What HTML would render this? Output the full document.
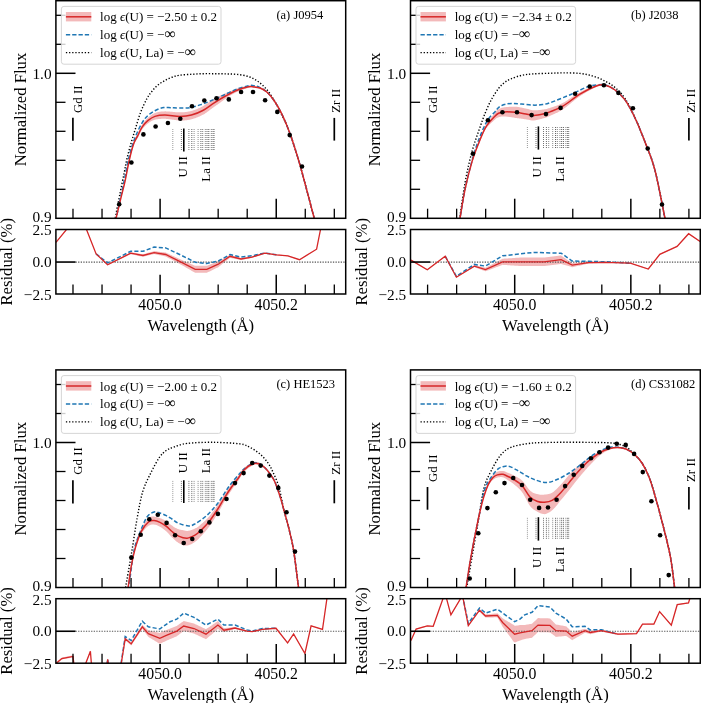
<!DOCTYPE html>
<html><head><meta charset="utf-8"><style>html,body{margin:0;padding:0;background:#fff;overflow:hidden}svg{display:block} svg{will-change:transform}</style></head>
<body><svg width="701" height="703" viewBox="0 0 701 703">
<rect width="701" height="703" fill="#fff"/>
<defs>
<clipPath id="cma"><rect x="55.9" y="0.7" width="289.8" height="217.6"/></clipPath>
<clipPath id="cra"><rect x="55.9" y="229.5" width="289.8" height="64.5"/></clipPath>
<clipPath id="cmb"><rect x="410.5" y="0.7" width="289.8" height="217.6"/></clipPath>
<clipPath id="crb"><rect x="410.5" y="229.5" width="289.8" height="64.5"/></clipPath>
<clipPath id="cmc"><rect x="55.9" y="369.9" width="289.8" height="217.6"/></clipPath>
<clipPath id="crc"><rect x="55.9" y="598.7" width="289.8" height="64.5"/></clipPath>
<clipPath id="cmd"><rect x="410.5" y="369.9" width="289.8" height="217.6"/></clipPath>
<clipPath id="crd"><rect x="410.5" y="598.7" width="289.8" height="64.5"/></clipPath>
</defs>
<g clip-path="url(#cma)">
<path d="M115.4,220.19 L115.43,220.05 L115.43,220.02 L115.46,219.91 L115.54,219.52 L115.74,218.66 L116.1,217.15 L116.17,216.85 L116.25,216.53 L116.33,216.19 L116.41,215.83 L116.5,215.45 L116.59,215.06 L116.69,214.64 L116.79,214.21 L116.9,213.76 L117.01,213.3 L117.12,212.83 L117.23,212.34 L117.35,211.85 L117.47,211.34 L117.59,210.82 L117.72,210.29 L117.84,209.75 L117.97,209.21 L118.1,208.66 L118.23,208.11 L118.36,207.55 L118.5,206.98 L118.63,206.42 L118.76,205.85 L118.9,205.28 L119.03,204.71 L119.17,204.15 L119.3,203.58 L119.43,203.02 L119.57,202.46 L119.7,201.91 L119.83,201.36 L119.96,200.82 L120.08,200.28 L120.21,199.75 L120.33,199.24 L120.45,198.73 L120.57,198.23 L120.69,197.75 L120.8,197.28 L120.93,196.75 L121.05,196.23 L121.18,195.71 L121.3,195.21 L121.43,194.7 L121.55,194.21 L121.67,193.71 L121.79,193.23 L121.91,192.74 L122.03,192.26 L122.15,191.78 L122.27,191.31 L122.39,190.83 L122.51,190.36 L122.63,189.89 L122.75,189.42 L122.87,188.95 L122.98,188.47 L123.1,188 L123.22,187.53 L123.34,187.05 L123.45,186.57 L123.57,186.09 L123.69,185.61 L123.81,185.12 L123.93,184.63 L124.04,184.13 L124.16,183.63 L124.28,183.12 L124.4,182.61 L124.52,182.09 L124.64,181.56 L124.76,181.03 L124.88,180.49 L125,179.93 L125.1,179.48 L125.2,179.02 L125.3,178.55 L125.4,178.07 L125.5,177.59 L125.6,177.1 L125.7,176.61 L125.8,176.11 L125.9,175.6 L126,175.1 L126.1,174.59 L126.2,174.07 L126.3,173.55 L126.4,173.03 L126.5,172.51 L126.6,171.99 L126.7,171.46 L126.8,170.93 L126.9,170.4 L127,169.87 L127.1,169.34 L127.2,168.81 L127.3,168.29 L127.4,167.76 L127.5,167.23 L127.6,166.71 L127.7,166.18 L127.8,165.66 L127.9,165.14 L128,164.63 L128.1,164.12 L128.2,163.61 L128.3,163.11 L128.4,162.61 L128.5,162.12 L128.6,161.63 L128.7,161.14 L128.8,160.67 L128.9,160.2 L129,159.73 L129.1,159.28 L129.2,158.83 L129.3,158.39 L129.43,157.8 L129.57,157.22 L129.7,156.64 L129.83,156.07 L129.96,155.5 L130.09,154.94 L130.22,154.38 L130.35,153.82 L130.49,153.27 L130.62,152.73 L130.75,152.19 L130.88,151.65 L131.01,151.12 L131.14,150.6 L131.27,150.08 L131.4,149.57 L131.53,149.07 L131.66,148.57 L131.79,148.08 L131.92,147.59 L132.05,147.11 L132.18,146.64 L132.31,146.18 L132.45,145.72 L132.58,145.27 L132.71,144.83 L132.84,144.39 L132.97,143.97 L133.1,143.55 L133.23,143.14 L133.37,142.74 L133.5,142.34 L133.72,141.71 L133.95,141.11 L134.17,140.54 L134.4,140.01 L134.62,139.5 L134.85,139.01 L135.08,138.55 L135.3,138.11 L135.53,137.68 L135.76,137.26 L135.98,136.85 L136.21,136.44 L136.44,136.03 L136.67,135.63 L136.89,135.22 L137.12,134.8 L137.35,134.37 L137.57,133.93 L137.8,133.47 L138.02,133.01 L138.25,132.53 L138.46,132.06 L138.68,131.58 L138.9,131.1 L139.11,130.62 L139.32,130.14 L139.54,129.66 L139.75,129.18 L139.97,128.71 L140.19,128.23 L140.41,127.77 L140.64,127.3 L140.87,126.85 L141.1,126.39 L141.34,125.95 L141.59,125.52 L141.84,125.09 L142.1,124.68 L142.4,124.22 L142.7,123.77 L143,123.33 L143.32,122.9 L143.63,122.47 L143.95,122.05 L144.28,121.63 L144.61,121.23 L144.94,120.83 L145.28,120.44 L145.63,120.05 L145.98,119.67 L146.33,119.3 L146.69,118.93 L147.06,118.57 L147.43,118.22 L147.8,117.88 L148.2,117.52 L148.6,117.16 L149,116.82 L149.41,116.47 L149.82,116.14 L150.23,115.81 L150.65,115.49 L151.08,115.18 L151.52,114.88 L151.96,114.59 L152.42,114.31 L152.89,114.04 L153.37,113.78 L153.86,113.54 L154.37,113.3 L154.9,113.09 L155.33,112.92 L155.76,112.76 L156.19,112.61 L156.63,112.47 L157.08,112.34 L157.53,112.21 L157.98,112.09 L158.45,111.98 L158.92,111.87 L159.4,111.79 L159.89,111.72 L160.39,111.66 L160.91,111.6 L161.43,111.55 L161.97,111.51 L162.53,111.47 L163.1,111.44 L163.68,111.41 L164.28,111.39 L164.9,111.37 L165.33,111.37 L165.77,111.37 L166.22,111.38 L166.69,111.4 L167.16,111.42 L167.65,111.45 L168.15,111.48 L168.66,111.52 L169.17,111.56 L169.69,111.6 L170.22,111.65 L170.75,111.7 L171.29,111.75 L171.82,111.81 L172.36,111.86 L172.9,111.91 L173.44,111.97 L173.98,112.02 L174.52,112.07 L175.05,112.11 L175.58,112.16 L176.11,112.2 L176.62,112.24 L177.14,112.27 L177.64,112.3 L178.13,112.32 L178.62,112.34 L179.09,112.35 L179.55,112.35 L180,112.34 L180.59,112.33 L181.18,112.31 L181.74,112.29 L182.3,112.26 L182.84,112.24 L183.38,112.21 L183.9,112.18 L184.42,112.14 L184.93,112.09 L185.43,112.04 L185.93,111.99 L186.43,111.93 L186.92,111.86 L187.41,111.78 L187.9,111.7 L188.39,111.61 L188.88,111.52 L189.38,111.42 L189.88,111.31 L190.38,111.19 L190.89,111.06 L191.4,110.93 L191.88,110.8 L192.35,110.66 L192.83,110.52 L193.3,110.37 L193.78,110.22 L194.25,110.06 L194.72,109.9 L195.2,109.72 L195.68,109.54 L196.15,109.35 L196.63,109.16 L197.1,108.96 L197.58,108.76 L198.05,108.55 L198.53,108.33 L199,108.11 L199.47,107.89 L199.95,107.66 L200.43,107.42 L200.9,107.18 L201.38,106.93 L201.85,106.68 L202.33,106.42 L202.8,106.16 L203.22,105.92 L203.64,105.67 L204.07,105.41 L204.49,105.14 L204.91,104.87 L205.33,104.59 L205.76,104.31 L206.18,104.03 L206.6,103.76 L207.02,103.49 L207.44,103.21 L207.87,102.93 L208.29,102.65 L208.71,102.37 L209.13,102.09 L209.56,101.8 L209.98,101.52 L210.4,101.23 L210.82,100.95 L211.24,100.67 L211.67,100.39 L212.09,100.12 L212.51,99.85 L212.93,99.58 L213.36,99.32 L213.78,99.06 L214.2,98.81 L214.64,98.55 L215.08,98.3 L215.51,98.04 L215.95,97.79 L216.39,97.54 L216.83,97.29 L217.27,97.04 L217.7,96.79 L218.14,96.56 L218.58,96.36 L219.02,96.16 L219.46,95.96 L219.89,95.76 L220.33,95.56 L220.77,95.36 L221.21,95.17 L221.65,94.97 L222.08,94.78 L222.52,94.59 L222.96,94.4 L223.4,94.22 L223.84,94.03 L224.28,93.85 L224.72,93.67 L225.16,93.48 L225.6,93.31 L226.06,93.12 L226.52,92.93 L226.98,92.75 L227.44,92.56 L227.9,92.38 L228.36,92.19 L228.82,92.01 L229.28,91.8 L229.74,91.59 L230.2,91.37 L230.66,91.15 L231.12,90.94 L231.58,90.73 L232.04,90.53 L232.5,90.32 L232.96,90.12 L233.42,89.93 L233.88,89.73 L234.34,89.54 L234.8,89.36 L235.26,89.18 L235.72,89.01 L236.18,88.84 L236.64,88.67 L237.1,88.52 L237.6,88.35 L238.12,88.19 L238.64,88.03 L239.17,87.87 L239.71,87.72 L240.25,87.57 L240.8,87.42 L241.34,87.27 L241.89,87.13 L242.43,87 L242.97,86.86 L243.5,86.74 L244.03,86.62 L244.54,86.5 L245.05,86.39 L245.54,86.28 L246.02,86.19 L246.48,86.09 L246.93,86.01 L247.35,85.93 L247.76,85.85 L248.14,85.79 L248.5,85.72 L249.29,85.61 L249.92,85.54 L250.42,85.52 L250.84,85.53 L251.21,85.58 L251.57,85.65 L251.96,85.73 L252.43,85.83 L253,85.92 L253.42,85.98 L253.87,86.04 L254.34,86.1 L254.82,86.17 L255.32,86.24 L255.84,86.32 L256.36,86.4 L256.88,86.5 L257.41,86.61 L257.94,86.74 L258.47,86.87 L258.99,87.03 L259.5,87.21 L260,87.4 L260.46,87.58 L260.92,87.77 L261.37,87.96 L261.83,88.17 L262.28,88.39 L262.73,88.62 L263.18,88.86 L263.63,89.12 L264.08,89.39 L264.53,89.68 L264.98,89.99 L265.44,90.32 L265.89,90.66 L266.34,91.03 L266.8,91.42 L267.13,91.71 L267.45,92.02 L267.78,92.33 L268.11,92.65 L268.44,92.98 L268.77,93.32 L269.1,93.67 L269.43,94.03 L269.76,94.4 L270.09,94.78 L270.41,95.17 L270.74,95.56 L271.07,95.96 L271.4,96.37 L271.73,96.79 L272.06,97.21 L272.39,97.65 L272.72,98.09 L273.05,98.53 L273.37,98.99 L273.7,99.45 L273.96,99.82 L274.23,100.21 L274.5,100.6 L274.76,101 L275.03,101.41 L275.3,101.83 L275.57,102.25 L275.84,102.67 L276.1,103.11 L276.37,103.54 L276.64,103.98 L276.91,104.43 L277.18,104.88 L277.44,105.33 L277.71,105.78 L277.97,106.24 L278.23,106.7 L278.49,107.16 L278.75,107.62 L279.01,108.09 L279.26,108.55 L279.52,109.02 L279.77,109.48 L280.01,109.94 L280.26,110.41 L280.5,110.87 L280.73,111.31 L280.96,111.75 L281.18,112.2 L281.4,112.64 L281.62,113.08 L281.84,113.52 L282.05,113.96 L282.27,114.41 L282.48,114.85 L282.69,115.3 L282.9,115.75 L283.1,116.2 L283.31,116.65 L283.52,117.11 L283.72,117.56 L283.92,118.03 L284.13,118.49 L284.33,118.96 L284.54,119.43 L284.74,119.91 L284.95,120.39 L285.15,120.88 L285.36,121.37 L285.57,121.86 L285.78,122.37 L285.99,122.87 L286.2,123.39 L286.38,123.82 L286.55,124.25 L286.73,124.67 L286.9,125.09 L287.07,125.51 L287.24,125.93 L287.41,126.34 L287.58,126.75 L287.75,127.17 L287.91,127.59 L288.08,128 L288.25,128.43 L288.42,128.85 L288.59,129.28 L288.75,129.72 L288.93,130.16 L289.1,130.61 L289.27,131.07 L289.45,131.53 L289.62,132.01 L289.8,132.5 L289.98,133 L290.17,133.51 L290.36,134.03 L290.55,134.57 L290.74,135.12 L290.94,135.69 L291.15,136.28 L291.35,136.88 L291.56,137.51 L291.78,138.15 L292,138.81 L292.13,139.18 L292.25,139.56 L292.38,139.94 L292.5,140.32 L292.63,140.7 L292.76,141.08 L292.88,141.46 L293.01,141.84 L293.14,142.22 L293.26,142.61 L293.39,143 L293.52,143.39 L293.65,143.78 L293.78,144.18 L293.91,144.58 L294.04,144.98 L294.17,145.38 L294.31,145.79 L294.44,146.2 L294.58,146.61 L294.71,147.03 L294.85,147.46 L294.98,147.88 L295.12,148.32 L295.26,148.75 L295.4,149.19 L295.54,149.64 L295.68,150.09 L295.83,150.55 L295.97,151.01 L296.12,151.48 L296.27,151.95 L296.42,152.43 L296.57,152.92 L296.72,153.42 L296.87,153.92 L297.03,154.42 L297.18,154.94 L297.34,155.46 L297.5,155.99 L297.66,156.53 L297.82,157.07 L297.99,157.63 L298.15,158.19 L298.32,158.76 L298.49,159.34 L298.66,159.93 L298.84,160.52 L299.01,161.13 L299.19,161.74 L299.37,162.37 L299.56,163 L299.74,163.65 L299.93,164.31 L300.12,164.97 L300.31,165.65 L300.5,166.34 L300.61,166.71 L300.71,167.1 L300.82,167.49 L300.93,167.89 L301.05,168.3 L301.16,168.72 L301.28,169.14 L301.4,169.57 L301.52,170.01 L301.64,170.46 L301.77,170.91 L301.89,171.37 L302.02,171.84 L302.15,172.31 L302.28,172.79 L302.41,173.27 L302.54,173.76 L302.68,174.25 L302.81,174.75 L302.95,175.26 L303.09,175.77 L303.22,176.28 L303.36,176.8 L303.51,177.33 L303.65,177.86 L303.79,178.39 L303.93,178.92 L304.08,179.46 L304.22,180.01 L304.37,180.55 L304.52,181.1 L304.66,181.65 L304.81,182.21 L304.96,182.77 L305.11,183.33 L305.26,183.89 L305.41,184.45 L305.56,185.02 L305.71,185.59 L305.86,186.16 L306.01,186.73 L306.16,187.3 L306.32,187.87 L306.47,188.44 L306.62,189.02 L306.77,189.59 L306.92,190.16 L307.07,190.74 L307.23,191.31 L307.38,191.89 L307.53,192.46 L307.68,193.03 L307.83,193.6 L307.98,194.17 L308.13,194.74 L308.28,195.31 L308.43,195.88 L308.58,196.44 L308.73,197 L308.87,197.56 L309.02,198.12 L309.17,198.67 L309.31,199.23 L309.46,199.78 L309.6,200.32 L309.74,200.87 L309.89,201.4 L310.03,201.94 L310.17,202.47 L310.3,203 L310.44,203.52 L310.58,204.04 L310.71,204.56 L310.85,205.07 L310.98,205.57 L311.11,206.07 L311.24,206.57 L311.37,207.06 L311.5,207.54 L311.62,208.02 L311.75,208.49 L311.87,208.95 L311.99,209.41 L312.11,209.87 L312.23,210.31 L312.34,210.75 L312.45,211.18 L312.57,211.6 L312.68,212.02 L312.78,212.43 L312.89,212.83 L312.99,213.22 L313.09,213.61 L313.19,213.99 L313.29,214.35 L313.39,214.71 L313.48,215.06 L313.57,215.4 L313.66,215.74 L313.74,216.06 L313.82,216.37 L313.9,216.67 L313.98,216.97 L314.06,217.25 L314.13,217.52 L314.2,217.78 L315.2,221.5 L315.49,222.54 L315.36,222 L315.1,220.98 L315,220.58 L315,221.42 L315.1,221.81 L315.36,222.83 L315.49,223.37 L315.2,222.33 L314.2,218.62 L314.13,218.36 L314.06,218.09 L313.98,217.81 L313.9,217.51 L313.82,217.21 L313.74,216.9 L313.66,216.58 L313.57,216.25 L313.48,215.91 L313.39,215.56 L313.29,215.2 L313.19,214.83 L313.09,214.46 L312.99,214.07 L312.89,213.68 L312.78,213.28 L312.68,212.87 L312.57,212.45 L312.45,212.03 L312.34,211.6 L312.23,211.16 L312.11,210.72 L311.99,210.27 L311.87,209.81 L311.75,209.34 L311.62,208.87 L311.5,208.4 L311.37,207.91 L311.24,207.43 L311.11,206.93 L310.98,206.43 L310.85,205.93 L310.71,205.42 L310.58,204.91 L310.44,204.39 L310.3,203.86 L310.17,203.34 L310.03,202.81 L309.89,202.27 L309.74,201.73 L309.6,201.19 L309.46,200.65 L309.31,200.1 L309.17,199.55 L309.02,198.99 L308.87,198.44 L308.73,197.88 L308.58,197.32 L308.43,196.75 L308.28,196.19 L308.13,195.62 L307.98,195.05 L307.83,194.48 L307.68,193.91 L307.53,193.34 L307.38,192.77 L307.23,192.2 L307.07,191.62 L306.92,191.05 L306.77,190.48 L306.62,189.91 L306.47,189.33 L306.32,188.76 L306.16,188.19 L306.01,187.62 L305.86,187.05 L305.71,186.48 L305.56,185.91 L305.41,185.35 L305.26,184.79 L305.11,184.23 L304.96,183.67 L304.81,183.11 L304.66,182.56 L304.52,182 L304.37,181.46 L304.22,180.91 L304.08,180.37 L303.93,179.83 L303.79,179.3 L303.65,178.76 L303.51,178.24 L303.36,177.71 L303.22,177.2 L303.09,176.68 L302.95,176.17 L302.81,175.67 L302.68,175.17 L302.54,174.68 L302.41,174.19 L302.28,173.7 L302.15,173.23 L302.02,172.76 L301.89,172.29 L301.77,171.83 L301.64,171.38 L301.52,170.94 L301.4,170.5 L301.28,170.07 L301.16,169.64 L301.05,169.23 L300.93,168.82 L300.82,168.42 L300.71,168.03 L300.61,167.64 L300.5,167.27 L300.31,166.58 L300.12,165.9 L299.93,165.24 L299.74,164.58 L299.56,163.94 L299.37,163.31 L299.19,162.68 L299.01,162.07 L298.84,161.46 L298.66,160.87 L298.49,160.28 L298.32,159.7 L298.15,159.13 L297.99,158.57 L297.82,158.02 L297.66,157.48 L297.5,156.94 L297.34,156.41 L297.18,155.89 L297.03,155.38 L296.87,154.87 L296.72,154.37 L296.57,153.88 L296.42,153.39 L296.27,152.91 L296.12,152.44 L295.97,151.97 L295.83,151.51 L295.68,151.05 L295.54,150.6 L295.4,150.16 L295.26,149.72 L295.12,149.28 L294.98,148.85 L294.85,148.42 L294.71,148 L294.58,147.58 L294.44,147.17 L294.31,146.76 L294.17,146.35 L294.04,145.95 L293.91,145.55 L293.78,145.15 L293.65,144.76 L293.52,144.37 L293.39,143.98 L293.26,143.59 L293.14,143.2 L293.01,142.82 L292.88,142.44 L292.76,142.06 L292.63,141.68 L292.5,141.3 L292.38,140.92 L292.25,140.55 L292.13,140.17 L292,139.79 L291.78,139.13 L291.56,138.49 L291.35,137.87 L291.15,137.27 L290.94,136.69 L290.74,136.12 L290.55,135.57 L290.36,135.03 L290.17,134.51 L289.98,134 L289.8,133.5 L289.62,133.01 L289.45,132.54 L289.27,132.07 L289.1,131.61 L288.93,131.17 L288.75,130.72 L288.59,130.29 L288.42,129.86 L288.25,129.44 L288.08,129.02 L287.91,128.6 L287.75,128.18 L287.58,127.77 L287.41,127.36 L287.24,126.94 L287.07,126.53 L286.9,126.11 L286.73,125.69 L286.55,125.27 L286.38,124.85 L286.2,124.41 L285.99,123.9 L285.78,123.39 L285.57,122.89 L285.36,122.4 L285.15,121.91 L284.95,121.42 L284.74,120.94 L284.54,120.47 L284.33,120 L284.13,119.53 L283.92,119.07 L283.72,118.61 L283.52,118.15 L283.31,117.7 L283.1,117.24 L282.9,116.79 L282.69,116.35 L282.48,115.9 L282.27,115.46 L282.05,115.02 L281.84,114.58 L281.62,114.13 L281.4,113.69 L281.18,113.25 L280.96,112.81 L280.73,112.37 L280.5,111.93 L280.26,111.47 L280.01,111.01 L279.77,110.55 L279.52,110.09 L279.26,109.62 L279.01,109.16 L278.75,108.7 L278.49,108.24 L278.23,107.78 L277.97,107.32 L277.71,106.86 L277.44,106.41 L277.18,105.96 L276.91,105.51 L276.64,105.07 L276.37,104.63 L276.1,104.2 L275.84,103.77 L275.57,103.34 L275.3,102.93 L275.03,102.51 L274.76,102.11 L274.5,101.71 L274.23,101.32 L273.96,100.93 L273.7,100.55 L273.37,100.1 L273.05,99.65 L272.72,99.2 L272.39,98.76 L272.06,98.33 L271.73,97.91 L271.4,97.5 L271.07,97.09 L270.74,96.69 L270.41,96.3 L270.09,95.91 L269.76,95.54 L269.43,95.17 L269.1,94.81 L268.77,94.47 L268.44,94.13 L268.11,93.8 L267.78,93.48 L267.45,93.17 L267.13,92.87 L266.8,92.58 L266.34,92.19 L265.89,91.83 L265.44,91.48 L264.98,91.16 L264.53,90.85 L264.08,90.56 L263.63,90.29 L263.18,90.04 L262.73,89.8 L262.28,89.57 L261.83,89.36 L261.37,89.15 L260.92,88.96 L260.46,88.78 L260,88.6 L259.5,88.45 L258.99,88.31 L258.47,88.2 L257.94,88.1 L257.41,88.02 L256.88,87.95 L256.36,87.9 L255.84,87.85 L255.32,87.81 L254.82,87.78 L254.34,87.75 L253.87,87.73 L253.42,87.71 L253,87.68 L252.43,87.63 L251.96,87.58 L251.57,87.52 L251.21,87.48 L250.84,87.47 L250.42,87.49 L249.92,87.55 L249.29,87.68 L248.5,87.88 L248.14,87.97 L247.76,88.08 L247.35,88.19 L246.93,88.31 L246.48,88.44 L246.02,88.58 L245.54,88.73 L245.05,88.88 L244.54,89.04 L244.03,89.21 L243.5,89.39 L242.97,89.57 L242.43,89.75 L241.89,89.94 L241.34,90.14 L240.8,90.34 L240.25,90.54 L239.71,90.76 L239.17,90.98 L238.64,91.2 L238.12,91.43 L237.6,91.65 L237.1,91.88 L236.64,92.1 L236.18,92.32 L235.72,92.55 L235.26,92.78 L234.8,93.02 L234.34,93.26 L233.88,93.51 L233.42,93.76 L232.96,94.02 L232.5,94.28 L232.04,94.54 L231.58,94.8 L231.12,95.07 L230.66,95.34 L230.2,95.62 L229.74,95.89 L229.28,96.17 L228.82,96.46 L228.36,96.78 L227.9,97.1 L227.44,97.42 L226.98,97.74 L226.52,98.06 L226.06,98.38 L225.6,98.69 L225.16,99 L224.72,99.31 L224.28,99.62 L223.84,99.93 L223.4,100.25 L222.96,100.56 L222.52,100.88 L222.08,101.19 L221.65,101.51 L221.21,101.83 L220.77,102.16 L220.33,102.48 L219.89,102.81 L219.46,103.13 L219.02,103.46 L218.58,103.79 L218.14,104.12 L217.7,104.42 L217.27,104.71 L216.83,105.01 L216.39,105.3 L215.95,105.6 L215.51,105.89 L215.08,106.19 L214.64,106.49 L214.2,106.79 L213.78,107.08 L213.36,107.38 L212.93,107.69 L212.51,108 L212.09,108.31 L211.67,108.63 L211.24,108.95 L210.82,109.27 L210.4,109.59 L209.98,109.92 L209.56,110.25 L209.13,110.57 L208.71,110.9 L208.29,111.22 L207.87,111.55 L207.44,111.87 L207.02,112.19 L206.6,112.5 L206.18,112.81 L205.76,113.1 L205.33,113.37 L204.91,113.63 L204.49,113.89 L204.07,114.14 L203.64,114.38 L203.22,114.62 L202.8,114.84 L202.33,115.09 L201.85,115.33 L201.38,115.56 L200.9,115.79 L200.43,116.02 L199.95,116.24 L199.47,116.45 L199,116.66 L198.53,116.86 L198.05,117.06 L197.58,117.25 L197.1,117.44 L196.63,117.62 L196.15,117.8 L195.68,117.97 L195.2,118.13 L194.72,118.29 L194.25,118.45 L193.78,118.6 L193.3,118.75 L192.83,118.89 L192.35,119.02 L191.88,119.15 L191.4,119.27 L190.89,119.4 L190.38,119.52 L189.88,119.63 L189.38,119.73 L188.88,119.82 L188.39,119.91 L187.9,119.99 L187.41,120.07 L186.92,120.13 L186.43,120.19 L185.93,120.25 L185.43,120.3 L184.93,120.34 L184.42,120.38 L183.9,120.41 L183.38,120.43 L182.84,120.45 L182.3,120.47 L181.74,120.48 L181.18,120.47 L180.59,120.47 L180,120.46 L179.55,120.44 L179.09,120.42 L178.62,120.39 L178.13,120.35 L177.64,120.31 L177.14,120.26 L176.62,120.2 L176.11,120.14 L175.58,120.08 L175.05,120.01 L174.52,119.94 L173.98,119.87 L173.44,119.79 L172.9,119.72 L172.36,119.64 L171.82,119.56 L171.29,119.49 L170.75,119.41 L170.22,119.34 L169.69,119.27 L169.17,119.2 L168.66,119.14 L168.15,119.08 L167.65,119.02 L167.16,118.97 L166.69,118.93 L166.22,118.89 L165.77,118.86 L165.33,118.84 L164.9,118.83 L164.28,118.82 L163.68,118.81 L163.1,118.81 L162.53,118.82 L161.97,118.84 L161.43,118.86 L160.91,118.88 L160.39,118.92 L159.89,118.96 L159.4,119.01 L158.92,119.06 L158.45,119.1 L157.98,119.15 L157.53,119.21 L157.08,119.27 L156.63,119.34 L156.19,119.42 L155.76,119.51 L155.33,119.61 L154.9,119.71 L154.37,119.86 L153.86,120.02 L153.37,120.2 L152.89,120.39 L152.42,120.59 L151.96,120.81 L151.52,121.04 L151.08,121.28 L150.65,121.53 L150.23,121.79 L149.82,122.06 L149.41,122.34 L149,122.63 L148.6,122.92 L148.2,123.22 L147.8,123.52 L147.43,123.81 L147.06,124.11 L146.69,124.42 L146.33,124.74 L145.98,125.06 L145.63,125.39 L145.28,125.73 L144.94,126.07 L144.61,126.43 L144.28,126.79 L143.95,127.15 L143.63,127.53 L143.32,127.91 L143,128.31 L142.7,128.7 L142.4,129.11 L142.1,129.52 L141.84,129.9 L141.59,130.29 L141.34,130.7 L141.1,131.1 L140.87,131.52 L140.64,131.95 L140.41,132.38 L140.19,132.82 L139.97,133.26 L139.75,133.7 L139.54,134.15 L139.32,134.6 L139.11,135.05 L138.9,135.5 L138.68,135.95 L138.46,136.4 L138.25,136.85 L138.02,137.29 L137.8,137.73 L137.57,138.15 L137.35,138.56 L137.12,138.95 L136.89,139.34 L136.67,139.72 L136.44,140.09 L136.21,140.47 L135.98,140.84 L135.76,141.23 L135.53,141.62 L135.3,142.03 L135.08,142.44 L134.85,142.88 L134.62,143.34 L134.4,143.82 L134.17,144.33 L133.95,144.87 L133.72,145.45 L133.5,146.06 L133.37,146.43 L133.23,146.82 L133.1,147.22 L132.97,147.62 L132.84,148.03 L132.71,148.45 L132.58,148.88 L132.45,149.31 L132.31,149.75 L132.18,150.2 L132.05,150.66 L131.92,151.12 L131.79,151.59 L131.66,152.07 L131.53,152.55 L131.4,153.04 L131.27,153.54 L131.14,154.04 L131.01,154.55 L130.88,155.06 L130.75,155.58 L130.62,156.1 L130.49,156.63 L130.35,157.17 L130.22,157.71 L130.09,158.25 L129.96,158.8 L129.83,159.36 L129.7,159.91 L129.57,160.48 L129.43,161.04 L129.3,161.61 L129.2,162.04 L129.1,162.48 L129,162.93 L128.9,163.38 L128.8,163.84 L128.7,164.3 L128.6,164.77 L128.5,165.25 L128.4,165.73 L128.3,166.22 L128.2,166.71 L128.1,167.21 L128,167.71 L127.9,168.21 L127.8,168.72 L127.7,169.23 L127.6,169.74 L127.5,170.25 L127.4,170.77 L127.3,171.28 L127.2,171.8 L127.1,172.32 L127,172.83 L126.9,173.35 L126.8,173.87 L126.7,174.39 L126.6,174.9 L126.5,175.41 L126.4,175.93 L126.3,176.43 L126.2,176.94 L126.1,177.44 L126,177.94 L125.9,178.44 L125.8,178.93 L125.7,179.42 L125.6,179.9 L125.5,180.38 L125.4,180.85 L125.3,181.31 L125.2,181.77 L125.1,182.22 L125,182.67 L124.88,183.2 L124.76,183.73 L124.64,184.25 L124.52,184.77 L124.4,185.27 L124.28,185.77 L124.16,186.27 L124.04,186.75 L123.93,187.24 L123.81,187.72 L123.69,188.19 L123.57,188.66 L123.45,189.13 L123.34,189.59 L123.22,190.05 L123.1,190.51 L122.98,190.97 L122.87,191.43 L122.75,191.89 L122.63,192.35 L122.51,192.8 L122.39,193.26 L122.27,193.72 L122.15,194.18 L122.03,194.65 L121.91,195.12 L121.79,195.59 L121.67,196.06 L121.55,196.54 L121.43,197.02 L121.3,197.51 L121.18,198 L121.05,198.5 L120.93,199.01 L120.8,199.52 L120.69,199.98 L120.57,200.45 L120.45,200.94 L120.33,201.43 L120.21,201.93 L120.08,202.45 L119.96,202.97 L119.83,203.49 L119.7,204.03 L119.57,204.57 L119.43,205.11 L119.3,205.66 L119.17,206.21 L119.03,206.76 L118.9,207.31 L118.76,207.86 L118.63,208.41 L118.5,208.96 L118.36,209.51 L118.23,210.06 L118.1,210.6 L117.97,211.13 L117.84,211.66 L117.72,212.18 L117.59,212.69 L117.47,213.2 L117.35,213.69 L117.23,214.18 L117.12,214.65 L117.01,215.11 L116.9,215.56 L116.79,215.99 L116.69,216.41 L116.59,216.82 L116.5,217.2 L116.41,217.57 L116.33,217.92 L116.25,218.25 L116.17,218.56 L116.1,218.85 L115.74,220.33 L115.54,221.16 L115.46,221.54 L115.43,221.65 L115.43,221.68 L115.4,221.81 Z" fill="#f3b9ba"/>
<path d="M114.6,221 C114.78,220.07 114.82,219.88 115.7,215.4 C116.58,210.92 118.48,201.2 119.9,194.1 C121.32,187 123.02,178.73 124.2,172.8 C125.38,166.87 125.8,163.63 127,158.5 C128.2,153.37 129.95,147.12 131.4,142 C132.85,136.88 134.15,132.78 135.7,127.8 C137.25,122.82 138.85,116.93 140.7,112.1 C142.55,107.27 145.02,102.15 146.8,98.8 C148.58,95.45 149.68,94.18 151.4,92 C153.12,89.82 155.02,87.52 157.1,85.7 C159.18,83.88 161.62,82.43 163.9,81.1 C166.18,79.77 168.28,78.67 170.8,77.7 C173.32,76.73 175.57,75.87 179,75.3 C182.43,74.73 187.43,74.57 191.4,74.3 C195.37,74.03 199,73.8 202.8,73.7 C206.6,73.6 210.4,73.67 214.2,73.7 C218,73.73 221.78,73.78 225.6,73.9 C229.42,74.02 233.05,73.88 237.1,74.4 C241.15,74.92 246.1,75.58 249.9,77 C253.7,78.42 256.9,80.58 259.9,82.9 C262.9,85.22 265.58,88.08 267.9,90.9 C270.22,93.72 271.98,96.82 273.8,99.8 C275.62,102.78 277.43,106.18 278.8,108.8 C280.17,111.42 280.77,112.98 282,115.5 C283.23,118.02 284.53,119.93 286.2,123.9 C287.87,127.87 289.62,132.15 292,139.3 C294.38,146.45 296.8,153.65 300.5,166.8 C304.2,179.95 311.78,209.17 314.2,218.2 C316.62,227.23 314.87,220.53 315,221" fill="none" stroke="#000" stroke-width="1.4" stroke-dasharray="1.3,1.84"/>
<path d="M115.6,221 C115.72,220.5 115.5,221.83 116.3,218 C117.1,214.17 119.02,204.58 120.4,198 C121.78,191.42 123.12,185.57 124.6,178.5 C126.08,171.43 127.57,162.38 129.3,155.6 C131.03,148.82 132.87,143.27 135,137.8 C137.13,132.33 139.85,126.6 142.1,122.8 C144.35,119 146.13,117.13 148.5,115 C150.87,112.87 153.73,111.23 156.3,110 C158.87,108.77 161.48,107.98 163.9,107.6 C166.32,107.22 168.12,107.65 170.8,107.7 C173.48,107.75 176.57,107.95 180,107.9 C183.43,107.85 187.6,108.07 191.4,107.4 C195.2,106.73 199,105.23 202.8,103.9 C206.6,102.57 210.4,101.02 214.2,99.4 C218,97.78 221.78,95.92 225.6,94.2 C229.42,92.48 233.28,90.52 237.1,89.1 C240.92,87.68 245.65,86.27 248.5,85.7 C251.35,85.13 252.28,85.38 254.2,85.7 C256.12,86.02 257.9,86.55 260,87.6 C262.1,88.65 264.52,89.93 266.8,92 C269.08,94.07 271.42,96.77 273.7,100 C275.98,103.23 278.42,107.42 280.5,111.4 C282.58,115.38 284.28,119.25 286.2,123.9 C288.12,128.55 289.62,132.15 292,139.3 C294.38,146.45 296.8,153.65 300.5,166.8 C304.2,179.95 311.78,209.17 314.2,218.2 C316.62,227.23 314.87,220.53 315,221" fill="none" stroke="#1f77b4" stroke-width="1.5" stroke-dasharray="4.1,2.2"/>
<path d="M115.4,221 C115.52,220.5 115.2,221.77 116.1,218 C117,214.23 119.32,204.52 120.8,198.4 C122.28,192.28 123.58,187.7 125,181.3 C126.42,174.9 127.88,166.18 129.3,160 C130.72,153.82 132.08,148.27 133.5,144.2 C134.92,140.13 136.37,138.45 137.8,135.6 C139.23,132.75 140.43,129.58 142.1,127.1 C143.77,124.62 145.67,122.48 147.8,120.7 C149.93,118.92 152.05,117.33 154.9,116.4 C157.75,115.47 160.72,115.1 164.9,115.1 C169.08,115.1 175.58,116.4 180,116.4 C184.42,116.4 187.6,116.08 191.4,115.1 C195.2,114.12 199,112.55 202.8,110.5 C206.6,108.45 210.4,105.22 214.2,102.8 C218,100.38 221.78,98.1 225.6,96 C229.42,93.9 233.28,91.73 237.1,90.2 C240.92,88.67 245.85,87.37 248.5,86.8 C251.15,86.23 251.08,86.6 253,86.8 C254.92,87 257.7,87.13 260,88 C262.3,88.87 264.52,90 266.8,92 C269.08,94 271.42,96.77 273.7,100 C275.98,103.23 278.42,107.42 280.5,111.4 C282.58,115.38 284.28,119.25 286.2,123.9 C288.12,128.55 289.62,132.15 292,139.3 C294.38,146.45 296.8,153.65 300.5,166.8 C304.2,179.95 311.78,209.17 314.2,218.2 C316.62,227.23 314.87,220.53 315,221" fill="none" stroke="#d62728" stroke-width="1.5"/>
<circle cx="119.2" cy="204.3" r="2.3" fill="#000"/>
<circle cx="131.4" cy="162.5" r="2.3" fill="#000"/>
<circle cx="143.4" cy="134.4" r="2.3" fill="#000"/>
<circle cx="155.6" cy="126.5" r="2.3" fill="#000"/>
<circle cx="167.9" cy="123" r="2.3" fill="#000"/>
<circle cx="180.3" cy="118.8" r="2.3" fill="#000"/>
<circle cx="192" cy="106.2" r="2.3" fill="#000"/>
<circle cx="204.3" cy="100.5" r="2.3" fill="#000"/>
<circle cx="216.5" cy="98.2" r="2.3" fill="#000"/>
<circle cx="228.8" cy="99.4" r="2.3" fill="#000"/>
<circle cx="241.1" cy="92" r="2.3" fill="#000"/>
<circle cx="253" cy="92" r="2.3" fill="#000"/>
<circle cx="265.1" cy="100.2" r="2.3" fill="#000"/>
<circle cx="277.3" cy="111.9" r="2.3" fill="#000"/>
<circle cx="289.7" cy="135.1" r="2.3" fill="#000"/>
<circle cx="302" cy="166.5" r="2.3" fill="#000"/>
</g>
<g clip-path="url(#cra)">
<path d="M56,242 L56.65,241.2 L57.31,240.41 L57.96,239.61 L58.62,238.82 L59.27,238.02 L59.93,237.23 L60.58,236.43 L61.24,235.64 L61.89,234.84 L62.55,234.05 L63.2,233.25 L63.85,232.45 L64.51,231.66 L65.16,230.86 L65.82,230.07 L66.47,229.27 L67.13,228.48 L67.78,227.68 L68.44,226.89 L69.09,226.09 L69.75,225.3 L70.4,224.5 L71.34,224.1 L72.28,223.7 L73.22,223.3 L74.15,222.9 L75.09,222.5 L76.03,222.1 L76.97,221.7 L77.91,221.3 L78.85,220.9 L79.78,220.5 L80.72,220.1 L81.66,219.7 L82.6,219.3 L82.97,220.25 L83.35,221.21 L83.72,222.16 L84.1,223.11 L84.47,224.06 L84.85,225.02 L85.22,225.97 L85.6,226.92 L85.97,227.88 L86.35,228.83 L86.72,229.78 L87.1,230.73 L87.47,231.69 L87.85,232.64 L88.22,233.59 L88.6,234.54 L88.97,235.5 L89.35,236.45 L89.72,237.4 L90.1,238.36 L90.47,239.31 L90.85,240.26 L91.22,241.21 L91.6,242.17 L91.97,243.12 L92.35,244.07 L92.72,245.02 L93.1,245.98 L93.47,246.93 L93.85,247.88 L94.22,248.84 L94.6,249.79 L94.97,250.74 L95.35,251.69 L95.72,252.65 L96.1,253.6 L96.87,254.33 L97.63,255.05 L98.4,255.78 L99.17,256.51 L99.93,257.23 L100.7,257.94 L101.47,258.65 L102.23,259.36 L103,260.07 L103.77,260.78 L104.53,261.49 L105.3,262.2 L106.07,262.91 L106.83,263.61 L107.6,264.32 L108.52,263.84 L109.45,263.35 L110.37,262.87 L111.3,262.38 L112.22,261.89 L113.14,261.41 L114.07,260.92 L114.99,260.44 L115.92,259.95 L116.84,259.47 L117.76,258.98 L118.69,258.5 L119.61,258.01 L120.54,257.52 L121.46,257.04 L122.38,256.55 L123.31,256.07 L124.23,255.58 L125.16,255.1 L126.08,254.61 L127,254.13 L127.93,253.64 L128.85,253.15 L129.78,252.67 L130.7,252.19 L131.72,252.36 L132.75,252.53 L133.77,252.7 L134.8,252.87 L135.82,253.04 L136.85,253.21 L137.88,253.38 L138.9,253.55 L139.93,253.72 L140.95,253.89 L141.97,254.06 L143,254.23 L144.01,253.94 L145.02,253.66 L146.03,253.38 L147.04,253.09 L148.05,252.81 L149.05,252.52 L150.06,252.24 L151.07,251.95 L152.08,251.67 L153.09,251.38 L154.1,251.1 L155.15,251.23 L156.21,251.36 L157.26,251.5 L158.32,251.63 L159.37,251.76 L160.43,251.9 L161.48,252.03 L162.54,252.17 L163.59,252.3 L164.65,252.43 L165.7,252.57 L166.61,252.99 L167.51,253.41 L168.42,253.82 L169.32,254.24 L170.23,254.66 L171.14,255.08 L172.04,255.5 L172.95,255.92 L173.85,256.34 L174.76,256.76 L175.66,257.18 L176.57,257.6 L177.48,258.02 L178.38,258.44 L179.29,258.86 L180.19,259.28 L181.1,259.69 L182.04,260.1 L182.98,260.51 L183.92,260.91 L184.86,261.32 L185.8,261.72 L186.74,262.13 L187.68,262.54 L188.62,262.94 L189.56,263.35 L190.5,263.75 L191.44,264.16 L192.38,264.57 L193.32,264.97 L194.26,265.38 L195.2,265.8 L196.25,265.8 L197.31,265.8 L198.36,265.8 L199.42,265.8 L200.47,265.8 L201.53,265.8 L202.58,265.8 L203.64,265.8 L204.69,265.8 L205.75,265.8 L206.8,265.8 L207.76,265.41 L208.72,265.03 L209.68,264.65 L210.63,264.27 L211.59,263.88 L212.55,263.5 L213.51,263.12 L214.47,262.74 L215.43,262.36 L216.38,261.98 L217.34,261.6 L218.3,261.24 L219.14,260.78 L219.97,260.32 L220.81,259.86 L221.64,259.4 L222.48,258.94 L223.31,258.48 L224.15,258.02 L224.99,257.56 L225.82,257.1 L226.66,256.64 L227.49,256.18 L228.33,255.72 L229.16,255.26 L230,254.8 L231,255.09 L232,255.38 L233,255.67 L234,255.96 L235,256.25 L236,256.55 L237,256.84 L238,257.13 L239,257.42 L240,257.71 L241,258 L242,257.85 L243,257.7 L244,257.54 L245,257.39 L246,257.24 L247,257.09 L248,256.94 L249,256.78 L250,256.63 L251,256.48 L252,256.33 L252.98,256.05 L253.97,255.77 L254.95,255.49 L255.94,255.21 L256.92,254.93 L257.91,254.65 L258.89,254.37 L259.88,254.09 L260.86,253.81 L261.85,253.53 L262.83,253.25 L263.82,252.98 L264.8,252.7 L265.85,252.85 L266.91,253 L267.96,253.14 L269.02,253.29 L270.07,253.44 L271.13,253.59 L272.18,253.74 L273.24,253.88 L274.29,254.03 L275.35,254.18 L276.4,254.33 L277.45,254.42 L278.49,254.51 L279.54,254.61 L280.58,254.7 L281.63,254.79 L282.67,254.89 L283.72,254.98 L284.76,255.07 L285.81,255.17 L286.85,255.26 L287.9,255.35 L288.87,255.68 L289.83,256.01 L290.8,256.34 L291.77,256.66 L292.73,256.99 L293.7,257.32 L294.67,257.64 L295.63,257.97 L296.6,258.3 L297.57,258.63 L298.53,258.95 L299.5,259.28 L300.36,258.76 L301.21,258.24 L302.06,257.71 L302.92,257.19 L303.77,256.67 L304.63,256.14 L305.49,255.62 L306.34,255.1 L307.19,254.57 L308.05,254.05 L308.91,253.53 L309.76,253.01 L310.62,252.48 L311.47,251.96 L312.33,251.44 L313.18,250.91 L314.04,250.39 L314.89,249.87 L315.75,249.34 L316.6,248.82 L316.8,247.81 L317,246.81 L317.2,245.8 L317.4,244.79 L317.6,243.79 L317.8,242.78 L318,241.77 L318.2,240.77 L318.4,239.76 L318.6,238.75 L318.8,237.75 L319,236.74 L319.2,235.73 L319.4,234.72 L319.6,233.72 L319.8,232.71 L320,231.7 L320.2,230.7 L320.4,229.69 L320.6,228.68 L320.8,227.68 L321,226.67 L321.2,225.66 L321.4,224.65 L321.6,223.65 L321.8,222.64 L322,221.63 L322.92,221.1 L323.85,220.56 L324.77,220.03 L325.69,219.49 L326.62,218.95 L327.54,218.42 L328.46,217.88 L329.38,217.34 L330.31,216.81 L331.23,216.27 L332.15,215.73 L333.08,215.2 L334,214.66 L335,214.66 L336,214.67 L337,214.67 L338,214.67 L339,214.67 L340,214.68 L341,214.68 L342,214.68 L343,214.68 L344,214.69 L345,214.69 L346,214.69 L346,215.31 L345,215.31 L344,215.31 L343,215.32 L342,215.32 L341,215.32 L340,215.32 L339,215.33 L338,215.33 L337,215.33 L336,215.33 L335,215.34 L334,215.34 L333.08,215.88 L332.15,216.42 L331.23,216.96 L330.31,217.5 L329.38,218.04 L328.46,218.58 L327.54,219.12 L326.62,219.66 L325.69,220.2 L324.77,220.74 L323.85,221.28 L322.92,221.83 L322,222.37 L321.8,223.37 L321.6,224.38 L321.4,225.39 L321.2,226.4 L321,227.41 L320.8,228.41 L320.6,229.42 L320.4,230.43 L320.2,231.44 L320,232.44 L319.8,233.45 L319.6,234.46 L319.4,235.47 L319.2,236.48 L319,237.48 L318.8,238.49 L318.6,239.5 L318.4,240.51 L318.2,241.52 L318,242.52 L317.8,243.53 L317.6,244.54 L317.4,245.55 L317.2,246.55 L317,247.56 L316.8,248.57 L316.6,249.58 L315.75,250.11 L314.89,250.63 L314.04,251.16 L313.18,251.69 L312.33,252.21 L311.47,252.74 L310.62,253.27 L309.76,253.79 L308.91,254.32 L308.05,254.85 L307.19,255.38 L306.34,255.9 L305.49,256.43 L304.63,256.96 L303.77,257.48 L302.92,258.01 L302.06,258.54 L301.21,259.06 L300.36,259.59 L299.5,260.12 L298.53,259.8 L297.57,259.47 L296.6,259.15 L295.63,258.83 L294.67,258.51 L293.7,258.18 L292.73,257.86 L291.77,257.54 L290.8,257.21 L289.83,256.89 L288.87,256.57 L287.9,256.25 L286.85,256.16 L285.81,256.07 L284.76,255.98 L283.72,255.89 L282.67,255.8 L281.63,255.72 L280.58,255.63 L279.54,255.54 L278.49,255.45 L277.45,255.36 L276.4,255.27 L275.35,255.13 L274.29,254.99 L273.24,254.84 L272.18,254.7 L271.13,254.56 L270.07,254.42 L269.02,254.27 L267.96,254.13 L266.91,253.99 L265.85,253.84 L264.8,253.7 L263.82,254.02 L262.83,254.35 L261.85,254.67 L260.86,254.99 L259.88,255.31 L258.89,255.63 L257.91,255.95 L256.92,256.27 L255.94,256.59 L254.95,256.91 L253.97,257.23 L252.98,257.55 L252,257.87 L251,258.06 L250,258.26 L249,258.45 L248,258.65 L247,258.84 L246,259.03 L245,259.23 L244,259.42 L243,259.61 L242,259.81 L241,260 L240,259.8 L239,259.6 L238,259.4 L237,259.2 L236,259 L235,258.8 L234,258.6 L233,258.4 L232,258.2 L231,258 L230,257.8 L229.16,258.47 L228.33,259.14 L227.49,259.81 L226.66,260.48 L225.82,261.14 L224.99,261.81 L224.15,262.48 L223.31,263.15 L222.48,263.82 L221.64,264.49 L220.81,265.16 L219.97,265.82 L219.14,266.49 L218.3,267.16 L217.34,267.65 L216.38,268.12 L215.43,268.59 L214.47,269.06 L213.51,269.53 L212.55,270 L211.59,270.47 L210.63,270.93 L209.68,271.4 L208.72,271.87 L207.76,272.34 L206.8,272.8 L205.75,272.8 L204.69,272.8 L203.64,272.8 L202.58,272.8 L201.53,272.8 L200.47,272.8 L199.42,272.8 L198.36,272.8 L197.31,272.8 L196.25,272.8 L195.2,272.8 L194.26,272.27 L193.32,271.73 L192.38,271.19 L191.44,270.65 L190.5,270.11 L189.56,269.57 L188.62,269.03 L187.68,268.49 L186.74,267.95 L185.8,267.41 L184.86,266.87 L183.92,266.33 L182.98,265.79 L182.04,265.25 L181.1,264.71 L180.19,264.22 L179.29,263.73 L178.38,263.24 L177.48,262.76 L176.57,262.27 L175.66,261.78 L174.76,261.3 L173.85,260.81 L172.95,260.33 L172.04,259.84 L171.14,259.35 L170.23,258.87 L169.32,258.38 L168.42,257.89 L167.51,257.41 L166.61,256.92 L165.7,256.43 L164.65,256.22 L163.59,256.01 L162.54,255.8 L161.48,255.59 L160.43,255.37 L159.37,255.16 L158.32,254.95 L157.26,254.74 L156.21,254.53 L155.15,254.32 L154.1,254.1 L153.09,254.34 L152.08,254.59 L151.07,254.83 L150.06,255.07 L149.05,255.32 L148.05,255.56 L147.04,255.8 L146.03,256.04 L145.02,256.29 L144.01,256.53 L143,256.77 L141.97,256.56 L140.95,256.34 L139.93,256.13 L138.9,255.92 L137.88,255.71 L136.85,255.49 L135.82,255.28 L134.8,255.07 L133.77,254.85 L132.75,254.64 L131.72,254.43 L130.7,254.21 L129.78,254.66 L128.85,255.1 L127.93,255.54 L127,255.99 L126.08,256.43 L125.16,256.87 L124.23,257.31 L123.31,257.76 L122.38,258.2 L121.46,258.64 L120.54,259.08 L119.61,259.53 L118.69,259.97 L117.76,260.41 L116.84,260.85 L115.92,261.3 L114.99,261.74 L114.07,262.18 L113.14,262.62 L112.22,263.07 L111.3,263.51 L110.37,263.95 L109.45,264.39 L108.52,264.83 L107.6,265.28 L106.83,264.53 L106.07,263.79 L105.3,263.04 L104.53,262.3 L103.77,261.55 L103,260.81 L102.23,260.07 L101.47,259.32 L100.7,258.58 L99.93,257.83 L99.17,257.11 L98.4,256.38 L97.63,255.65 L96.87,254.93 L96.1,254.2 L95.72,253.25 L95.35,252.29 L94.97,251.34 L94.6,250.39 L94.22,249.44 L93.85,248.48 L93.47,247.53 L93.1,246.58 L92.72,245.62 L92.35,244.67 L91.97,243.72 L91.6,242.77 L91.22,241.81 L90.85,240.86 L90.47,239.91 L90.1,238.96 L89.72,238 L89.35,237.05 L88.97,236.1 L88.6,235.14 L88.22,234.19 L87.85,233.24 L87.47,232.29 L87.1,231.33 L86.72,230.38 L86.35,229.43 L85.97,228.48 L85.6,227.52 L85.22,226.57 L84.85,225.62 L84.47,224.66 L84.1,223.71 L83.72,222.76 L83.35,221.81 L82.97,220.85 L82.6,219.9 L81.66,220.3 L80.72,220.7 L79.78,221.1 L78.85,221.5 L77.91,221.9 L76.97,222.3 L76.03,222.7 L75.09,223.1 L74.15,223.5 L73.22,223.9 L72.28,224.3 L71.34,224.7 L70.4,225.1 L69.75,225.9 L69.09,226.69 L68.44,227.49 L67.78,228.28 L67.13,229.08 L66.47,229.87 L65.82,230.67 L65.16,231.46 L64.51,232.26 L63.85,233.05 L63.2,233.85 L62.55,234.65 L61.89,235.44 L61.24,236.24 L60.58,237.03 L59.93,237.83 L59.27,238.62 L58.62,239.42 L57.96,240.21 L57.31,241.01 L56.65,241.8 L56,242.6 Z" fill="#f3b9ba"/>
<line x1="75.5" y1="262.05" x2="345.7" y2="262.05" stroke="#555" stroke-width="1.2" stroke-dasharray="1.3,1.3"/>
<path d="M96.1,253.9 L107.6,262.9 L130.7,251.3 L143,251.3 L154.1,247.1 L165.7,247.9 L181.1,255.2 L195.2,262.2 L206.8,263.5 L218.3,261 L230.1,254.5 L241,257.1 L252,255.8 L264.8,253 L276.4,254.8" fill="none" stroke="#1f77b4" stroke-width="1.5" stroke-dasharray="4.1,2.2"/>
<path d="M56,242.3 L70.4,224.8 L82.6,219.6 L96.1,253.9 L107.6,264.8 L130.7,253.2 L143,255.5 L154.1,252.6 L165.7,254.5 L181.1,262.2 L195.2,269.3 L206.8,269.3 L218.3,264.2 L230,256.3 L241,259 L252,257.1 L264.8,253.2 L276.4,254.8 L287.9,255.8 L299.5,259.7 L316.6,249.2 L322,222 L334,215 L346,215" fill="none" stroke="#d62728" stroke-width="1.3" stroke-linejoin="miter"/>
</g>
<g transform="translate(0,0)">
<line x1="72.9" y1="117.8" x2="72.9" y2="140.8" stroke="#000" stroke-width="1.7"/>
<line x1="334.3" y1="117.9" x2="334.3" y2="140.6" stroke="#000" stroke-width="1.7"/>
<line x1="172.8" y1="129" x2="172.8" y2="150.8" stroke="#000" stroke-opacity="0.40" stroke-width="1" stroke-dasharray="1,1"/>
<line x1="181.4" y1="129" x2="181.4" y2="150.8" stroke="#000" stroke-opacity="0.55" stroke-width="1" stroke-dasharray="1,1"/>
<line x1="188.9" y1="129" x2="188.9" y2="150.8" stroke="#000" stroke-opacity="0.55" stroke-width="1" stroke-dasharray="1,1"/>
<line x1="191.8" y1="129" x2="191.8" y2="150.8" stroke="#000" stroke-opacity="0.60" stroke-width="1" stroke-dasharray="1,1"/>
<line x1="194.1" y1="129" x2="194.1" y2="150.8" stroke="#000" stroke-opacity="0.45" stroke-width="1" stroke-dasharray="1,1"/>
<line x1="198.1" y1="129" x2="198.1" y2="150.8" stroke="#000" stroke-opacity="0.45" stroke-width="1" stroke-dasharray="1,1"/>
<line x1="200.9" y1="129" x2="200.9" y2="150.8" stroke="#000" stroke-opacity="0.60" stroke-width="1" stroke-dasharray="1,1"/>
<line x1="202.7" y1="129" x2="202.7" y2="150.8" stroke="#000" stroke-opacity="0.50" stroke-width="1" stroke-dasharray="1,1"/>
<line x1="205.3" y1="129" x2="205.3" y2="150.8" stroke="#000" stroke-opacity="0.45" stroke-width="1" stroke-dasharray="1,1"/>
<line x1="207" y1="129" x2="207" y2="150.8" stroke="#000" stroke-opacity="0.60" stroke-width="1" stroke-dasharray="1,1"/>
<line x1="208.8" y1="129" x2="208.8" y2="150.8" stroke="#000" stroke-opacity="0.65" stroke-width="1" stroke-dasharray="1,1"/>
<line x1="211.3" y1="129" x2="211.3" y2="150.8" stroke="#000" stroke-opacity="0.50" stroke-width="1" stroke-dasharray="1,1"/>
<line x1="213" y1="129" x2="213" y2="150.8" stroke="#000" stroke-opacity="0.55" stroke-width="1" stroke-dasharray="1,1"/>
<line x1="214.1" y1="129" x2="214.1" y2="150.8" stroke="#000" stroke-opacity="0.50" stroke-width="1" stroke-dasharray="1,1"/>
<line x1="183.8" y1="128.4" x2="183.8" y2="151.6" stroke="#000" stroke-width="1.6"/>
<g font-family="Liberation Serif" font-size="12.9" fill="#000">
<text transform="translate(82,113.1) rotate(-90)">Gd II</text>
<text transform="translate(339.9,112.8) rotate(-90)">Zr II</text>
<text text-anchor="end" transform="translate(186.8,156.3) rotate(-90)">U II</text>
<text text-anchor="end" transform="translate(209.6,156.3) rotate(-90)">La II</text>
</g>
<line x1="160.1" y1="218.3" x2="160.1" y2="198.7" stroke="#000" stroke-width="1.5"/>
<line x1="160.1" y1="294.0" x2="160.1" y2="274.8" stroke="#000" stroke-width="1.5"/>
<line x1="276.24" y1="218.3" x2="276.24" y2="198.7" stroke="#000" stroke-width="1.5"/>
<line x1="276.24" y1="294.0" x2="276.24" y2="274.8" stroke="#000" stroke-width="1.5"/>
<line x1="72.99" y1="218.3" x2="72.99" y2="208.7" stroke="#000" stroke-width="1.3"/>
<line x1="72.99" y1="294.0" x2="72.99" y2="284.6" stroke="#000" stroke-width="1.3"/>
<line x1="102.03" y1="218.3" x2="102.03" y2="208.7" stroke="#000" stroke-width="1.3"/>
<line x1="102.03" y1="294.0" x2="102.03" y2="284.6" stroke="#000" stroke-width="1.3"/>
<line x1="131.06" y1="218.3" x2="131.06" y2="208.7" stroke="#000" stroke-width="1.3"/>
<line x1="131.06" y1="294.0" x2="131.06" y2="284.6" stroke="#000" stroke-width="1.3"/>
<line x1="189.14" y1="218.3" x2="189.14" y2="208.7" stroke="#000" stroke-width="1.3"/>
<line x1="189.14" y1="294.0" x2="189.14" y2="284.6" stroke="#000" stroke-width="1.3"/>
<line x1="218.17" y1="218.3" x2="218.17" y2="208.7" stroke="#000" stroke-width="1.3"/>
<line x1="218.17" y1="294.0" x2="218.17" y2="284.6" stroke="#000" stroke-width="1.3"/>
<line x1="247.21" y1="218.3" x2="247.21" y2="208.7" stroke="#000" stroke-width="1.3"/>
<line x1="247.21" y1="294.0" x2="247.21" y2="284.6" stroke="#000" stroke-width="1.3"/>
<line x1="305.27" y1="218.3" x2="305.27" y2="208.7" stroke="#000" stroke-width="1.3"/>
<line x1="305.27" y1="294.0" x2="305.27" y2="284.6" stroke="#000" stroke-width="1.3"/>
<line x1="334.31" y1="218.3" x2="334.31" y2="208.7" stroke="#000" stroke-width="1.3"/>
<line x1="334.31" y1="294.0" x2="334.31" y2="284.6" stroke="#000" stroke-width="1.3"/>
<line x1="55.9" y1="73.3" x2="75.5" y2="73.3" stroke="#000" stroke-width="1.5"/>
<line x1="55.9" y1="189.3" x2="65.5" y2="189.3" stroke="#000" stroke-width="1.3"/>
<line x1="55.9" y1="160.3" x2="65.5" y2="160.3" stroke="#000" stroke-width="1.3"/>
<line x1="55.9" y1="131.3" x2="65.5" y2="131.3" stroke="#000" stroke-width="1.3"/>
<line x1="55.9" y1="102.3" x2="65.5" y2="102.3" stroke="#000" stroke-width="1.3"/>
<line x1="55.9" y1="44.3" x2="65.5" y2="44.3" stroke="#000" stroke-width="1.3"/>
<line x1="55.9" y1="15.3" x2="65.5" y2="15.3" stroke="#000" stroke-width="1.3"/>
<line x1="55.9" y1="262.05" x2="75.5" y2="262.05" stroke="#000" stroke-width="1.6"/>
<rect x="55.9" y="0.7" width="289.8" height="217.6" fill="none" stroke="#000" stroke-width="1.5"/>
<rect x="55.9" y="229.5" width="289.8" height="64.5" fill="none" stroke="#000" stroke-width="1.5"/>
<g font-family="Liberation Serif" font-size="15.3" fill="#000" text-anchor="end">
<text x="51.6" y="78.6">1.0</text>
<text x="51.6" y="222.2">0.9</text>
<text x="51.6" y="235.4">2.5</text>
<text x="51.6" y="267.25">0.0</text>
<text x="51.6" y="299.9">−2.5</text>
</g>
<g font-family="Liberation Serif" font-size="15.8" fill="#000" text-anchor="middle">
<text x="160.1" y="309.9">4050.0</text>
<text x="276.24" y="309.9">4050.2</text>
</g>
<text font-family="Liberation Serif" font-size="16.7" x="200.8" y="330.5" text-anchor="middle">Wavelength (Å)</text>
<text font-family="Liberation Serif" font-size="16.7" text-anchor="middle" transform="translate(25.6,109.5) rotate(-90)">Normalized Flux</text>
<text font-family="Liberation Serif" font-size="16.7" text-anchor="middle" transform="translate(12.4,261.75) rotate(-90)">Residual (%)</text>
<text font-family="Liberation Serif" font-size="12.5" x="276.4" y="18.9">(a) J0954</text>
<rect x="61.4" y="6.4" width="159.6" height="57.8" rx="2.5" fill="#fff" fill-opacity="0.8" stroke="#d0d0d0" stroke-width="0.9"/>
<rect x="65.9" y="12.0" width="25.4" height="9.4" fill="#f3b9ba"/>
<line x1="65.9" y1="16.8" x2="91.3" y2="16.8" stroke="#d62728" stroke-width="1.5"/>
<line x1="65.9" y1="34.7" x2="91.3" y2="34.7" stroke="#1f77b4" stroke-width="1.5" stroke-dasharray="4.3,2.0"/>
<line x1="65.9" y1="52.7" x2="91.3" y2="52.7" stroke="#000" stroke-width="1.3" stroke-dasharray="1.3,1.84"/>
<g font-family="Liberation Serif" font-size="13" fill="#000">
<text x="100.1" y="21.4">log <tspan font-style="italic">ϵ</tspan>(U) = −2.50 ± 0.2</text>
<text x="100.1" y="39.3">log <tspan font-style="italic">ϵ</tspan>(U) = −<tspan font-size="16">∞</tspan></text>
<text x="100.1" y="57.3">log <tspan font-style="italic">ϵ</tspan>(U, La) = −<tspan font-size="16">∞</tspan></text>
</g>
</g>
<g clip-path="url(#cmb)">
<path d="M459.5,220.5 L459.51,220.44 L459.49,220.6 L459.48,220.66 L459.54,220.33 L459.73,219.28 L460.1,217.2 L460.15,216.91 L460.2,216.61 L460.26,216.3 L460.31,215.96 L460.37,215.62 L460.43,215.26 L460.49,214.89 L460.56,214.5 L460.62,214.11 L460.69,213.7 L460.76,213.28 L460.83,212.84 L460.9,212.4 L460.98,211.95 L461.05,211.48 L461.13,211.01 L461.21,210.53 L461.29,210.04 L461.37,209.54 L461.46,209.04 L461.54,208.52 L461.63,208 L461.71,207.47 L461.8,206.94 L461.89,206.4 L461.98,205.86 L462.07,205.31 L462.16,204.76 L462.26,204.2 L462.35,203.64 L462.45,203.08 L462.54,202.51 L462.64,201.94 L462.74,201.37 L462.83,200.8 L462.93,200.22 L463.03,199.65 L463.13,199.08 L463.23,198.5 L463.33,197.93 L463.44,197.36 L463.54,196.79 L463.64,196.22 L463.74,195.65 L463.85,195.09 L463.95,194.53 L464.06,193.97 L464.16,193.42 L464.26,192.87 L464.37,192.32 L464.47,191.79 L464.58,191.25 L464.68,190.73 L464.78,190.21 L464.89,189.69 L464.99,189.19 L465.1,188.68 L465.2,188.19 L465.31,187.68 L465.42,187.16 L465.53,186.65 L465.64,186.13 L465.75,185.62 L465.86,185.1 L465.98,184.58 L466.09,184.06 L466.21,183.54 L466.33,183.02 L466.44,182.5 L466.56,181.98 L466.68,181.45 L466.8,180.93 L466.92,180.41 L467.04,179.89 L467.17,179.36 L467.29,178.84 L467.41,178.32 L467.54,177.8 L467.66,177.28 L467.79,176.76 L467.91,176.24 L468.04,175.72 L468.16,175.21 L468.29,174.69 L468.42,174.18 L468.54,173.66 L468.67,173.15 L468.8,172.64 L468.93,172.14 L469.06,171.63 L469.18,171.13 L469.31,170.63 L469.44,170.13 L469.57,169.63 L469.7,169.14 L469.83,168.65 L469.95,168.16 L470.08,167.68 L470.21,167.2 L470.34,166.72 L470.47,166.24 L470.6,165.77 L470.72,165.3 L470.85,164.84 L470.98,164.37 L471.1,163.92 L471.23,163.46 L471.36,163.02 L471.48,162.57 L471.61,162.13 L471.73,161.69 L471.85,161.26 L471.98,160.84 L472.1,160.42 L472.28,159.82 L472.45,159.23 L472.63,158.65 L472.8,158.08 L472.98,157.52 L473.15,156.96 L473.33,156.41 L473.5,155.87 L473.68,155.34 L473.85,154.81 L474.03,154.29 L474.2,153.78 L474.37,153.27 L474.55,152.77 L474.72,152.27 L474.9,151.78 L475.07,151.29 L475.25,150.81 L475.42,150.33 L475.59,149.85 L475.77,149.38 L475.94,148.92 L476.12,148.45 L476.29,147.99 L476.46,147.53 L476.64,147.08 L476.81,146.62 L476.98,146.17 L477.16,145.72 L477.33,145.27 L477.51,144.83 L477.68,144.38 L477.85,143.93 L478.03,143.49 L478.2,143.04 L478.38,142.59 L478.55,142.15 L478.73,141.7 L478.9,141.25 L479.1,140.72 L479.31,140.2 L479.51,139.67 L479.71,139.15 L479.91,138.63 L480.1,138.11 L480.3,137.6 L480.5,137.08 L480.69,136.58 L480.88,136.07 L481.08,135.57 L481.27,135.07 L481.47,134.57 L481.66,134.08 L481.86,133.59 L482.05,133.1 L482.25,132.61 L482.45,132.13 L482.65,131.66 L482.85,131.18 L483.05,130.71 L483.26,130.25 L483.46,129.79 L483.67,129.33 L483.88,128.87 L484.1,128.42 L484.32,127.98 L484.54,127.53 L484.76,127.1 L484.99,126.66 L485.22,126.23 L485.46,125.81 L485.7,125.39 L485.99,124.9 L486.3,124.4 L486.61,123.91 L486.94,123.42 L487.27,122.9 L487.61,122.38 L487.96,121.86 L488.32,121.34 L488.68,120.82 L489.04,120.31 L489.4,119.81 L489.77,119.31 L490.13,118.82 L490.5,118.33 L490.86,117.86 L491.22,117.39 L491.58,116.93 L491.93,116.49 L492.27,116.05 L492.61,115.63 L492.94,115.22 L493.26,114.82 L493.56,114.44 L493.86,114.07 L494.14,113.72 L494.41,113.38 L494.66,113.06 L494.9,112.76 L495.53,111.96 L496.04,111.33 L496.44,110.85 L496.77,110.49 L497.06,110.21 L497.35,109.97 L497.67,109.75 L498.04,109.51 L498.5,109.25 L498.92,109.02 L499.33,108.8 L499.75,108.6 L500.17,108.4 L500.62,108.21 L501.1,108.04 L501.61,107.87 L502.17,107.72 L502.78,107.57 L503.46,107.44 L504.2,107.31 L504.58,107.26 L504.99,107.2 L505.41,107.15 L505.86,107.1 L506.32,107.05 L506.79,107.01 L507.28,106.96 L507.77,106.92 L508.28,106.88 L508.8,106.85 L509.33,106.81 L509.86,106.78 L510.4,106.75 L510.94,106.73 L511.48,106.71 L512.02,106.69 L512.56,106.67 L513.1,106.65 L513.63,106.64 L514.16,106.63 L514.68,106.63 L515.2,106.63 L515.7,106.63 L516.2,106.66 L516.71,106.74 L517.23,106.82 L517.74,106.9 L518.27,107 L518.79,107.09 L519.32,107.19 L519.85,107.3 L520.38,107.4 L520.9,107.51 L521.43,107.62 L521.95,107.73 L522.46,107.84 L522.97,107.96 L523.47,108.07 L523.97,108.17 L524.45,108.28 L524.92,108.38 L525.39,108.49 L525.84,108.58 L526.27,108.68 L526.69,108.76 L527.1,108.85 L527.72,108.98 L528.29,109.12 L528.82,109.26 L529.3,109.39 L529.76,109.53 L530.2,109.66 L530.62,109.78 L531.05,109.9 L531.48,110 L531.92,110.09 L532.38,110.17 L532.88,110.25 L533.42,110.3 L534,110.33 L534.44,110.34 L534.91,110.34 L535.39,110.33 L535.9,110.31 L536.42,110.28 L536.96,110.24 L537.51,110.19 L538.06,110.14 L538.62,110.08 L539.18,110.02 L539.73,109.95 L540.29,109.88 L540.83,109.81 L541.37,109.73 L541.89,109.66 L542.4,109.59 L542.88,109.51 L543.35,109.44 L543.79,109.38 L544.2,109.31 L544.86,109.21 L545.41,109.13 L545.88,109.05 L546.3,108.97 L546.69,108.89 L547.08,108.79 L547.49,108.68 L547.95,108.54 L548.49,108.37 L549.13,108.15 L549.9,107.89 L550.24,107.78 L550.59,107.66 L550.95,107.55 L551.33,107.43 L551.71,107.31 L552.11,107.18 L552.52,107.05 L552.94,106.92 L553.37,106.78 L553.8,106.64 L554.25,106.5 L554.7,106.35 L555.17,106.2 L555.64,106.03 L556.12,105.87 L556.6,105.69 L557.09,105.51 L557.59,105.33 L558.09,105.13 L558.6,104.93 L559.11,104.72 L559.63,104.5 L560.15,104.27 L560.67,104.04 L561.2,103.79 L561.73,103.53 L562.27,103.27 L562.8,102.99 L563.17,102.79 L563.54,102.59 L563.92,102.38 L564.3,102.16 L564.69,101.93 L565.08,101.69 L565.47,101.45 L565.87,101.21 L566.27,100.95 L566.68,100.69 L567.09,100.43 L567.5,100.16 L567.91,99.89 L568.33,99.61 L568.75,99.33 L569.17,99.05 L569.59,98.76 L570.02,98.47 L570.44,98.18 L570.87,97.89 L571.3,97.6 L571.73,97.31 L572.17,97.01 L572.6,96.72 L573.03,96.43 L573.47,96.14 L573.9,95.85 L574.33,95.56 L574.77,95.28 L575.2,95 L575.63,94.72 L576.07,94.44 L576.5,94.17 L576.93,93.9 L577.36,93.64 L577.79,93.38 L578.21,93.13 L578.64,92.89 L579.06,92.65 L579.48,92.42 L579.9,92.19 L580.35,91.95 L580.81,91.71 L581.27,91.46 L581.74,91.22 L582.21,90.98 L582.69,90.74 L583.17,90.49 L583.65,90.25 L584.13,90.02 L584.62,89.78 L585.1,89.54 L585.59,89.31 L586.08,89.08 L586.56,88.85 L587.05,88.62 L587.54,88.4 L588.02,88.18 L588.5,87.97 L588.98,87.75 L589.46,87.54 L589.93,87.34 L590.4,87.14 L590.86,86.94 L591.32,86.75 L591.78,86.57 L592.23,86.39 L592.67,86.21 L593.11,86.04 L593.54,85.88 L593.96,85.72 L594.37,85.57 L594.78,85.42 L595.17,85.28 L595.56,85.15 L595.93,85.03 L596.3,84.91 L596.66,84.8 L597,84.7 L597.73,84.49 L598.4,84.3 L599.02,84.16 L599.59,84.04 L600.13,83.95 L600.63,83.89 L601.11,83.86 L601.56,83.85 L602,83.87 L602.43,83.91 L602.85,83.96 L603.27,84.04 L603.7,84.13 L604.14,84.24 L604.6,84.36 L605.09,84.49 L605.6,84.63 L606.03,84.76 L606.46,84.89 L606.9,85.04 L607.33,85.2 L607.77,85.37 L608.21,85.55 L608.65,85.74 L609.1,85.95 L609.54,86.17 L609.99,86.4 L610.44,86.62 L610.89,86.86 L611.34,87.1 L611.79,87.36 L612.25,87.63 L612.7,87.91 L613.16,88.21 L613.62,88.52 L614.08,88.83 L614.54,89.16 L615,89.51 L615.35,89.77 L615.7,90.03 L616.05,90.3 L616.4,90.58 L616.75,90.86 L617.1,91.14 L617.46,91.43 L617.82,91.73 L618.17,92.03 L618.53,92.33 L618.89,92.65 L619.25,92.97 L619.61,93.3 L619.97,93.64 L620.33,93.98 L620.69,94.34 L621.05,94.7 L621.41,95.07 L621.77,95.46 L622.13,95.85 L622.49,96.25 L622.85,96.67 L623.21,97.1 L623.57,97.54 L623.93,97.99 L624.29,98.45 L624.64,98.93 L625,99.42 L625.25,99.77 L625.5,100.12 L625.75,100.49 L625.99,100.86 L626.24,101.23 L626.49,101.61 L626.74,102 L626.98,102.39 L627.23,102.79 L627.48,103.19 L627.73,103.6 L627.97,104.01 L628.22,104.43 L628.47,104.85 L628.72,105.28 L628.96,105.71 L629.21,106.15 L629.46,106.59 L629.7,107.04 L629.95,107.49 L630.2,107.95 L630.44,108.41 L630.69,108.87 L630.94,109.34 L631.18,109.81 L631.43,110.29 L631.68,110.77 L631.93,111.25 L632.17,111.74 L632.42,112.23 L632.67,112.73 L632.92,113.23 L633.16,113.73 L633.41,114.23 L633.66,114.74 L633.91,115.25 L634.15,115.77 L634.4,116.28 L634.65,116.8 L634.9,117.33 L635.09,117.73 L635.28,118.14 L635.47,118.55 L635.67,118.96 L635.86,119.38 L636.05,119.8 L636.24,120.22 L636.43,120.65 L636.63,121.08 L636.82,121.51 L637.01,121.94 L637.2,122.37 L637.4,122.81 L637.59,123.25 L637.78,123.7 L637.97,124.14 L638.17,124.59 L638.36,125.04 L638.55,125.49 L638.74,125.95 L638.94,126.4 L639.13,126.86 L639.32,127.32 L639.51,127.78 L639.71,128.25 L639.9,128.71 L640.09,129.18 L640.29,129.65 L640.48,130.12 L640.67,130.6 L640.86,131.07 L641.06,131.55 L641.25,132.03 L641.44,132.51 L641.63,132.99 L641.83,133.47 L642.02,133.95 L642.21,134.44 L642.4,134.93 L642.6,135.41 L642.79,135.9 L642.98,136.39 L643.17,136.88 L643.37,137.37 L643.56,137.87 L643.75,138.36 L643.94,138.86 L644.13,139.35 L644.33,139.85 L644.52,140.34 L644.71,140.84 L644.9,141.34 L645.07,141.78 L645.24,142.21 L645.41,142.64 L645.57,143.07 L645.74,143.49 L645.91,143.92 L646.08,144.34 L646.25,144.76 L646.41,145.17 L646.58,145.59 L646.75,146.01 L646.92,146.42 L647.09,146.83 L647.25,147.24 L647.42,147.66 L647.59,148.07 L647.76,148.48 L647.92,148.89 L648.09,149.31 L648.26,149.72 L648.43,150.14 L648.59,150.55 L648.76,150.97 L648.93,151.39 L649.1,151.82 L649.26,152.24 L649.43,152.67 L649.6,153.1 L649.77,153.53 L649.93,153.97 L650.1,154.41 L650.27,154.85 L650.44,155.3 L650.6,155.75 L650.77,156.21 L650.94,156.67 L651.11,157.14 L651.27,157.61 L651.44,158.09 L651.61,158.57 L651.78,159.06 L651.94,159.56 L652.11,160.06 L652.28,160.57 L652.45,161.08 L652.61,161.6 L652.78,162.13 L652.95,162.67 L653.12,163.22 L653.29,163.77 L653.45,164.33 L653.62,164.9 L653.79,165.48 L653.96,166.07 L654.13,166.66 L654.29,167.27 L654.46,167.89 L654.63,168.51 L654.8,169.15 L654.9,169.54 L655.01,169.95 L655.11,170.36 L655.22,170.78 L655.32,171.21 L655.43,171.65 L655.54,172.09 L655.65,172.54 L655.76,173 L655.87,173.47 L655.98,173.94 L656.09,174.42 L656.21,174.91 L656.32,175.4 L656.43,175.9 L656.55,176.4 L656.66,176.91 L656.78,177.43 L656.9,177.95 L657.01,178.47 L657.13,179 L657.25,179.54 L657.36,180.08 L657.48,180.62 L657.6,181.17 L657.72,181.72 L657.84,182.27 L657.95,182.83 L658.07,183.39 L658.19,183.95 L658.31,184.52 L658.43,185.09 L658.55,185.66 L658.67,186.23 L658.79,186.8 L658.91,187.38 L659.03,187.96 L659.14,188.54 L659.26,189.11 L659.38,189.69 L659.5,190.28 L659.62,190.86 L659.73,191.44 L659.85,192.02 L659.97,192.6 L660.09,193.18 L660.2,193.76 L660.32,194.34 L660.43,194.91 L660.55,195.49 L660.66,196.06 L660.78,196.64 L660.89,197.21 L661,197.77 L661.11,198.34 L661.22,198.9 L661.33,199.46 L661.44,200.02 L661.55,200.57 L661.66,201.12 L661.77,201.67 L661.87,202.21 L661.98,202.75 L662.08,203.28 L662.19,203.81 L662.29,204.34 L662.39,204.86 L662.49,205.37 L662.59,205.88 L662.69,206.38 L662.78,206.88 L662.88,207.37 L662.98,207.86 L663.07,208.33 L663.16,208.81 L663.25,209.27 L663.34,209.73 L663.43,210.18 L663.52,210.62 L663.6,211.06 L663.68,211.48 L663.77,211.9 L663.85,212.31 L663.93,212.72 L664,213.11 L664.08,213.49 L664.15,213.87 L664.23,214.23 L664.3,214.59 L664.37,214.93 L664.43,215.27 L664.5,215.6 L664.56,215.91 L664.63,216.21 L664.69,216.51 L664.74,216.79 L664.8,217.06 L665.39,219.92 L665.7,221.4 L665.79,221.85 L665.74,221.64 L665.62,221.11 L665.52,220.63 L665.5,220.56 L665.5,221.44 L665.52,221.51 L665.62,221.99 L665.74,222.51 L665.79,222.73 L665.7,222.28 L665.39,220.8 L664.8,217.94 L664.74,217.67 L664.69,217.39 L664.63,217.09 L664.56,216.79 L664.5,216.47 L664.43,216.15 L664.37,215.81 L664.3,215.47 L664.23,215.11 L664.15,214.75 L664.08,214.37 L664,213.99 L663.93,213.6 L663.85,213.19 L663.77,212.78 L663.68,212.36 L663.6,211.94 L663.52,211.5 L663.43,211.06 L663.34,210.61 L663.25,210.15 L663.16,209.69 L663.07,209.22 L662.98,208.74 L662.88,208.25 L662.78,207.76 L662.69,207.26 L662.59,206.76 L662.49,206.25 L662.39,205.74 L662.29,205.22 L662.19,204.7 L662.08,204.17 L661.98,203.63 L661.87,203.1 L661.77,202.55 L661.66,202.01 L661.55,201.46 L661.44,200.9 L661.33,200.35 L661.22,199.79 L661.11,199.23 L661,198.66 L660.89,198.09 L660.78,197.52 L660.66,196.95 L660.55,196.38 L660.43,195.8 L660.32,195.22 L660.2,194.65 L660.09,194.07 L659.97,193.49 L659.85,192.91 L659.73,192.33 L659.62,191.75 L659.5,191.17 L659.38,190.59 L659.26,190.01 L659.14,189.43 L659.03,188.85 L658.91,188.27 L658.79,187.7 L658.67,187.12 L658.55,186.55 L658.43,185.98 L658.31,185.41 L658.19,184.84 L658.07,184.28 L657.95,183.72 L657.84,183.16 L657.72,182.61 L657.6,182.06 L657.48,181.51 L657.36,180.97 L657.25,180.43 L657.13,179.9 L657.01,179.37 L656.9,178.84 L656.78,178.32 L656.66,177.81 L656.55,177.3 L656.43,176.79 L656.32,176.3 L656.21,175.8 L656.09,175.32 L655.98,174.84 L655.87,174.37 L655.76,173.9 L655.65,173.44 L655.54,172.99 L655.43,172.54 L655.32,172.11 L655.22,171.68 L655.11,171.26 L655.01,170.85 L654.9,170.44 L654.8,170.05 L654.63,169.41 L654.46,168.79 L654.29,168.17 L654.13,167.57 L653.96,166.97 L653.79,166.38 L653.62,165.8 L653.45,165.23 L653.29,164.67 L653.12,164.12 L652.95,163.58 L652.78,163.04 L652.61,162.51 L652.45,161.99 L652.28,161.47 L652.11,160.96 L651.94,160.46 L651.78,159.97 L651.61,159.48 L651.44,159 L651.27,158.52 L651.11,158.05 L650.94,157.58 L650.77,157.12 L650.6,156.66 L650.44,156.21 L650.27,155.76 L650.1,155.32 L649.93,154.88 L649.77,154.44 L649.6,154.01 L649.43,153.58 L649.26,153.15 L649.1,152.73 L648.93,152.31 L648.76,151.89 L648.59,151.47 L648.43,151.05 L648.26,150.64 L648.09,150.22 L647.92,149.81 L647.76,149.4 L647.59,148.98 L647.42,148.57 L647.25,148.16 L647.09,147.75 L646.92,147.34 L646.75,146.92 L646.58,146.51 L646.41,146.09 L646.25,145.68 L646.08,145.26 L645.91,144.84 L645.74,144.42 L645.57,143.99 L645.41,143.56 L645.24,143.13 L645.07,142.7 L644.9,142.26 L644.71,141.76 L644.52,141.27 L644.33,140.77 L644.13,140.27 L643.94,139.78 L643.75,139.29 L643.56,138.79 L643.37,138.3 L643.17,137.81 L642.98,137.32 L642.79,136.83 L642.6,136.34 L642.4,135.85 L642.21,135.37 L642.02,134.88 L641.83,134.4 L641.63,133.92 L641.44,133.44 L641.25,132.96 L641.06,132.48 L640.86,132 L640.67,131.53 L640.48,131.06 L640.29,130.59 L640.09,130.12 L639.9,129.65 L639.71,129.18 L639.51,128.72 L639.32,128.26 L639.13,127.8 L638.94,127.34 L638.74,126.88 L638.55,126.43 L638.36,125.98 L638.17,125.53 L637.97,125.08 L637.78,124.63 L637.59,124.19 L637.4,123.75 L637.2,123.31 L637.01,122.88 L636.82,122.45 L636.63,122.02 L636.43,121.59 L636.24,121.16 L636.05,120.74 L635.86,120.32 L635.67,119.91 L635.47,119.49 L635.28,119.08 L635.09,118.68 L634.9,118.27 L634.65,117.75 L634.4,117.23 L634.15,116.71 L633.91,116.2 L633.66,115.69 L633.41,115.18 L633.16,114.68 L632.92,114.18 L632.67,113.68 L632.42,113.18 L632.17,112.69 L631.93,112.21 L631.68,111.72 L631.43,111.24 L631.18,110.77 L630.94,110.29 L630.69,109.83 L630.44,109.36 L630.2,108.9 L629.95,108.45 L629.7,108 L629.46,107.55 L629.21,107.11 L628.96,106.67 L628.72,106.24 L628.47,105.81 L628.22,105.39 L627.97,104.97 L627.73,104.56 L627.48,104.15 L627.23,103.75 L626.98,103.35 L626.74,102.96 L626.49,102.57 L626.24,102.19 L625.99,101.82 L625.75,101.45 L625.5,101.09 L625.25,100.73 L625,100.38 L624.64,99.89 L624.29,99.42 L623.93,98.96 L623.57,98.51 L623.21,98.07 L622.85,97.64 L622.49,97.23 L622.13,96.82 L621.77,96.43 L621.41,96.05 L621.05,95.68 L620.69,95.31 L620.33,94.96 L619.97,94.61 L619.61,94.28 L619.25,93.95 L618.89,93.63 L618.53,93.31 L618.17,93.01 L617.82,92.71 L617.46,92.41 L617.1,92.13 L616.75,91.84 L616.4,91.56 L616.05,91.29 L615.7,91.02 L615.35,90.76 L615,90.49 L614.54,90.15 L614.08,89.82 L613.62,89.51 L613.16,89.2 L612.7,88.91 L612.25,88.63 L611.79,88.36 L611.34,88.1 L610.89,87.85 L610.44,87.62 L609.99,87.4 L609.54,87.2 L609.1,87.02 L608.65,86.85 L608.21,86.69 L607.77,86.54 L607.33,86.4 L606.9,86.28 L606.46,86.16 L606.03,86.06 L605.6,85.97 L605.09,85.87 L604.6,85.77 L604.14,85.69 L603.7,85.61 L603.27,85.56 L602.85,85.51 L602.43,85.49 L602,85.48 L601.56,85.5 L601.11,85.55 L600.63,85.62 L600.13,85.71 L599.59,85.84 L599.02,86 L598.4,86.2 L597.73,86.43 L597,86.7 L596.66,86.84 L596.3,86.99 L595.93,87.15 L595.56,87.32 L595.17,87.5 L594.78,87.68 L594.37,87.88 L593.96,88.08 L593.54,88.28 L593.11,88.5 L592.67,88.72 L592.23,88.95 L591.78,89.18 L591.32,89.42 L590.86,89.67 L590.4,89.92 L589.93,90.17 L589.46,90.43 L588.98,90.7 L588.5,90.97 L588.02,91.24 L587.54,91.52 L587.05,91.79 L586.56,92.08 L586.08,92.36 L585.59,92.65 L585.1,92.94 L584.62,93.23 L584.13,93.53 L583.65,93.82 L583.17,94.12 L582.69,94.42 L582.21,94.72 L581.74,95.02 L581.27,95.31 L580.81,95.61 L580.35,95.91 L579.9,96.21 L579.48,96.49 L579.06,96.78 L578.64,97.08 L578.21,97.38 L577.79,97.7 L577.36,98.01 L576.93,98.34 L576.5,98.66 L576.07,99 L575.63,99.33 L575.2,99.67 L574.77,100.02 L574.33,100.36 L573.9,100.71 L573.47,101.06 L573.03,101.41 L572.6,101.77 L572.17,102.12 L571.73,102.47 L571.3,102.83 L570.87,103.18 L570.44,103.53 L570.02,103.88 L569.59,104.23 L569.17,104.58 L568.75,104.92 L568.33,105.26 L567.91,105.59 L567.5,105.93 L567.09,106.25 L566.68,106.57 L566.27,106.89 L565.87,107.2 L565.47,107.5 L565.08,107.8 L564.69,108.09 L564.3,108.37 L563.92,108.65 L563.54,108.91 L563.17,109.17 L562.8,109.41 L562.27,109.76 L561.73,110.09 L561.2,110.41 L560.67,110.72 L560.15,111.02 L559.63,111.32 L559.11,111.6 L558.6,111.87 L558.09,112.14 L557.59,112.39 L557.09,112.64 L556.6,112.88 L556.12,113.12 L555.64,113.34 L555.17,113.56 L554.7,113.77 L554.25,113.98 L553.8,114.18 L553.37,114.37 L552.94,114.56 L552.52,114.74 L552.11,114.92 L551.71,115.09 L551.33,115.26 L550.95,115.43 L550.59,115.59 L550.24,115.75 L549.9,115.91 L549.13,116.27 L548.49,116.57 L547.95,116.81 L547.49,117.01 L547.08,117.18 L546.69,117.33 L546.3,117.46 L545.88,117.6 L545.41,117.74 L544.86,117.9 L544.2,118.09 L543.79,118.2 L543.35,118.33 L542.88,118.46 L542.4,118.6 L541.89,118.74 L541.37,118.88 L540.83,119.03 L540.29,119.17 L539.73,119.32 L539.18,119.46 L538.62,119.6 L538.06,119.73 L537.51,119.86 L536.96,119.98 L536.42,120.09 L535.9,120.19 L535.39,120.28 L534.91,120.35 L534.44,120.42 L534,120.47 L533.42,120.51 L532.88,120.53 L532.38,120.52 L531.92,120.49 L531.48,120.43 L531.05,120.36 L530.62,120.27 L530.2,120.17 L529.76,120.07 L529.3,119.96 L528.82,119.86 L528.29,119.75 L527.72,119.65 L527.1,119.55 L526.69,119.5 L526.27,119.43 L525.84,119.37 L525.39,119.3 L524.92,119.23 L524.45,119.15 L523.97,119.08 L523.47,119 L522.97,118.92 L522.46,118.84 L521.95,118.76 L521.43,118.68 L520.9,118.61 L520.38,118.53 L519.85,118.46 L519.32,118.39 L518.79,118.32 L518.27,118.26 L517.74,118.2 L517.23,118.14 L516.71,118.09 L516.2,118.05 L515.7,117.97 L515.2,117.88 L514.68,117.78 L514.16,117.69 L513.63,117.6 L513.1,117.51 L512.56,117.42 L512.02,117.33 L511.48,117.25 L510.94,117.17 L510.4,117.1 L509.86,117.02 L509.33,116.95 L508.8,116.89 L508.28,116.83 L507.77,116.77 L507.28,116.72 L506.79,116.67 L506.32,116.62 L505.86,116.59 L505.41,116.55 L504.99,116.52 L504.58,116.5 L504.2,116.49 L503.46,116.47 L502.78,116.48 L502.17,116.51 L501.61,116.55 L501.1,116.62 L500.62,116.71 L500.17,116.81 L499.75,116.93 L499.33,117.06 L498.92,117.2 L498.5,117.35 L498.04,117.52 L497.67,117.63 L497.35,117.73 L497.06,117.87 L496.77,118.04 L496.44,118.29 L496.04,118.62 L495.53,119.06 L494.9,119.64 L494.66,119.85 L494.41,120.08 L494.14,120.32 L493.86,120.56 L493.56,120.83 L493.26,121.1 L492.94,121.38 L492.61,121.67 L492.27,121.97 L491.93,122.28 L491.58,122.6 L491.22,122.93 L490.86,123.26 L490.5,123.61 L490.13,123.96 L489.77,124.32 L489.4,124.68 L489.04,125.05 L488.68,125.43 L488.32,125.82 L487.96,126.21 L487.61,126.6 L487.27,127 L486.94,127.41 L486.61,127.86 L486.3,128.31 L485.99,128.76 L485.7,129.21 L485.46,129.6 L485.22,129.99 L484.99,130.39 L484.76,130.79 L484.54,131.2 L484.32,131.61 L484.1,132.03 L483.88,132.45 L483.67,132.87 L483.46,133.3 L483.26,133.74 L483.05,134.18 L482.85,134.62 L482.65,135.06 L482.45,135.51 L482.25,135.97 L482.05,136.42 L481.86,136.88 L481.66,137.35 L481.47,137.82 L481.27,138.29 L481.08,138.76 L480.88,139.24 L480.69,139.72 L480.5,140.2 L480.3,140.68 L480.1,141.17 L479.91,141.66 L479.71,142.15 L479.51,142.65 L479.31,143.15 L479.1,143.65 L478.9,144.15 L478.73,144.57 L478.55,145 L478.38,145.42 L478.2,145.84 L478.03,146.26 L477.85,146.69 L477.68,147.11 L477.51,147.53 L477.33,147.95 L477.16,148.38 L476.98,148.81 L476.81,149.23 L476.64,149.66 L476.46,150.1 L476.29,150.53 L476.12,150.97 L475.94,151.41 L475.77,151.85 L475.59,152.3 L475.42,152.75 L475.25,153.2 L475.07,153.66 L474.9,154.13 L474.72,154.59 L474.55,155.07 L474.37,155.55 L474.2,156.03 L474.03,156.52 L473.85,157.02 L473.68,157.52 L473.5,158.03 L473.33,158.55 L473.15,159.07 L472.98,159.6 L472.8,160.14 L472.63,160.69 L472.45,161.25 L472.28,161.81 L472.1,162.38 L471.98,162.79 L471.85,163.2 L471.73,163.61 L471.61,164.03 L471.48,164.45 L471.36,164.88 L471.23,165.31 L471.1,165.75 L470.98,166.19 L470.85,166.63 L470.72,167.08 L470.6,167.53 L470.47,167.99 L470.34,168.44 L470.21,168.91 L470.08,169.37 L469.95,169.84 L469.83,170.31 L469.7,170.78 L469.57,171.26 L469.44,171.74 L469.31,172.22 L469.18,172.7 L469.06,173.19 L468.93,173.67 L468.8,174.16 L468.67,174.65 L468.54,175.15 L468.42,175.64 L468.29,176.14 L468.16,176.64 L468.04,177.14 L467.91,177.64 L467.79,178.14 L467.66,178.64 L467.54,179.14 L467.41,179.65 L467.29,180.15 L467.17,180.66 L467.04,181.16 L466.92,181.67 L466.8,182.18 L466.68,182.68 L466.56,183.19 L466.44,183.69 L466.33,184.2 L466.21,184.71 L466.09,185.21 L465.98,185.71 L465.86,186.22 L465.75,186.72 L465.64,187.22 L465.53,187.72 L465.42,188.22 L465.31,188.72 L465.2,189.21 L465.1,189.7 L464.99,190.19 L464.89,190.69 L464.78,191.21 L464.68,191.73 L464.58,192.25 L464.47,192.79 L464.37,193.32 L464.26,193.87 L464.16,194.42 L464.06,194.97 L463.95,195.53 L463.85,196.09 L463.74,196.65 L463.64,197.22 L463.54,197.79 L463.44,198.36 L463.33,198.93 L463.23,199.5 L463.13,200.08 L463.03,200.65 L462.93,201.22 L462.83,201.8 L462.74,202.37 L462.64,202.94 L462.54,203.51 L462.45,204.08 L462.35,204.64 L462.26,205.2 L462.16,205.76 L462.07,206.31 L461.98,206.86 L461.89,207.4 L461.8,207.94 L461.71,208.47 L461.63,209 L461.54,209.52 L461.46,210.04 L461.37,210.54 L461.29,211.04 L461.21,211.53 L461.13,212.01 L461.05,212.48 L460.98,212.95 L460.9,213.4 L460.83,213.84 L460.76,214.28 L460.69,214.7 L460.62,215.11 L460.56,215.5 L460.49,215.89 L460.43,216.26 L460.37,216.62 L460.31,216.96 L460.26,217.3 L460.2,217.61 L460.15,217.91 L460.1,218.2 L459.73,220.28 L459.54,221.33 L459.48,221.66 L459.49,221.6 L459.51,221.44 L459.5,221.5 Z" fill="#f3b9ba"/>
<path d="M459,221 C459.12,220.53 458.67,224.72 459.7,218.2 C460.73,211.68 463.13,193.07 465.2,181.9 C467.27,170.73 469.53,160.58 472.1,151.2 C474.67,141.82 478.28,132.3 480.6,125.6 C482.92,118.9 484.15,115.43 486,111 C487.85,106.57 489.62,102.75 491.7,99 C493.78,95.25 496.42,91.2 498.5,88.5 C500.58,85.8 502.1,84.42 504.2,82.8 C506.3,81.18 508.23,80.03 511.1,78.8 C513.97,77.57 517.78,76.22 521.4,75.4 C525.02,74.58 528.23,74.25 532.8,73.9 C537.37,73.55 543.8,73.47 548.8,73.3 C553.8,73.13 557.62,72.88 562.8,72.9 C567.98,72.92 574.77,72.83 579.9,73.4 C585.03,73.97 589.32,74.97 593.6,76.3 C597.88,77.63 601.88,79.42 605.6,81.4 C609.32,83.38 612.67,85.35 615.9,88.2 C619.13,91.05 621.83,93.65 625,98.5 C628.17,103.35 631.58,110.08 634.9,117.3 C638.22,124.52 641.58,133.08 644.9,141.8 C648.22,150.52 651.48,156.98 654.8,169.6 C658.12,182.22 663.02,208.93 664.8,217.5 C666.58,226.07 665.38,220.42 665.5,221" fill="none" stroke="#000" stroke-width="1.4" stroke-dasharray="1.3,1.84"/>
<path d="M459.5,221 C459.6,220.45 459.13,223.2 460.1,217.7 C461.07,212.2 463.28,197.62 465.3,188 C467.32,178.38 469.93,168.13 472.2,160 C474.47,151.87 476.37,145.78 478.9,139.2 C481.43,132.62 484.73,125.05 487.4,120.5 C490.07,115.95 493.05,114.05 494.9,111.9 C496.75,109.75 496.95,108.83 498.5,107.6 C500.05,106.37 501.92,105.2 504.2,104.5 C506.48,103.8 509.33,103.48 512.2,103.4 C515.07,103.32 517.97,103.72 521.4,104 C524.83,104.28 529.57,104.98 532.8,105.1 C536.03,105.22 537.95,105.08 540.8,104.7 C543.65,104.32 544.8,104.55 549.9,102.8 C555,101.05 564.97,96.92 571.4,94.2 C577.83,91.48 583.37,88.1 588.5,86.5 C593.63,84.9 598.95,84.68 602.2,84.6 C605.45,84.52 605.87,85.1 608,86 C610.13,86.9 612.17,87.68 615,90 C617.83,92.32 621.68,95.27 625,99.9 C628.32,104.53 631.58,110.82 634.9,117.8 C638.22,124.78 641.58,133.17 644.9,141.8 C648.22,150.43 651.48,156.98 654.8,169.6 C658.12,182.22 663.02,208.93 664.8,217.5 C666.58,226.07 665.38,220.42 665.5,221" fill="none" stroke="#1f77b4" stroke-width="1.5" stroke-dasharray="4.1,2.2"/>
<path d="M459.5,221 C459.6,220.45 459.15,223.08 460.1,217.7 C461.05,212.32 463.2,198.08 465.2,188.7 C467.2,179.32 469.82,169.07 472.1,161.4 C474.38,153.73 476.63,148.38 478.9,142.7 C481.17,137.02 483.03,131.72 485.7,127.3 C488.37,122.88 492.77,118.53 494.9,116.2 C497.03,113.87 496.95,114.02 498.5,113.3 C500.05,112.58 501.33,112.07 504.2,111.9 C507.07,111.73 511.88,111.92 515.7,112.3 C519.52,112.68 524.05,113.68 527.1,114.2 C530.15,114.72 531.15,115.48 534,115.4 C536.85,115.32 541.55,114.28 544.2,113.7 C546.85,113.12 546.8,113.15 549.9,111.9 C553,110.65 557.8,109.15 562.8,106.2 C567.8,103.25 574.2,97.62 579.9,94.2 C585.6,90.78 592.72,87.18 597,85.7 C601.28,84.22 602.6,84.58 605.6,85.3 C608.6,86.02 611.77,87.57 615,90 C618.23,92.43 621.68,95.27 625,99.9 C628.32,104.53 631.58,110.82 634.9,117.8 C638.22,124.78 641.58,133.17 644.9,141.8 C648.22,150.43 651.48,156.98 654.8,169.6 C658.12,182.22 663.02,208.93 664.8,217.5 C666.58,226.07 665.38,220.42 665.5,221" fill="none" stroke="#d62728" stroke-width="1.5"/>
<circle cx="473" cy="153.8" r="2.3" fill="#000"/>
<circle cx="487.9" cy="120.3" r="2.3" fill="#000"/>
<circle cx="502.4" cy="112.2" r="2.3" fill="#000"/>
<circle cx="517" cy="112.2" r="2.3" fill="#000"/>
<circle cx="531.6" cy="115.1" r="2.3" fill="#000"/>
<circle cx="546" cy="114.1" r="2.3" fill="#000"/>
<circle cx="560.6" cy="107.9" r="2.3" fill="#000"/>
<circle cx="575.1" cy="93.7" r="2.3" fill="#000"/>
<circle cx="589.7" cy="86.5" r="2.3" fill="#000"/>
<circle cx="603.9" cy="85.3" r="2.3" fill="#000"/>
<circle cx="618.4" cy="92.9" r="2.3" fill="#000"/>
<circle cx="632.9" cy="108.3" r="2.3" fill="#000"/>
<circle cx="647.7" cy="148.5" r="2.3" fill="#000"/>
<circle cx="662" cy="204.5" r="2.3" fill="#000"/>
</g>
<g clip-path="url(#crb)">
<path d="M411,259.6 L411.91,260.14 L412.81,260.68 L413.72,261.22 L414.62,261.76 L415.53,262.29 L416.43,262.83 L417.34,263.37 L418.24,263.91 L419.15,264.45 L420.06,264.99 L420.96,265.53 L421.87,266.07 L422.77,266.61 L423.68,267.14 L424.58,267.68 L425.49,268.22 L426.39,268.76 L427.3,269.3 L428.11,268.68 L428.93,268.06 L429.74,267.45 L430.55,266.83 L431.37,266.21 L432.18,265.59 L433,264.97 L433.81,264.35 L434.62,263.74 L435.44,263.12 L436.25,262.5 L437.06,261.88 L437.88,261.26 L438.69,260.65 L439.5,260.03 L440.32,259.41 L441.13,258.79 L441.95,258.17 L442.76,257.55 L443.57,256.94 L444.39,256.32 L445.2,255.7 L445.69,256.61 L446.17,257.53 L446.66,258.44 L447.15,259.35 L447.63,260.27 L448.12,261.18 L448.61,262.09 L449.1,263 L449.58,263.92 L450.07,264.83 L450.56,265.74 L451.04,266.66 L451.53,267.57 L452.02,268.48 L452.5,269.4 L452.99,270.31 L453.48,271.22 L453.97,272.13 L454.45,273.05 L454.94,273.96 L455.43,274.87 L455.91,275.79 L456.4,276.7 L457.25,276.17 L458.1,275.64 L458.96,275.11 L459.81,274.59 L460.66,274.03 L461.51,273.47 L462.37,272.92 L463.22,272.36 L464.07,271.8 L464.92,271.24 L465.78,270.68 L466.63,270.12 L467.48,269.56 L468.33,269 L469.19,268.44 L470.04,267.88 L470.89,267.33 L471.74,266.77 L472.6,266.21 L473.45,265.65 L474.3,265.08 L475.32,265.31 L476.34,265.55 L477.35,265.79 L478.37,266.02 L479.39,266.26 L480.41,266.5 L481.43,266.73 L482.45,266.97 L483.46,267.21 L484.48,267.44 L485.5,267.68 L486.45,267.18 L487.4,266.69 L488.35,266.19 L489.3,265.7 L490.25,265.2 L491.2,264.7 L492.15,264.21 L493.1,263.71 L494.05,263.22 L495,262.72 L495.95,262.23 L496.9,261.73 L497.85,261.24 L498.8,260.74 L499.75,260.24 L500.7,259.75 L501.65,259.25 L502.6,258.76 L503.62,258.69 L504.65,258.62 L505.67,258.56 L506.69,258.49 L507.72,258.42 L508.74,258.35 L509.76,258.28 L510.79,258.21 L511.81,258.15 L512.84,258.08 L513.86,258.01 L514.88,257.94 L515.91,257.87 L516.93,257.8 L517.95,257.74 L518.98,257.67 L520,257.6 L521,257.6 L522,257.6 L523,257.6 L524,257.6 L525,257.6 L526,257.6 L527,257.6 L528,257.6 L529,257.6 L530,257.6 L531,257.6 L532,257.6 L533,257.6 L534,257.6 L535,257.6 L536,257.6 L537,257.6 L538,257.6 L539,257.6 L540,257.6 L541,257.6 L542,257.6 L543,257.6 L544,257.6 L545.01,257.48 L546.01,257.35 L547.02,257.23 L548.02,257.11 L549.03,256.98 L550.04,256.86 L551.04,256.74 L552.05,256.61 L553.05,256.49 L554.06,256.36 L555.06,256.24 L556.07,256.12 L557.08,255.99 L558.08,255.87 L559.09,255.75 L560.09,255.62 L561.1,255.52 L562.02,256.16 L562.95,256.81 L563.88,257.45 L564.8,258.09 L565.73,258.74 L566.65,259.38 L567.58,260.02 L568.5,260.67 L569.43,261.31 L570.35,261.95 L571.28,262.6 L572.2,263.21 L573.22,263.12 L574.24,263.03 L575.26,262.93 L576.28,262.84 L577.29,262.75 L578.31,262.66 L579.33,262.56 L580.35,262.47 L581.37,262.38 L582.39,262.29 L583.41,262.19 L584.42,262.1 L585.44,262.01 L586.46,261.92 L587.48,261.82 L588.5,261.72 L589.51,261.74 L590.51,261.76 L591.52,261.78 L592.52,261.79 L593.53,261.81 L594.54,261.83 L595.54,261.85 L596.55,261.87 L597.55,261.89 L598.56,261.9 L599.56,261.92 L600.57,261.92 L601.58,261.9 L602.58,261.87 L603.59,261.85 L604.59,261.83 L605.6,261.81 L606.63,261.84 L607.66,261.88 L608.69,261.92 L609.72,261.96 L610.75,262 L611.77,262.04 L612.8,262.08 L613.83,262.11 L614.86,262.15 L615.89,262.19 L616.92,262.23 L617.95,262.27 L618.98,262.31 L620.01,262.35 L621.04,262.38 L622.07,262.42 L623.1,262.46 L624.12,262.5 L625.15,262.54 L626.18,262.58 L627.21,262.61 L628.24,262.65 L629.27,262.69 L630.3,262.73 L631.3,263.05 L632.3,263.38 L633.3,263.7 L634.3,264.02 L635.3,264.35 L636.3,264.67 L637.3,264.99 L638.3,265.32 L639.3,265.64 L640.3,265.96 L641.3,266.29 L642.3,266.61 L643.3,266.93 L644.3,267.26 L645.3,267.58 L646.3,267.9 L647.3,268.23 L648.3,268.55 L648.94,267.73 L649.58,266.92 L650.22,266.1 L650.86,265.28 L651.49,264.47 L652.13,263.65 L652.77,262.84 L653.41,262.02 L654.05,261.2 L654.69,260.39 L655.33,259.57 L655.97,258.76 L656.61,257.94 L657.24,257.12 L657.88,256.31 L658.52,255.49 L659.16,254.68 L659.8,253.86 L660.71,253.44 L661.62,253.03 L662.53,252.62 L663.44,252.2 L664.35,251.79 L665.26,251.37 L666.17,250.96 L667.08,250.54 L667.99,250.13 L668.91,249.71 L669.82,249.3 L670.73,248.88 L671.64,248.47 L672.55,248.05 L673.46,247.64 L674.37,247.22 L675.28,246.81 L676.19,246.39 L677.1,245.98 L677.78,245.23 L678.45,244.48 L679.13,243.74 L679.81,242.99 L680.48,242.25 L681.16,241.5 L681.84,240.75 L682.51,240.01 L683.19,239.26 L683.86,238.51 L684.54,237.77 L685.22,237.02 L685.89,236.27 L686.57,235.53 L687.25,234.78 L687.92,234.03 L688.6,233.29 L689.45,233.87 L690.3,234.45 L691.15,235.03 L692,235.61 L692.85,236.19 L693.7,236.77 L694.55,237.34 L695.4,237.92 L696.25,238.5 L697.1,239.08 L697.95,239.66 L698.8,240.24 L699.65,240.82 L700.5,241.4 L700.5,242.2 L699.65,241.62 L698.8,241.04 L697.95,240.47 L697.1,239.89 L696.25,239.31 L695.4,238.73 L694.55,238.16 L693.7,237.58 L692.85,237 L692,236.42 L691.15,235.84 L690.3,235.27 L689.45,234.69 L688.6,234.11 L687.92,234.86 L687.25,235.61 L686.57,236.35 L685.89,237.1 L685.22,237.85 L684.54,238.6 L683.86,239.35 L683.19,240.09 L682.51,240.84 L681.84,241.59 L681.16,242.34 L680.48,243.08 L679.81,243.83 L679.13,244.58 L678.45,245.33 L677.78,246.08 L677.1,246.82 L676.19,247.24 L675.28,247.66 L674.37,248.07 L673.46,248.49 L672.55,248.91 L671.64,249.32 L670.73,249.74 L669.82,250.16 L668.91,250.57 L667.99,250.99 L667.08,251.41 L666.17,251.82 L665.26,252.24 L664.35,252.66 L663.44,253.07 L662.53,253.49 L661.62,253.91 L660.71,254.32 L659.8,254.74 L659.16,255.56 L658.52,256.37 L657.88,257.19 L657.24,258.01 L656.61,258.83 L655.97,259.64 L655.33,260.46 L654.69,261.28 L654.05,262.1 L653.41,262.91 L652.77,263.73 L652.13,264.55 L651.49,265.37 L650.86,266.18 L650.22,267 L649.58,267.82 L648.94,268.63 L648.3,269.45 L647.3,269.13 L646.3,268.81 L645.3,268.49 L644.3,268.17 L643.3,267.85 L642.3,267.52 L641.3,267.2 L640.3,266.88 L639.3,266.56 L638.3,266.24 L637.3,265.92 L636.3,265.6 L635.3,265.28 L634.3,264.95 L633.3,264.63 L632.3,264.31 L631.3,263.99 L630.3,263.67 L629.27,263.63 L628.24,263.6 L627.21,263.56 L626.18,263.52 L625.15,263.49 L624.12,263.45 L623.1,263.41 L622.07,263.38 L621.04,263.34 L620.01,263.3 L618.98,263.27 L617.95,263.23 L616.92,263.2 L615.89,263.16 L614.86,263.12 L613.83,263.09 L612.8,263.05 L611.77,263.01 L610.75,262.98 L609.72,262.94 L608.69,262.9 L607.66,262.87 L606.63,262.83 L605.6,262.79 L604.59,262.82 L603.59,262.84 L602.58,262.87 L601.58,262.89 L600.57,262.92 L599.56,262.96 L598.56,263.02 L597.55,263.09 L596.55,263.16 L595.54,263.22 L594.54,263.29 L593.53,263.35 L592.52,263.42 L591.52,263.48 L590.51,263.55 L589.51,263.61 L588.5,263.68 L587.48,263.89 L586.46,264.11 L585.44,264.33 L584.42,264.55 L583.41,264.77 L582.39,264.99 L581.37,265.21 L580.35,265.43 L579.33,265.65 L578.31,265.87 L577.29,266.09 L576.28,266.31 L575.26,266.53 L574.24,266.75 L573.22,266.97 L572.2,267.19 L571.28,266.89 L570.35,266.61 L569.43,266.34 L568.5,266.07 L567.58,265.79 L566.65,265.52 L565.73,265.25 L564.8,264.97 L563.88,264.7 L562.95,264.43 L562.02,264.15 L561.1,263.88 L560.09,264.02 L559.09,264.15 L558.08,264.27 L557.08,264.39 L556.07,264.52 L555.06,264.64 L554.06,264.76 L553.05,264.89 L552.05,265.01 L551.04,265.14 L550.04,265.26 L549.03,265.38 L548.02,265.51 L547.02,265.63 L546.01,265.75 L545.01,265.88 L544,266 L543,266 L542,266 L541,266 L540,266 L539,266 L538,266 L537,266 L536,266 L535,266 L534,266 L533,266 L532,266 L531,266 L530,266 L529,266 L528,266 L527,266 L526,266 L525,266 L524,266 L523,266 L522,266 L521,266 L520,266 L518.98,265.93 L517.95,265.86 L516.93,265.8 L515.91,265.73 L514.88,265.66 L513.86,265.59 L512.84,265.52 L511.81,265.45 L510.79,265.39 L509.76,265.32 L508.74,265.25 L507.72,265.18 L506.69,265.11 L505.67,265.04 L504.65,264.98 L503.62,264.91 L502.6,264.84 L501.65,265.2 L500.7,265.56 L499.75,265.92 L498.8,266.28 L497.85,266.64 L496.9,267 L495.95,267.36 L495,267.72 L494.05,268.08 L493.1,268.44 L492.15,268.8 L491.2,269.16 L490.25,269.52 L489.3,269.88 L488.35,270.24 L487.4,270.6 L486.45,270.96 L485.5,271.32 L484.48,270.94 L483.46,270.56 L482.45,270.18 L481.43,269.79 L480.41,269.41 L479.39,269.03 L478.37,268.65 L477.35,268.27 L476.34,267.89 L475.32,267.5 L474.3,267.12 L473.45,267.61 L472.6,268.11 L471.74,268.61 L470.89,269.1 L470.04,269.6 L469.19,270.1 L468.33,270.6 L467.48,271.1 L466.63,271.59 L465.78,272.09 L464.92,272.59 L464.07,273.09 L463.22,273.59 L462.37,274.08 L461.51,274.58 L460.66,275.08 L459.81,275.59 L458.96,276.11 L458.1,276.64 L457.25,277.17 L456.4,277.7 L455.91,276.79 L455.43,275.87 L454.94,274.96 L454.45,274.05 L453.97,273.13 L453.48,272.22 L452.99,271.31 L452.5,270.4 L452.02,269.48 L451.53,268.57 L451.04,267.66 L450.56,266.74 L450.07,265.83 L449.58,264.92 L449.1,264 L448.61,263.09 L448.12,262.18 L447.63,261.27 L447.15,260.35 L446.66,259.44 L446.17,258.53 L445.69,257.61 L445.2,256.7 L444.39,257.32 L443.57,257.94 L442.76,258.55 L441.95,259.17 L441.13,259.79 L440.32,260.41 L439.5,261.03 L438.69,261.65 L437.88,262.26 L437.06,262.88 L436.25,263.5 L435.44,264.12 L434.62,264.74 L433.81,265.35 L433,265.97 L432.18,266.59 L431.37,267.21 L430.55,267.83 L429.74,268.45 L428.93,269.06 L428.11,269.68 L427.3,270.3 L426.39,269.76 L425.49,269.22 L424.58,268.68 L423.68,268.14 L422.77,267.61 L421.87,267.07 L420.96,266.53 L420.06,265.99 L419.15,265.45 L418.24,264.91 L417.34,264.37 L416.43,263.83 L415.53,263.29 L414.62,262.76 L413.72,262.22 L412.81,261.68 L411.91,261.14 L411,260.6 Z" fill="#f3b9ba"/>
<line x1="430.1" y1="262.05" x2="700.3" y2="262.05" stroke="#555" stroke-width="1.2" stroke-dasharray="1.3,1.3"/>
<path d="M445.2,256.2 L456.4,276.4 L474.3,264.4 L485.5,266.1 L502.6,255.8 L533.7,252.4 L561.1,253.2 L572.2,261 L588.5,261.3 L605.6,261.8 L630.3,263.2" fill="none" stroke="#1f77b4" stroke-width="1.5" stroke-dasharray="4.1,2.2"/>
<path d="M411,260.1 L427.3,269.8 L445.2,256.2 L456.4,277.2 L474.3,266.1 L485.5,269.5 L502.6,261.8 L520,261.8 L544,261.8 L561.1,259.7 L572.2,265.2 L588.5,262.7 L605.6,262.3 L630.3,263.2 L648.3,269 L659.8,254.3 L677.1,246.4 L688.6,233.7 L700.5,241.8" fill="none" stroke="#d62728" stroke-width="1.3" stroke-linejoin="miter"/>
</g>
<g transform="translate(354.6,0)">
<line x1="72.9" y1="117.8" x2="72.9" y2="140.7" stroke="#000" stroke-width="1.7"/>
<line x1="334.3" y1="117.9" x2="334.3" y2="140.5" stroke="#000" stroke-width="1.7"/>
<line x1="172.8" y1="127" x2="172.8" y2="148.8" stroke="#000" stroke-opacity="0.40" stroke-width="1" stroke-dasharray="1,1"/>
<line x1="181.4" y1="127" x2="181.4" y2="148.8" stroke="#000" stroke-opacity="0.55" stroke-width="1" stroke-dasharray="1,1"/>
<line x1="188.9" y1="127" x2="188.9" y2="148.8" stroke="#000" stroke-opacity="0.55" stroke-width="1" stroke-dasharray="1,1"/>
<line x1="191.8" y1="127" x2="191.8" y2="148.8" stroke="#000" stroke-opacity="0.60" stroke-width="1" stroke-dasharray="1,1"/>
<line x1="194.1" y1="127" x2="194.1" y2="148.8" stroke="#000" stroke-opacity="0.45" stroke-width="1" stroke-dasharray="1,1"/>
<line x1="198.1" y1="127" x2="198.1" y2="148.8" stroke="#000" stroke-opacity="0.45" stroke-width="1" stroke-dasharray="1,1"/>
<line x1="200.9" y1="127" x2="200.9" y2="148.8" stroke="#000" stroke-opacity="0.60" stroke-width="1" stroke-dasharray="1,1"/>
<line x1="202.7" y1="127" x2="202.7" y2="148.8" stroke="#000" stroke-opacity="0.50" stroke-width="1" stroke-dasharray="1,1"/>
<line x1="205.3" y1="127" x2="205.3" y2="148.8" stroke="#000" stroke-opacity="0.45" stroke-width="1" stroke-dasharray="1,1"/>
<line x1="207" y1="127" x2="207" y2="148.8" stroke="#000" stroke-opacity="0.60" stroke-width="1" stroke-dasharray="1,1"/>
<line x1="208.8" y1="127" x2="208.8" y2="148.8" stroke="#000" stroke-opacity="0.65" stroke-width="1" stroke-dasharray="1,1"/>
<line x1="211.3" y1="127" x2="211.3" y2="148.8" stroke="#000" stroke-opacity="0.50" stroke-width="1" stroke-dasharray="1,1"/>
<line x1="213" y1="127" x2="213" y2="148.8" stroke="#000" stroke-opacity="0.55" stroke-width="1" stroke-dasharray="1,1"/>
<line x1="214.1" y1="127" x2="214.1" y2="148.8" stroke="#000" stroke-opacity="0.50" stroke-width="1" stroke-dasharray="1,1"/>
<line x1="183.8" y1="126.4" x2="183.8" y2="149.6" stroke="#000" stroke-width="1.6"/>
<g font-family="Liberation Serif" font-size="12.9" fill="#000">
<text transform="translate(82,113.1) rotate(-90)">Gd II</text>
<text transform="translate(339.9,112.8) rotate(-90)">Zr II</text>
<text text-anchor="end" transform="translate(186.8,156.3) rotate(-90)">U II</text>
<text text-anchor="end" transform="translate(209.6,156.3) rotate(-90)">La II</text>
</g>
<line x1="160.1" y1="218.3" x2="160.1" y2="198.7" stroke="#000" stroke-width="1.5"/>
<line x1="160.1" y1="294.0" x2="160.1" y2="274.8" stroke="#000" stroke-width="1.5"/>
<line x1="276.24" y1="218.3" x2="276.24" y2="198.7" stroke="#000" stroke-width="1.5"/>
<line x1="276.24" y1="294.0" x2="276.24" y2="274.8" stroke="#000" stroke-width="1.5"/>
<line x1="72.99" y1="218.3" x2="72.99" y2="208.7" stroke="#000" stroke-width="1.3"/>
<line x1="72.99" y1="294.0" x2="72.99" y2="284.6" stroke="#000" stroke-width="1.3"/>
<line x1="102.03" y1="218.3" x2="102.03" y2="208.7" stroke="#000" stroke-width="1.3"/>
<line x1="102.03" y1="294.0" x2="102.03" y2="284.6" stroke="#000" stroke-width="1.3"/>
<line x1="131.06" y1="218.3" x2="131.06" y2="208.7" stroke="#000" stroke-width="1.3"/>
<line x1="131.06" y1="294.0" x2="131.06" y2="284.6" stroke="#000" stroke-width="1.3"/>
<line x1="189.14" y1="218.3" x2="189.14" y2="208.7" stroke="#000" stroke-width="1.3"/>
<line x1="189.14" y1="294.0" x2="189.14" y2="284.6" stroke="#000" stroke-width="1.3"/>
<line x1="218.17" y1="218.3" x2="218.17" y2="208.7" stroke="#000" stroke-width="1.3"/>
<line x1="218.17" y1="294.0" x2="218.17" y2="284.6" stroke="#000" stroke-width="1.3"/>
<line x1="247.21" y1="218.3" x2="247.21" y2="208.7" stroke="#000" stroke-width="1.3"/>
<line x1="247.21" y1="294.0" x2="247.21" y2="284.6" stroke="#000" stroke-width="1.3"/>
<line x1="305.27" y1="218.3" x2="305.27" y2="208.7" stroke="#000" stroke-width="1.3"/>
<line x1="305.27" y1="294.0" x2="305.27" y2="284.6" stroke="#000" stroke-width="1.3"/>
<line x1="334.31" y1="218.3" x2="334.31" y2="208.7" stroke="#000" stroke-width="1.3"/>
<line x1="334.31" y1="294.0" x2="334.31" y2="284.6" stroke="#000" stroke-width="1.3"/>
<line x1="55.9" y1="73.3" x2="75.5" y2="73.3" stroke="#000" stroke-width="1.5"/>
<line x1="55.9" y1="189.3" x2="65.5" y2="189.3" stroke="#000" stroke-width="1.3"/>
<line x1="55.9" y1="160.3" x2="65.5" y2="160.3" stroke="#000" stroke-width="1.3"/>
<line x1="55.9" y1="131.3" x2="65.5" y2="131.3" stroke="#000" stroke-width="1.3"/>
<line x1="55.9" y1="102.3" x2="65.5" y2="102.3" stroke="#000" stroke-width="1.3"/>
<line x1="55.9" y1="44.3" x2="65.5" y2="44.3" stroke="#000" stroke-width="1.3"/>
<line x1="55.9" y1="15.3" x2="65.5" y2="15.3" stroke="#000" stroke-width="1.3"/>
<line x1="55.9" y1="262.05" x2="75.5" y2="262.05" stroke="#000" stroke-width="1.6"/>
<rect x="55.9" y="0.7" width="289.8" height="217.6" fill="none" stroke="#000" stroke-width="1.5"/>
<rect x="55.9" y="229.5" width="289.8" height="64.5" fill="none" stroke="#000" stroke-width="1.5"/>
<g font-family="Liberation Serif" font-size="15.3" fill="#000" text-anchor="end">
<text x="51.6" y="78.6">1.0</text>
<text x="51.6" y="222.2">0.9</text>
<text x="51.6" y="235.4">2.5</text>
<text x="51.6" y="267.25">0.0</text>
<text x="51.6" y="299.9">−2.5</text>
</g>
<g font-family="Liberation Serif" font-size="15.8" fill="#000" text-anchor="middle">
<text x="160.1" y="309.9">4050.0</text>
<text x="276.24" y="309.9">4050.2</text>
</g>
<text font-family="Liberation Serif" font-size="16.7" x="200.8" y="330.5" text-anchor="middle">Wavelength (Å)</text>
<text font-family="Liberation Serif" font-size="16.7" text-anchor="middle" transform="translate(25.6,109.5) rotate(-90)">Normalized Flux</text>
<text font-family="Liberation Serif" font-size="16.7" text-anchor="middle" transform="translate(12.4,261.75) rotate(-90)">Residual (%)</text>
<text font-family="Liberation Serif" font-size="12.5" x="276.4" y="18.9">(b) J2038</text>
<rect x="61.4" y="6.4" width="159.6" height="57.8" rx="2.5" fill="#fff" fill-opacity="0.8" stroke="#d0d0d0" stroke-width="0.9"/>
<rect x="65.9" y="12.0" width="25.4" height="9.4" fill="#f3b9ba"/>
<line x1="65.9" y1="16.8" x2="91.3" y2="16.8" stroke="#d62728" stroke-width="1.5"/>
<line x1="65.9" y1="34.7" x2="91.3" y2="34.7" stroke="#1f77b4" stroke-width="1.5" stroke-dasharray="4.3,2.0"/>
<line x1="65.9" y1="52.7" x2="91.3" y2="52.7" stroke="#000" stroke-width="1.3" stroke-dasharray="1.3,1.84"/>
<g font-family="Liberation Serif" font-size="13" fill="#000">
<text x="100.1" y="21.4">log <tspan font-style="italic">ϵ</tspan>(U) = −2.34 ± 0.2</text>
<text x="100.1" y="39.3">log <tspan font-style="italic">ϵ</tspan>(U) = −<tspan font-size="16">∞</tspan></text>
<text x="100.1" y="57.3">log <tspan font-style="italic">ϵ</tspan>(U, La) = −<tspan font-size="16">∞</tspan></text>
</g>
</g>
<g clip-path="url(#cmc)">
<path d="M127.8,589.5 L127.78,589.53 L127.74,589.69 L127.81,589.15 L128.1,587.08 L128.14,586.78 L128.19,586.46 L128.23,586.11 L128.28,585.75 L128.34,585.37 L128.39,584.97 L128.45,584.55 L128.51,584.11 L128.57,583.66 L128.63,583.19 L128.69,582.71 L128.76,582.21 L128.83,581.7 L128.9,581.18 L128.97,580.65 L129.04,580.11 L129.12,579.55 L129.19,578.99 L129.27,578.43 L129.35,577.85 L129.43,577.27 L129.51,576.68 L129.59,576.09 L129.67,575.5 L129.75,574.9 L129.84,574.3 L129.92,573.7 L130.01,573.1 L130.09,572.5 L130.18,571.91 L130.27,571.31 L130.35,570.72 L130.44,570.13 L130.53,569.55 L130.62,568.97 L130.7,568.4 L130.79,567.84 L130.88,567.28 L130.97,566.73 L131.05,566.2 L131.14,565.67 L131.23,565.16 L131.31,564.66 L131.4,564.17 L131.5,563.6 L131.6,563.03 L131.71,562.47 L131.81,561.91 L131.91,561.35 L132.01,560.8 L132.12,560.25 L132.22,559.7 L132.33,559.15 L132.43,558.61 L132.54,558.07 L132.64,557.53 L132.75,556.99 L132.86,556.46 L132.96,555.93 L133.07,555.4 L133.18,554.88 L133.29,554.35 L133.41,553.83 L133.52,553.31 L133.63,552.79 L133.75,552.28 L133.86,551.77 L133.98,551.26 L134.09,550.75 L134.21,550.24 L134.33,549.74 L134.45,549.23 L134.58,548.73 L134.7,548.23 L134.82,547.73 L134.95,547.24 L135.08,546.75 L135.21,546.26 L135.34,545.78 L135.47,545.3 L135.6,544.82 L135.75,544.28 L135.9,543.75 L136.06,543.21 L136.21,542.67 L136.37,542.13 L136.52,541.6 L136.68,541.06 L136.84,540.53 L137.01,540 L137.17,539.47 L137.33,538.94 L137.5,538.42 L137.67,537.89 L137.83,537.37 L138,536.86 L138.18,536.34 L138.35,535.84 L138.52,535.33 L138.7,534.83 L138.88,534.34 L139.05,533.85 L139.23,533.36 L139.41,532.88 L139.6,532.41 L139.78,531.94 L139.97,531.48 L140.15,531.03 L140.34,530.58 L140.53,530.14 L140.72,529.71 L140.91,529.28 L141.11,528.87 L141.3,528.46 L141.58,527.89 L141.88,527.32 L142.18,526.76 L142.48,526.21 L142.79,525.67 L143.11,525.14 L143.43,524.63 L143.76,524.12 L144.08,523.62 L144.41,523.14 L144.74,522.67 L145.07,522.21 L145.4,521.77 L145.73,521.34 L146.05,520.93 L146.38,520.53 L146.7,520.14 L147.01,519.78 L147.32,519.43 L147.63,519.09 L147.93,518.78 L148.22,518.48 L148.5,518.2 L149.07,517.69 L149.61,517.27 L150.13,516.96 L150.64,516.77 L151.14,516.65 L151.62,516.57 L152.11,516.54 L152.59,516.54 L153.09,516.55 L153.59,516.58 L154.1,516.6 L154.58,516.63 L155.06,516.69 L155.54,516.77 L156.03,516.88 L156.51,517.01 L157,517.16 L157.49,517.28 L157.99,517.41 L158.48,517.56 L158.98,517.72 L159.49,517.89 L160,518.07 L160.41,518.22 L160.83,518.39 L161.26,518.57 L161.69,518.76 L162.13,518.96 L162.56,519.17 L163,519.39 L163.44,519.62 L163.87,519.85 L164.31,520.09 L164.74,520.34 L165.16,520.59 L165.58,520.84 L166,521.1 L166.4,521.34 L166.79,521.59 L167.18,521.86 L167.56,522.13 L167.92,522.41 L168.29,522.7 L168.65,523 L169.01,523.29 L169.37,523.59 L169.73,523.9 L170.09,524.19 L170.46,524.49 L170.83,524.78 L171.21,525.07 L171.6,525.35 L172,525.62 L172.38,525.87 L172.76,526.12 L173.15,526.38 L173.54,526.64 L173.92,526.89 L174.32,527.15 L174.72,527.4 L175.12,527.65 L175.53,527.89 L175.94,528.12 L176.36,528.34 L176.79,528.55 L177.23,528.75 L177.68,528.93 L178.13,529.1 L178.6,529.25 L179.05,529.38 L179.52,529.5 L179.99,529.63 L180.48,529.74 L180.98,529.85 L181.48,529.95 L181.99,530.04 L182.51,530.12 L183.03,530.2 L183.55,530.35 L184.07,530.5 L184.59,530.62 L185.1,530.73 L185.61,530.81 L186.12,530.87 L186.61,530.91 L187.1,530.93 L187.61,530.91 L188.13,530.87 L188.65,530.79 L189.17,530.69 L189.69,530.56 L190.2,530.42 L190.72,530.26 L191.23,530.08 L191.73,529.88 L192.22,529.69 L192.71,529.51 L193.19,529.32 L193.66,529.13 L194.12,528.93 L194.57,528.74 L195,528.55 L195.47,528.33 L195.91,528.12 L196.32,527.9 L196.71,527.68 L197.08,527.45 L197.45,527.21 L197.81,526.95 L198.18,526.68 L198.55,526.4 L198.93,526.09 L199.33,525.76 L199.76,525.4 L200.21,525.02 L200.7,524.6 L201,524.35 L201.31,524.08 L201.63,523.81 L201.95,523.53 L202.29,523.24 L202.63,522.95 L202.97,522.64 L203.32,522.33 L203.68,522.01 L204.04,521.69 L204.4,521.36 L204.77,521.02 L205.14,520.67 L205.51,520.31 L205.88,519.94 L206.26,519.57 L206.63,519.19 L207,518.81 L207.37,518.42 L207.75,518.02 L208.11,517.62 L208.48,517.22 L208.84,516.81 L209.2,516.39 L209.49,516.06 L209.77,515.71 L210.06,515.36 L210.36,515 L210.65,514.63 L210.94,514.26 L211.24,513.88 L211.53,513.49 L211.83,513.11 L212.13,512.71 L212.42,512.32 L212.72,511.92 L213.02,511.51 L213.31,511.11 L213.61,510.7 L213.9,510.29 L214.19,509.88 L214.48,509.47 L214.77,509.06 L215.06,508.65 L215.35,508.25 L215.63,507.84 L215.91,507.44 L216.19,507.03 L216.47,506.63 L216.74,506.24 L217.01,505.85 L217.28,505.46 L217.54,505.08 L217.8,504.7 L218.09,504.27 L218.38,503.84 L218.67,503.41 L218.95,502.98 L219.22,502.56 L219.49,502.13 L219.76,501.71 L220.03,501.28 L220.29,500.86 L220.55,500.44 L220.8,500.02 L221.06,499.61 L221.31,499.19 L221.56,498.77 L221.82,498.36 L222.07,497.95 L222.32,497.54 L222.57,497.13 L222.82,496.72 L223.07,496.32 L223.32,495.91 L223.57,495.51 L223.83,495.11 L224.08,494.71 L224.34,494.31 L224.6,493.92 L224.88,493.49 L225.17,493.07 L225.45,492.64 L225.73,492.22 L226.01,491.8 L226.3,491.39 L226.58,490.97 L226.86,490.56 L227.15,490.15 L227.43,489.74 L227.71,489.33 L227.99,488.92 L228.28,488.52 L228.56,488.12 L228.84,487.72 L229.13,487.32 L229.41,486.93 L229.69,486.53 L229.98,486.14 L230.26,485.75 L230.55,485.36 L230.83,484.98 L231.11,484.6 L231.4,484.22 L231.71,483.81 L232.03,483.4 L232.35,482.99 L232.66,482.59 L232.99,482.19 L233.31,481.79 L233.63,481.4 L233.95,481.01 L234.27,480.62 L234.6,480.23 L234.92,479.85 L235.24,479.46 L235.56,479.08 L235.88,478.7 L236.19,478.33 L236.5,477.95 L236.81,477.58 L237.12,477.21 L237.42,476.83 L237.72,476.46 L238.01,476.09 L238.3,475.72 L238.62,475.29 L238.93,474.86 L239.23,474.42 L239.52,473.99 L239.8,473.56 L240.08,473.12 L240.35,472.7 L240.62,472.27 L240.89,471.85 L241.16,471.43 L241.44,471.01 L241.72,470.6 L242,470.2 L242.3,469.8 L242.61,469.41 L242.93,469.03 L243.27,468.65 L243.63,468.29 L244,467.93 L244.36,467.61 L244.73,467.29 L245.13,466.96 L245.54,466.64 L245.96,466.32 L246.39,466 L246.84,465.69 L247.29,465.38 L247.74,465.07 L248.2,464.78 L248.66,464.49 L249.12,464.21 L249.58,463.95 L250.03,463.69 L250.48,463.45 L250.91,463.23 L251.34,463.02 L251.75,462.83 L252.15,462.65 L252.54,462.48 L252.9,462.33 L253.55,462.11 L254.17,461.95 L254.75,461.85 L255.3,461.8 L255.82,461.8 L256.34,461.85 L256.84,461.93 L257.34,462.05 L257.85,462.2 L258.37,462.37 L258.9,462.57 L259.33,462.74 L259.77,462.94 L260.2,463.17 L260.64,463.43 L261.08,463.7 L261.52,464 L261.96,464.31 L262.4,464.64 L262.83,464.98 L263.26,465.33 L263.68,465.69 L264.1,466.05 L264.5,466.42 L264.9,466.8 L265.26,467.15 L265.62,467.52 L265.97,467.89 L266.31,468.27 L266.64,468.66 L266.98,469.06 L267.31,469.47 L267.63,469.89 L267.96,470.31 L268.28,470.75 L268.6,471.19 L268.92,471.64 L269.25,472.1 L269.57,472.57 L269.9,473.05 L270.17,473.44 L270.44,473.82 L270.71,474.19 L270.97,474.55 L271.24,474.92 L271.5,475.28 L271.76,475.65 L272.02,476.03 L272.29,476.43 L272.55,476.84 L272.82,477.27 L273.09,477.73 L273.36,478.21 L273.64,478.73 L273.92,479.28 L274.21,479.87 L274.5,480.51 L274.8,481.19 L274.95,481.55 L275.11,481.93 L275.27,482.31 L275.43,482.71 L275.6,483.13 L275.77,483.56 L275.94,484 L276.11,484.45 L276.28,484.91 L276.46,485.39 L276.64,485.87 L276.81,486.36 L276.99,486.85 L277.17,487.36 L277.35,487.86 L277.53,488.38 L277.71,488.89 L277.89,489.41 L278.07,489.93 L278.25,490.45 L278.43,490.97 L278.6,491.49 L278.78,492.01 L278.95,492.53 L279.12,493.04 L279.29,493.55 L279.46,494.05 L279.62,494.55 L279.78,495.04 L279.94,495.52 L280.09,496 L280.24,496.46 L280.39,496.92 L280.53,497.36 L280.67,497.79 L280.8,498.21 L280.98,498.77 L281.14,499.31 L281.3,499.84 L281.46,500.36 L281.6,500.86 L281.74,501.35 L281.88,501.84 L282.01,502.31 L282.13,502.78 L282.26,503.24 L282.38,503.69 L282.49,504.14 L282.61,504.59 L282.72,505.04 L282.83,505.49 L282.95,505.94 L283.06,506.39 L283.17,506.85 L283.29,507.31 L283.41,507.78 L283.53,508.26 L283.65,508.75 L283.78,509.24 L283.92,509.75 L284.06,510.28 L284.2,510.81 L284.32,511.25 L284.44,511.7 L284.57,512.14 L284.69,512.58 L284.81,513.02 L284.94,513.47 L285.07,513.91 L285.2,514.36 L285.32,514.81 L285.45,515.26 L285.58,515.71 L285.72,516.17 L285.85,516.63 L285.98,517.09 L286.12,517.56 L286.25,518.03 L286.39,518.51 L286.52,519 L286.66,519.48 L286.8,519.98 L286.94,520.48 L287.07,520.99 L287.21,521.5 L287.35,522.03 L287.5,522.56 L287.64,523.1 L287.78,523.64 L287.92,524.2 L288.07,524.76 L288.21,525.34 L288.35,525.92 L288.5,526.52 L288.6,526.94 L288.7,527.35 L288.81,527.77 L288.91,528.19 L289.01,528.61 L289.12,529.03 L289.22,529.45 L289.33,529.87 L289.44,530.3 L289.54,530.72 L289.65,531.15 L289.76,531.58 L289.87,532.02 L289.97,532.45 L290.08,532.89 L290.19,533.33 L290.3,533.78 L290.41,534.23 L290.52,534.68 L290.63,535.14 L290.74,535.6 L290.85,536.07 L290.96,536.54 L291.07,537.02 L291.18,537.5 L291.3,537.99 L291.41,538.48 L291.52,538.98 L291.63,539.48 L291.74,539.99 L291.85,540.51 L291.96,541.04 L292.07,541.57 L292.19,542.11 L292.3,542.65 L292.41,543.21 L292.52,543.77 L292.63,544.34 L292.74,544.92 L292.85,545.51 L292.96,546.1 L293.07,546.71 L293.18,547.32 L293.28,547.95 L293.39,548.58 L293.5,549.22 L293.57,549.63 L293.64,550.05 L293.7,550.48 L293.77,550.93 L293.84,551.38 L293.91,551.84 L293.99,552.31 L294.06,552.79 L294.13,553.27 L294.2,553.77 L294.28,554.27 L294.35,554.78 L294.42,555.3 L294.5,555.83 L294.57,556.36 L294.65,556.89 L294.72,557.44 L294.8,557.98 L294.88,558.54 L294.95,559.1 L295.03,559.66 L295.1,560.22 L295.18,560.79 L295.26,561.37 L295.33,561.94 L295.41,562.52 L295.49,563.1 L295.56,563.68 L295.64,564.27 L295.71,564.85 L295.79,565.43 L295.86,566.02 L295.94,566.61 L296.01,567.19 L296.09,567.78 L296.16,568.36 L296.24,568.94 L296.31,569.52 L296.38,570.1 L296.46,570.67 L296.53,571.25 L296.6,571.82 L296.67,572.38 L296.74,572.95 L296.81,573.5 L296.88,574.06 L296.95,574.6 L297.01,575.15 L297.08,575.69 L297.15,576.22 L297.21,576.74 L297.28,577.26 L297.34,577.77 L297.4,578.27 L297.46,578.77 L297.52,579.26 L297.58,579.74 L297.64,580.21 L297.7,580.67 L297.75,581.12 L297.81,581.56 L297.86,581.99 L297.91,582.41 L297.97,582.82 L298.02,583.22 L298.06,583.61 L298.11,583.98 L298.16,584.34 L298.2,584.69 L298.24,585.03 L298.29,585.35 L298.33,585.66 L298.36,585.95 L298.4,586.23 L298.73,588.77 L298.88,589.95 L298.91,590.19 L298.86,589.92 L298.81,589.56 L298.8,589.53 L298.8,590.47 L298.81,590.5 L298.86,590.86 L298.91,591.13 L298.88,590.89 L298.73,589.71 L298.4,587.17 L298.36,586.89 L298.33,586.59 L298.29,586.29 L298.24,585.96 L298.2,585.63 L298.16,585.28 L298.11,584.92 L298.06,584.54 L298.02,584.16 L297.97,583.76 L297.91,583.35 L297.86,582.93 L297.81,582.5 L297.75,582.06 L297.7,581.61 L297.64,581.15 L297.58,580.68 L297.52,580.2 L297.46,579.71 L297.4,579.21 L297.34,578.71 L297.28,578.2 L297.21,577.68 L297.15,577.16 L297.08,576.63 L297.01,576.09 L296.95,575.55 L296.88,575 L296.81,574.45 L296.74,573.89 L296.67,573.33 L296.6,572.76 L296.53,572.19 L296.46,571.62 L296.38,571.04 L296.31,570.46 L296.24,569.88 L296.16,569.3 L296.09,568.72 L296.01,568.13 L295.94,567.55 L295.86,566.96 L295.79,566.38 L295.71,565.79 L295.64,565.21 L295.56,564.63 L295.49,564.05 L295.41,563.47 L295.33,562.89 L295.26,562.31 L295.18,561.74 L295.1,561.17 L295.03,560.6 L294.95,560.04 L294.88,559.48 L294.8,558.93 L294.72,558.38 L294.65,557.84 L294.57,557.3 L294.5,556.77 L294.42,556.25 L294.35,555.73 L294.28,555.22 L294.2,554.72 L294.13,554.22 L294.06,553.74 L293.99,553.26 L293.91,552.79 L293.84,552.33 L293.77,551.88 L293.7,551.43 L293.64,551 L293.57,550.58 L293.5,550.18 L293.39,549.53 L293.28,548.9 L293.18,548.27 L293.07,547.66 L292.96,547.05 L292.85,546.46 L292.74,545.87 L292.63,545.29 L292.52,544.72 L292.41,544.16 L292.3,543.61 L292.19,543.06 L292.07,542.52 L291.96,541.99 L291.85,541.47 L291.74,540.95 L291.63,540.44 L291.52,539.93 L291.41,539.43 L291.3,538.94 L291.18,538.45 L291.07,537.97 L290.96,537.5 L290.85,537.03 L290.74,536.56 L290.63,536.1 L290.52,535.64 L290.41,535.19 L290.3,534.74 L290.19,534.29 L290.08,533.85 L289.97,533.41 L289.87,532.98 L289.76,532.54 L289.65,532.11 L289.54,531.68 L289.44,531.26 L289.33,530.83 L289.22,530.41 L289.12,529.99 L289.01,529.57 L288.91,529.15 L288.81,528.73 L288.7,528.32 L288.6,527.9 L288.5,527.48 L288.35,526.89 L288.21,526.3 L288.07,525.73 L287.92,525.16 L287.78,524.61 L287.64,524.06 L287.5,523.52 L287.35,522.99 L287.21,522.47 L287.07,521.96 L286.94,521.45 L286.8,520.95 L286.66,520.45 L286.52,519.96 L286.39,519.48 L286.25,519 L286.12,518.53 L285.98,518.06 L285.85,517.6 L285.72,517.14 L285.58,516.68 L285.45,516.23 L285.32,515.78 L285.2,515.33 L285.07,514.88 L284.94,514.44 L284.81,514 L284.69,513.55 L284.57,513.11 L284.44,512.67 L284.32,512.23 L284.2,511.79 L284.06,511.25 L283.92,510.73 L283.78,510.22 L283.65,509.72 L283.53,509.24 L283.41,508.76 L283.29,508.29 L283.17,507.83 L283.06,507.37 L282.95,506.92 L282.83,506.47 L282.72,506.02 L282.61,505.57 L282.49,505.12 L282.38,504.67 L282.26,504.22 L282.13,503.76 L282.01,503.29 L281.88,502.82 L281.74,502.34 L281.6,501.84 L281.46,501.34 L281.3,500.83 L281.14,500.3 L280.98,499.75 L280.8,499.19 L280.67,498.77 L280.53,498.34 L280.39,497.9 L280.24,497.45 L280.09,496.98 L279.94,496.51 L279.78,496.03 L279.62,495.54 L279.46,495.04 L279.29,494.54 L279.12,494.03 L278.95,493.52 L278.78,493 L278.6,492.48 L278.43,491.96 L278.25,491.44 L278.07,490.92 L277.89,490.4 L277.71,489.88 L277.53,489.37 L277.35,488.86 L277.17,488.35 L276.99,487.85 L276.81,487.35 L276.64,486.86 L276.46,486.38 L276.28,485.91 L276.11,485.45 L275.94,485 L275.77,484.56 L275.6,484.13 L275.43,483.71 L275.27,483.31 L275.11,482.93 L274.95,482.56 L274.8,482.21 L274.5,481.56 L274.21,480.95 L273.92,480.39 L273.64,479.86 L273.36,479.38 L273.09,478.92 L272.82,478.49 L272.55,478.08 L272.29,477.7 L272.02,477.33 L271.76,476.98 L271.5,476.63 L271.24,476.29 L270.97,475.95 L270.71,475.62 L270.44,475.27 L270.17,474.92 L269.9,474.56 L269.57,474.11 L269.25,473.68 L268.92,473.25 L268.6,472.83 L268.28,472.42 L267.96,472.02 L267.63,471.63 L267.31,471.24 L266.98,470.87 L266.64,470.5 L266.31,470.14 L265.97,469.79 L265.62,469.45 L265.26,469.12 L264.9,468.8 L264.5,468.46 L264.1,468.12 L263.68,467.79 L263.26,467.46 L262.83,467.14 L262.4,466.84 L261.96,466.54 L261.52,466.26 L261.08,466 L260.64,465.76 L260.2,465.54 L259.77,465.35 L259.33,465.18 L258.9,465.03 L258.37,464.88 L257.85,464.75 L257.34,464.64 L256.84,464.56 L256.34,464.51 L255.82,464.51 L255.3,464.55 L254.75,464.64 L254.17,464.79 L253.55,464.99 L252.9,465.27 L252.54,465.44 L252.15,465.63 L251.75,465.86 L251.34,466.11 L250.91,466.38 L250.48,466.67 L250.03,466.97 L249.58,467.29 L249.12,467.62 L248.66,467.97 L248.2,468.32 L247.74,468.68 L247.29,469.05 L246.84,469.42 L246.39,469.8 L245.96,470.18 L245.54,470.56 L245.13,470.95 L244.73,471.33 L244.36,471.7 L244,472.07 L243.63,472.48 L243.27,472.9 L242.93,473.32 L242.61,473.75 L242.3,474.18 L242,474.62 L241.72,475.07 L241.44,475.52 L241.16,475.97 L240.89,476.43 L240.62,476.89 L240.35,477.36 L240.08,477.83 L239.8,478.3 L239.52,478.77 L239.23,479.25 L238.93,479.72 L238.62,480.2 L238.3,480.68 L238.01,481.09 L237.72,481.51 L237.42,481.94 L237.12,482.36 L236.81,482.79 L236.5,483.22 L236.19,483.65 L235.88,484.08 L235.56,484.51 L235.24,484.95 L234.92,485.39 L234.6,485.83 L234.27,486.28 L233.95,486.72 L233.63,487.17 L233.31,487.62 L232.99,488.07 L232.66,488.53 L232.35,488.99 L232.03,489.45 L231.71,489.92 L231.4,490.38 L231.11,490.81 L230.83,491.25 L230.55,491.68 L230.26,492.12 L229.98,492.56 L229.69,493 L229.41,493.44 L229.13,493.89 L228.84,494.33 L228.56,494.78 L228.28,495.24 L227.99,495.69 L227.71,496.14 L227.43,496.6 L227.15,497.06 L226.86,497.52 L226.58,497.99 L226.3,498.45 L226.01,498.92 L225.73,499.39 L225.45,499.86 L225.17,500.33 L224.88,500.81 L224.6,501.28 L224.34,501.72 L224.08,502.17 L223.83,502.61 L223.57,503.06 L223.32,503.5 L223.07,503.95 L222.82,504.4 L222.57,504.85 L222.32,505.31 L222.07,505.76 L221.82,506.22 L221.56,506.68 L221.31,507.13 L221.06,507.6 L220.8,508.06 L220.55,508.53 L220.29,509 L220.03,509.47 L219.76,509.94 L219.49,510.41 L219.22,510.89 L218.95,511.37 L218.67,511.85 L218.38,512.33 L218.09,512.81 L217.8,513.3 L217.54,513.73 L217.28,514.16 L217.01,514.59 L216.74,515.04 L216.47,515.48 L216.19,515.93 L215.91,516.39 L215.63,516.85 L215.35,517.31 L215.06,517.77 L214.77,518.23 L214.48,518.69 L214.19,519.16 L213.9,519.62 L213.61,520.09 L213.31,520.55 L213.02,521.01 L212.72,521.47 L212.42,521.92 L212.13,522.38 L211.83,522.82 L211.53,523.27 L211.24,523.71 L210.94,524.14 L210.65,524.57 L210.36,524.99 L210.06,525.41 L209.77,525.82 L209.49,526.22 L209.2,526.61 L208.84,527.09 L208.48,527.57 L208.11,528.04 L207.75,528.51 L207.37,528.97 L207,529.43 L206.63,529.89 L206.26,530.33 L205.88,530.78 L205.51,531.21 L205.14,531.64 L204.77,532.07 L204.4,532.49 L204.04,532.91 L203.68,533.32 L203.32,533.72 L202.97,534.11 L202.63,534.5 L202.29,534.87 L201.95,535.23 L201.63,535.59 L201.31,535.94 L201,536.27 L200.7,536.6 L200.21,537.12 L199.76,537.61 L199.33,538.07 L198.93,538.49 L198.55,538.89 L198.18,539.26 L197.81,539.61 L197.45,539.95 L197.08,540.27 L196.71,540.59 L196.32,540.9 L195.91,541.22 L195.47,541.53 L195,541.85 L194.57,542.14 L194.12,542.44 L193.66,542.74 L193.19,543.04 L192.71,543.34 L192.22,543.64 L191.73,543.91 L191.23,544.16 L190.72,544.4 L190.2,544.62 L189.69,544.82 L189.17,545 L188.65,545.16 L188.13,545.29 L187.61,545.4 L187.1,545.47 L186.61,545.51 L186.12,545.53 L185.61,545.52 L185.1,545.49 L184.59,545.44 L184.07,545.38 L183.55,545.29 L183.03,545.19 L182.51,544.98 L181.99,544.75 L181.48,544.51 L180.98,544.26 L180.48,544 L179.99,543.74 L179.52,543.48 L179.05,543.22 L178.6,542.95 L178.13,542.67 L177.68,542.37 L177.23,542.05 L176.79,541.72 L176.36,541.39 L175.94,541.04 L175.53,540.69 L175.12,540.33 L174.72,539.96 L174.32,539.59 L173.92,539.22 L173.54,538.85 L173.15,538.48 L172.76,538.11 L172.38,537.74 L172,537.38 L171.6,537 L171.21,536.6 L170.83,536.2 L170.46,535.8 L170.09,535.4 L169.73,534.99 L169.37,534.58 L169.01,534.18 L168.65,533.77 L168.29,533.37 L167.92,532.98 L167.56,532.59 L167.18,532.2 L166.79,531.83 L166.4,531.46 L166,531.1 L165.58,530.75 L165.16,530.4 L164.74,530.06 L164.31,529.72 L163.87,529.38 L163.44,529.05 L163,528.72 L162.56,528.41 L162.13,528.1 L161.69,527.8 L161.26,527.52 L160.83,527.24 L160.41,526.98 L160,526.73 L159.49,526.44 L158.98,526.16 L158.48,525.89 L157.99,525.63 L157.49,525.39 L157,525.16 L156.51,525.01 L156.03,524.88 L155.54,524.77 L155.06,524.69 L154.58,524.63 L154.1,524.6 L153.59,524.58 L153.09,524.55 L152.59,524.54 L152.11,524.54 L151.62,524.57 L151.14,524.65 L150.64,524.77 L150.13,524.96 L149.61,525.17 L149.07,525.44 L148.5,525.8 L148.22,526 L147.93,526.22 L147.63,526.46 L147.32,526.71 L147.01,526.98 L146.7,527.26 L146.38,527.56 L146.05,527.88 L145.73,528.2 L145.4,528.54 L145.07,528.9 L144.74,529.27 L144.41,529.65 L144.08,530.05 L143.76,530.46 L143.43,530.88 L143.11,531.31 L142.79,531.75 L142.48,532.21 L142.18,532.67 L141.88,533.15 L141.58,533.64 L141.3,534.14 L141.11,534.5 L140.91,534.86 L140.72,535.23 L140.53,535.61 L140.34,536 L140.15,536.4 L139.97,536.8 L139.78,537.22 L139.6,537.63 L139.41,538.06 L139.23,538.49 L139.05,538.93 L138.88,539.37 L138.7,539.82 L138.52,540.27 L138.35,540.73 L138.18,541.19 L138,541.66 L137.83,542.13 L137.67,542.6 L137.5,543.08 L137.33,543.56 L137.17,544.05 L137.01,544.53 L136.84,545.02 L136.68,545.51 L136.52,546.01 L136.37,546.5 L136.21,546.99 L136.06,547.49 L135.9,547.99 L135.75,548.48 L135.6,548.98 L135.47,549.42 L135.34,549.87 L135.21,550.32 L135.08,550.77 L134.95,551.21 L134.82,551.66 L134.7,552.1 L134.58,552.55 L134.45,553 L134.33,553.45 L134.21,553.9 L134.09,554.36 L133.98,554.82 L133.86,555.28 L133.75,555.74 L133.63,556.21 L133.52,556.68 L133.41,557.15 L133.29,557.62 L133.18,558.1 L133.07,558.58 L132.96,559.06 L132.86,559.54 L132.75,560.03 L132.64,560.52 L132.54,561.01 L132.43,561.51 L132.33,562 L132.22,562.51 L132.12,563.01 L132.01,563.52 L131.91,564.03 L131.81,564.54 L131.71,565.06 L131.6,565.58 L131.5,566.1 L131.4,566.63 L131.31,567.08 L131.23,567.54 L131.14,568.02 L131.05,568.51 L130.97,569.01 L130.88,569.52 L130.79,570.03 L130.7,570.56 L130.62,571.09 L130.53,571.63 L130.44,572.18 L130.35,572.73 L130.27,573.28 L130.18,573.84 L130.09,574.4 L130.01,574.96 L129.92,575.53 L129.84,576.09 L129.75,576.65 L129.67,577.21 L129.59,577.77 L129.51,578.33 L129.43,578.88 L129.35,579.43 L129.27,579.97 L129.19,580.5 L129.12,581.03 L129.04,581.55 L128.97,582.06 L128.9,582.57 L128.83,583.06 L128.76,583.54 L128.69,584 L128.63,584.46 L128.57,584.9 L128.51,585.33 L128.45,585.74 L128.39,586.13 L128.34,586.51 L128.28,586.87 L128.23,587.21 L128.19,587.54 L128.14,587.84 L128.1,588.12 L127.81,590.15 L127.74,590.69 L127.78,590.53 L127.8,590.5 Z" fill="#f3b9ba"/>
<path d="M125.2,590 C125.28,589.45 124.67,592.7 125.7,586.7 C126.73,580.7 129.5,565.38 131.4,554 C133.3,542.62 135.2,528.83 137.1,518.4 C139,507.97 140.5,499 142.8,491.4 C145.1,483.8 148.13,478.47 150.9,472.8 C153.67,467.13 156.83,461.12 159.4,457.4 C161.97,453.68 163.87,452.23 166.3,450.5 C168.73,448.77 170.53,448.18 174,447 C177.47,445.82 180.63,444.18 187.1,443.4 C193.57,442.62 203.98,442.22 212.8,442.3 C221.62,442.38 233.82,443.05 240,443.9 C246.18,444.75 246.58,445.73 249.9,447.4 C253.22,449.07 256.9,451.33 259.9,453.9 C262.9,456.47 265.75,459.82 267.9,462.8 C270.05,465.78 271.15,468.32 272.8,471.8 C274.45,475.28 276.47,479.8 277.8,483.7 C279.13,487.6 279.73,490.6 280.8,495.2 C281.87,499.8 282.92,506 284.2,511.3 C285.48,516.6 286.95,520.6 288.5,527 C290.05,533.4 291.85,539.75 293.5,549.7 C295.15,559.65 297.52,579.98 298.4,586.7 C299.28,593.42 298.73,589.45 298.8,590" fill="none" stroke="#000" stroke-width="1.4" stroke-dasharray="1.3,1.84"/>
<path d="M127.8,590 C127.9,589.5 128.03,588.97 128.4,587 C128.77,585.03 129.03,584.42 130,578.2 C130.97,571.98 132.55,557.28 134.2,549.7 C135.85,542.12 137.77,538.15 139.9,532.7 C142.03,527.25 144.63,520.45 147,517 C149.37,513.55 151.93,512.67 154.1,512 C156.27,511.33 157.97,512.4 160,513 C162.03,513.6 164.3,514.6 166.3,515.6 C168.3,516.6 169.95,517.72 172,519 C174.05,520.28 175.8,522.15 178.6,523.3 C181.4,524.45 186.07,525.82 188.8,525.9 C191.53,525.98 192.07,525.48 195,523.8 C197.93,522.12 202.6,519.22 206.4,515.8 C210.2,512.38 214,508.23 217.8,503.3 C221.6,498.37 225.4,491.33 229.2,486.2 C233,481.07 237.8,475.62 240.6,472.5 C243.4,469.38 243.95,469.05 246,467.5 C248.05,465.95 250.75,463.88 252.9,463.2 C255.05,462.52 256.9,462.63 258.9,463.4 C260.9,464.17 263.07,466.07 264.9,467.8 C266.73,469.53 268.25,471.48 269.9,473.8 C271.55,476.12 272.98,477.55 274.8,481.7 C276.62,485.85 279.23,493.77 280.8,498.7 C282.37,503.63 282.92,506.58 284.2,511.3 C285.48,516.02 286.95,520.6 288.5,527 C290.05,533.4 291.85,539.75 293.5,549.7 C295.15,559.65 297.52,579.98 298.4,586.7 C299.28,593.42 298.73,589.45 298.8,590" fill="none" stroke="#1f77b4" stroke-width="1.5" stroke-dasharray="4.1,2.2"/>
<path d="M127.8,590 C127.85,589.6 127.5,591.7 128.1,587.6 C128.7,583.5 130.15,572.18 131.4,565.4 C132.65,558.62 133.95,552.58 135.6,546.9 C137.25,541.22 139.15,535.45 141.3,531.3 C143.45,527.15 146.37,523.78 148.5,522 C150.63,520.22 152.18,520.53 154.1,520.6 C156.02,520.67 157.95,521.43 160,522.4 C162.05,523.37 164.4,524.88 166.4,526.4 C168.4,527.92 169.97,529.88 172,531.5 C174.03,533.12 176.08,534.98 178.6,536.1 C181.12,537.22 184.37,538.35 187.1,538.2 C189.83,538.05 192.73,536.47 195,535.2 C197.27,533.93 198.33,532.88 200.7,530.6 C203.07,528.32 206.35,525.1 209.2,521.5 C212.05,517.9 215.23,512.98 217.8,509 C220.37,505.02 222.33,501.22 224.6,497.6 C226.87,493.98 229.12,490.53 231.4,487.3 C233.68,484.07 236.2,481.08 238.3,478.2 C240.4,475.32 241.57,472.4 244,470 C246.43,467.6 250.42,464.83 252.9,463.8 C255.38,462.77 256.9,463.13 258.9,463.8 C260.9,464.47 263.07,466.13 264.9,467.8 C266.73,469.47 268.25,471.48 269.9,473.8 C271.55,476.12 272.98,477.55 274.8,481.7 C276.62,485.85 279.23,493.77 280.8,498.7 C282.37,503.63 282.92,506.58 284.2,511.3 C285.48,516.02 286.95,520.6 288.5,527 C290.05,533.4 291.85,539.75 293.5,549.7 C295.15,559.65 297.52,579.98 298.4,586.7 C299.28,593.42 298.73,589.45 298.8,590" fill="none" stroke="#d62728" stroke-width="1.5"/>
<circle cx="131.3" cy="557.6" r="2.3" fill="#000"/>
<circle cx="140.7" cy="534.8" r="2.3" fill="#000"/>
<circle cx="149.3" cy="519.2" r="2.3" fill="#000"/>
<circle cx="157.8" cy="514.7" r="2.3" fill="#000"/>
<circle cx="166.6" cy="522.9" r="2.3" fill="#000"/>
<circle cx="175.1" cy="535.3" r="2.3" fill="#000"/>
<circle cx="183.7" cy="543" r="2.3" fill="#000"/>
<circle cx="192.3" cy="539" r="2.3" fill="#000"/>
<circle cx="200.8" cy="531.3" r="2.3" fill="#000"/>
<circle cx="209.4" cy="522.4" r="2.3" fill="#000"/>
<circle cx="217.9" cy="513.9" r="2.3" fill="#000"/>
<circle cx="226.5" cy="499" r="2.3" fill="#000"/>
<circle cx="235" cy="483.1" r="2.3" fill="#000"/>
<circle cx="243.6" cy="473.1" r="2.3" fill="#000"/>
<circle cx="252.2" cy="463" r="2.3" fill="#000"/>
<circle cx="260.7" cy="465.6" r="2.3" fill="#000"/>
<circle cx="269.4" cy="475.6" r="2.3" fill="#000"/>
<circle cx="278.3" cy="487.9" r="2.3" fill="#000"/>
<circle cx="286.5" cy="512.2" r="2.3" fill="#000"/>
<circle cx="295" cy="551.6" r="2.3" fill="#000"/>
</g>
<g clip-path="url(#crc)">
<path d="M56,662.5 L56.83,661.79 L57.66,661.07 L58.49,660.36 L59.31,659.64 L60.14,658.93 L60.97,658.21 L61.8,657.5 L62.82,657.31 L63.84,657.12 L64.85,656.93 L65.87,656.74 L66.89,656.55 L67.91,656.35 L68.93,656.16 L69.95,655.97 L70.96,655.78 L71.98,655.59 L73,655.4 L73.12,656.42 L73.24,657.44 L73.36,658.45 L73.48,659.47 L73.61,660.49 L73.73,661.51 L73.85,662.53 L73.97,663.55 L74.09,664.56 L74.21,665.58 L74.33,666.6 L74.45,667.62 L74.58,668.64 L74.7,669.65 L74.82,670.67 L74.94,671.69 L75.06,672.71 L75.18,673.73 L75.3,674.75 L75.42,675.76 L75.55,676.78 L75.67,677.8 L75.79,678.82 L75.91,679.84 L76.03,680.85 L76.15,681.87 L76.27,682.89 L76.39,683.91 L76.52,684.93 L76.64,685.95 L76.76,686.96 L76.88,687.98 L77,689 L77.31,688.04 L77.63,687.07 L77.94,686.11 L78.26,685.15 L78.57,684.19 L78.89,683.22 L79.2,682.26 L79.52,681.3 L79.83,680.33 L80.15,679.37 L80.46,678.41 L80.78,677.44 L81.09,676.48 L81.41,675.52 L81.72,674.56 L82.04,673.59 L82.35,672.63 L82.67,671.67 L82.98,670.7 L83.3,669.74 L83.61,668.78 L83.93,667.81 L84.24,666.85 L84.56,665.89 L84.87,664.93 L85.19,663.96 L85.5,663 L85.88,662.02 L86.25,661.05 L86.63,660.07 L87.01,659.09 L87.38,658.12 L87.76,657.14 L88.14,656.16 L88.52,655.18 L88.89,654.21 L89.27,653.23 L89.65,652.25 L90.02,651.28 L90.4,650.3 L90.48,651.32 L90.56,652.34 L90.64,653.36 L90.73,654.37 L90.81,655.39 L90.89,656.41 L90.97,657.43 L91.05,658.45 L91.13,659.47 L91.22,660.48 L91.3,661.5 L91.38,662.52 L91.46,663.54 L91.54,664.56 L91.62,665.58 L91.71,666.59 L91.79,667.61 L91.87,668.63 L91.95,669.65 L92.03,670.67 L92.11,671.69 L92.19,672.71 L92.28,673.72 L92.36,674.74 L92.44,675.76 L92.52,676.78 L92.6,677.8 L92.68,678.82 L92.77,679.83 L92.85,680.85 L92.93,681.87 L93.01,682.89 L93.09,683.91 L93.17,684.93 L93.26,685.94 L93.34,686.96 L93.42,687.98 L93.5,689 L94.55,689 L95.6,689 L96.65,689 L97.7,689 L98.75,689 L99.8,689 L100.85,689 L101.9,689 L102.95,689 L104,689 L104.12,687.98 L104.25,686.95 L104.37,685.93 L104.49,684.91 L104.62,683.88 L104.74,682.86 L104.86,681.84 L104.99,680.81 L105.11,679.79 L105.23,678.77 L105.36,677.74 L105.48,676.72 L105.6,675.7 L105.73,674.67 L105.85,673.65 L105.97,672.63 L106.1,671.6 L106.22,670.58 L106.34,669.56 L106.47,668.53 L106.59,667.51 L106.71,666.49 L106.84,665.46 L106.96,664.44 L107.08,663.42 L107.21,662.39 L107.33,661.37 L107.45,660.35 L107.58,659.32 L107.7,658.3 L107.81,659.32 L107.92,660.35 L108.03,661.37 L108.14,662.39 L108.25,663.42 L108.36,664.44 L108.47,665.46 L108.58,666.49 L108.69,667.51 L108.8,668.53 L108.91,669.56 L109.02,670.58 L109.13,671.6 L109.24,672.63 L109.35,673.65 L109.46,674.67 L109.57,675.7 L109.68,676.72 L109.79,677.74 L109.9,678.77 L110.01,679.79 L110.12,680.81 L110.23,681.84 L110.34,682.86 L110.45,683.88 L110.56,684.91 L110.67,685.93 L110.78,686.95 L110.89,687.98 L111,689 L112,689 L113,689 L114,689 L115,689 L116,689 L117,689 L117.16,688 L117.32,686.99 L117.48,685.99 L117.64,684.98 L117.8,683.98 L117.96,682.98 L118.13,681.96 L118.29,680.95 L118.45,679.93 L118.61,678.92 L118.77,677.9 L118.93,676.89 L119.09,675.87 L119.25,674.86 L119.41,673.84 L119.57,672.82 L119.73,671.81 L119.89,670.79 L120.05,669.78 L120.22,668.76 L120.38,667.75 L120.54,666.73 L120.7,665.72 L120.86,664.7 L121.02,663.69 L121.18,662.67 L121.34,661.66 L121.5,660.64 L121.66,659.62 L121.82,658.61 L121.98,657.59 L122.15,656.58 L122.31,655.56 L122.47,654.55 L122.63,653.53 L122.79,652.52 L122.95,651.5 L123.11,650.49 L123.27,649.47 L123.43,648.46 L123.59,647.44 L123.75,646.42 L123.91,645.41 L124.07,644.39 L124.24,643.38 L124.4,642.36 L124.56,641.35 L124.72,640.33 L124.88,639.32 L125.04,638.3 L125.2,637.29 L126.06,638 L126.91,638.7 L127.77,639.4 L128.63,640.11 L129.49,640.81 L130.34,641.51 L131.2,642.22 L131.75,641.35 L132.31,640.47 L132.86,639.6 L133.42,638.73 L133.97,637.86 L134.53,636.99 L135.09,636.12 L135.64,635.25 L136.19,634.38 L136.75,633.5 L137.31,632.63 L137.86,631.76 L138.41,630.89 L138.97,630.02 L139.53,629.15 L140.08,628.28 L140.64,627.41 L141.19,626.53 L141.75,625.66 L142.3,624.74 L142.97,625.37 L143.63,625.99 L144.3,626.62 L144.97,627.25 L145.63,627.87 L146.3,628.5 L146.97,629.12 L147.63,629.75 L148.3,630.38 L149.26,630.59 L150.22,630.8 L151.18,631.02 L152.13,631.23 L153.09,631.44 L154.05,631.66 L155.01,631.87 L155.97,632.08 L156.93,632.3 L157.88,632.51 L158.84,632.73 L159.8,632.94 L160.73,632.49 L161.66,632.08 L162.59,631.67 L163.51,631.26 L164.44,630.85 L165.37,630.45 L166.3,630.04 L167.25,629.67 L168.21,629.3 L169.16,628.93 L170.12,628.56 L171.07,628.19 L172.03,627.82 L172.98,627.45 L173.94,627.08 L174.89,626.71 L175.85,626.34 L176.8,625.97 L177.66,625.35 L178.53,624.73 L179.39,624.11 L180.25,623.49 L181.11,622.87 L181.97,622.25 L182.84,621.63 L183.7,621 L184.73,621.25 L185.76,621.5 L186.79,621.75 L187.82,622 L188.85,622.25 L189.88,622.5 L190.91,622.75 L191.94,623 L192.97,623.25 L194,623.5 L194.92,623.94 L195.85,624.38 L196.77,624.82 L197.69,625.25 L198.62,625.69 L199.54,626.13 L200.46,626.57 L201.38,627.01 L202.31,627.45 L203.23,627.88 L204.15,628.32 L205.08,628.76 L206,629.2 L206.85,628.62 L207.7,628.04 L208.55,627.46 L209.4,626.88 L210.25,626.3 L211.1,625.73 L211.95,625.15 L212.8,624.57 L213.65,623.99 L214.5,623.41 L215.35,622.83 L216.2,622.25 L217.05,621.67 L217.9,621.09 L218.76,622.08 L219.61,623.1 L220.47,624.11 L221.33,625.12 L222.19,626.14 L223.04,627.15 L223.9,628.17 L224.91,628.08 L225.92,627.97 L226.93,627.87 L227.94,627.76 L228.95,627.65 L229.95,627.54 L230.96,627.43 L231.97,627.32 L232.98,627.22 L233.99,627.11 L235,627 L236,627.3 L237,627.6 L238,627.9 L239,628.2 L240,628.5 L241,628.8 L242,629.1 L243,629.4 L244,629.7 L245,630 L246,630.3 L247,630.6 L248.04,630.7 L249.08,630.8 L250.12,630.9 L251.16,631 L252.2,631.11 L253.22,630.89 L254.24,630.67 L255.26,630.45 L256.28,630.23 L257.3,630.01 L258.32,629.79 L259.34,629.57 L260.36,629.35 L261.38,629.13 L262.4,628.91 L263.45,628.83 L264.49,628.75 L265.54,628.66 L266.58,628.58 L267.63,628.5 L268.68,628.41 L269.72,628.33 L270.77,628.25 L271.82,628.16 L272.86,628.08 L273.91,628 L274.95,627.91 L276,627.83 L276.64,628.64 L277.29,629.45 L277.93,630.26 L278.58,631.08 L279.22,631.89 L279.87,632.7 L280.51,633.51 L281.16,634.32 L281.8,635.13 L282.44,635.95 L283.09,636.76 L283.73,637.57 L284.38,638.38 L285.02,639.19 L285.67,640 L286.31,640.82 L286.96,641.63 L287.6,642.44 L288.2,641.54 L288.8,640.64 L289.4,639.74 L290,638.84 L290.6,637.94 L291.2,637.04 L291.8,636.14 L292.4,635.24 L293,634.34 L293.6,633.45 L294.11,634.34 L294.63,635.23 L295.14,636.12 L295.65,637.01 L296.17,637.9 L296.68,638.79 L297.2,639.69 L297.71,640.58 L298.22,641.47 L298.74,642.36 L299.25,643.25 L299.76,644.14 L300.28,645.03 L300.79,645.92 L301.3,646.82 L301.82,647.71 L302.33,648.6 L302.85,649.49 L303.36,650.38 L303.87,651.27 L304.39,652.16 L304.9,653.06 L305.12,652.07 L305.34,651.09 L305.56,650.1 L305.79,649.11 L306.01,648.13 L306.23,647.14 L306.45,646.16 L306.67,645.17 L306.89,644.19 L307.11,643.2 L307.34,642.22 L307.56,641.23 L307.78,640.24 L308,639.26 L308.22,638.27 L308.44,637.29 L308.66,636.3 L308.89,635.32 L309.11,634.33 L309.33,633.35 L309.55,632.36 L309.77,631.38 L309.99,630.39 L310.21,629.4 L310.44,628.42 L310.66,627.43 L310.88,626.45 L311.1,625.46 L312.14,625.78 L313.17,626.1 L314.21,626.42 L315.25,626.74 L316.28,627.06 L317.32,627.38 L318.35,627.7 L319.39,628.02 L320.43,628.33 L321.46,628.65 L322.5,628.97 L322.64,627.98 L322.78,626.99 L322.93,626 L323.07,625.01 L323.21,624.02 L323.35,623.03 L323.49,622.04 L323.63,621.05 L323.77,620.06 L323.92,619.07 L324.06,618.08 L324.2,617.09 L324.34,616.11 L324.48,615.12 L324.62,614.13 L324.77,613.14 L324.91,612.15 L325.05,611.16 L325.19,610.17 L325.33,609.18 L325.48,608.19 L325.62,607.2 L325.76,606.21 L325.9,605.22 L326.04,604.23 L326.18,603.24 L326.32,602.25 L326.47,601.26 L326.61,600.27 L326.75,599.28 L326.89,598.29 L327.03,597.3 L327.18,596.31 L327.32,595.32 L327.46,594.33 L327.6,593.34 L327.74,592.35 L327.88,591.36 L328.02,590.37 L328.17,589.38 L328.31,588.39 L328.45,587.4 L328.59,586.41 L328.73,585.42 L328.88,584.43 L329.02,583.44 L329.16,582.45 L329.3,581.46 L329.44,580.47 L329.58,579.48 L329.73,578.49 L329.87,577.5 L330.01,576.51 L330.15,575.52 L330.29,574.53 L330.43,573.54 L330.57,572.55 L330.72,571.56 L330.86,570.57 L331,569.58 L331,570.42 L330.86,571.41 L330.72,572.4 L330.57,573.39 L330.43,574.38 L330.29,575.37 L330.15,576.36 L330.01,577.35 L329.87,578.34 L329.73,579.33 L329.58,580.32 L329.44,581.31 L329.3,582.3 L329.16,583.29 L329.02,584.28 L328.88,585.27 L328.73,586.26 L328.59,587.25 L328.45,588.24 L328.31,589.23 L328.17,590.22 L328.02,591.21 L327.88,592.2 L327.74,593.19 L327.6,594.18 L327.46,595.17 L327.32,596.16 L327.18,597.15 L327.03,598.14 L326.89,599.13 L326.75,600.12 L326.61,601.11 L326.47,602.1 L326.32,603.09 L326.18,604.08 L326.04,605.07 L325.9,606.06 L325.76,607.05 L325.62,608.04 L325.48,609.03 L325.33,610.02 L325.19,611.01 L325.05,612 L324.91,612.99 L324.77,613.98 L324.62,614.97 L324.48,615.96 L324.34,616.95 L324.2,617.95 L324.06,618.94 L323.92,619.93 L323.77,620.92 L323.63,621.91 L323.49,622.9 L323.35,623.89 L323.21,624.88 L323.07,625.87 L322.93,626.86 L322.78,627.85 L322.64,628.84 L322.5,629.83 L321.46,629.51 L320.43,629.19 L319.39,628.88 L318.35,628.56 L317.32,628.24 L316.28,627.92 L315.25,627.61 L314.21,627.29 L313.17,626.97 L312.14,626.65 L311.1,626.34 L310.88,627.32 L310.66,628.31 L310.44,629.3 L310.21,630.28 L309.99,631.27 L309.77,632.25 L309.55,633.24 L309.33,634.23 L309.11,635.21 L308.89,636.2 L308.66,637.18 L308.44,638.17 L308.22,639.15 L308,640.14 L307.78,641.13 L307.56,642.11 L307.34,643.1 L307.11,644.08 L306.89,645.07 L306.67,646.06 L306.45,647.04 L306.23,648.03 L306.01,649.01 L305.79,650 L305.56,650.99 L305.34,651.97 L305.12,652.96 L304.9,653.94 L304.39,653.05 L303.87,652.16 L303.36,651.27 L302.85,650.38 L302.33,649.49 L301.82,648.6 L301.3,647.71 L300.79,646.82 L300.28,645.93 L299.76,645.04 L299.25,644.15 L298.74,643.26 L298.22,642.37 L297.71,641.48 L297.2,640.59 L296.68,639.7 L296.17,638.81 L295.65,637.92 L295.14,637.03 L294.63,636.14 L294.11,635.25 L293.6,634.35 L293,635.26 L292.4,636.16 L291.8,637.06 L291.2,637.96 L290.6,638.86 L290,639.76 L289.4,640.66 L288.8,641.56 L288.2,642.46 L287.6,643.36 L286.96,642.55 L286.31,641.74 L285.67,640.93 L285.02,640.12 L284.38,639.31 L283.73,638.5 L283.09,637.69 L282.44,636.88 L281.8,636.07 L281.16,635.26 L280.51,634.45 L279.87,633.63 L279.22,632.82 L278.58,632.01 L277.93,631.2 L277.29,630.39 L276.64,629.58 L276,628.77 L274.95,628.86 L273.91,628.94 L272.86,629.03 L271.82,629.11 L270.77,629.2 L269.72,629.29 L268.68,629.37 L267.63,629.46 L266.58,629.54 L265.54,629.63 L264.49,629.71 L263.45,629.8 L262.4,629.89 L261.38,630.11 L260.36,630.33 L259.34,630.55 L258.32,630.77 L257.3,630.99 L256.28,631.21 L255.26,631.43 L254.24,631.65 L253.22,631.87 L252.2,632.09 L251.16,632 L250.12,631.9 L249.08,631.8 L248.04,631.7 L247,631.6 L246,631.38 L245,631.17 L244,630.95 L243,630.73 L242,630.52 L241,630.3 L240,630.08 L239,629.87 L238,629.65 L237,629.43 L236,629.22 L235,629 L233.99,629.29 L232.98,629.58 L231.97,629.88 L230.96,630.17 L229.95,630.46 L228.95,630.75 L227.94,631.04 L226.93,631.33 L225.92,631.63 L224.91,631.92 L223.9,632.23 L223.04,631.79 L222.19,631.35 L221.33,630.9 L220.47,630.46 L219.61,630.02 L218.76,629.58 L217.9,629.11 L217.05,629.83 L216.2,630.55 L215.35,631.27 L214.5,631.99 L213.65,632.71 L212.8,633.43 L211.95,634.15 L211.1,634.88 L210.25,635.6 L209.4,636.32 L208.55,637.04 L207.7,637.76 L206.85,638.48 L206,639.2 L205.08,638.76 L204.15,638.32 L203.23,637.88 L202.31,637.45 L201.38,637.01 L200.46,636.57 L199.54,636.13 L198.62,635.69 L197.69,635.25 L196.77,634.82 L195.85,634.38 L194.92,633.94 L194,633.5 L192.97,633.25 L191.94,633 L190.91,632.75 L189.88,632.5 L188.85,632.25 L187.82,632 L186.79,631.75 L185.76,631.5 L184.73,631.25 L183.7,631 L182.84,631.64 L181.97,632.3 L181.11,632.95 L180.25,633.61 L179.39,634.27 L178.53,634.92 L177.66,635.58 L176.8,636.23 L175.85,636.65 L174.89,637.06 L173.94,637.47 L172.98,637.88 L172.03,638.29 L171.07,638.7 L170.12,639.12 L169.16,639.53 L168.21,639.94 L167.25,640.35 L166.3,640.76 L165.37,641.21 L164.44,641.66 L163.51,642.11 L162.59,642.56 L161.66,643.01 L160.73,643.46 L159.8,643.86 L158.84,643.27 L157.88,642.69 L156.93,642.1 L155.97,641.52 L155.01,640.93 L154.05,640.34 L153.09,639.76 L152.13,639.17 L151.18,638.58 L150.22,638 L149.26,637.41 L148.3,636.83 L147.63,635.94 L146.97,635.05 L146.3,634.17 L145.63,633.28 L144.97,632.4 L144.3,631.51 L143.63,630.63 L142.97,629.74 L142.3,628.86 L141.75,629.65 L141.19,630.49 L140.64,631.32 L140.08,632.16 L139.53,633 L138.97,633.84 L138.41,634.68 L137.86,635.52 L137.31,636.36 L136.75,637.2 L136.19,638.03 L135.64,638.87 L135.09,639.71 L134.53,640.55 L133.97,641.39 L133.42,642.23 L132.86,643.07 L132.31,643.9 L131.75,644.74 L131.2,645.58 L130.34,644.83 L129.49,644.07 L128.63,643.32 L127.77,642.57 L126.91,641.81 L126.06,641.06 L125.2,640.31 L125.04,641.31 L124.88,642.3 L124.72,643.29 L124.56,644.28 L124.4,645.28 L124.24,646.27 L124.07,647.26 L123.91,648.25 L123.75,649.25 L123.59,650.24 L123.43,651.23 L123.27,652.22 L123.11,653.22 L122.95,654.21 L122.79,655.2 L122.63,656.19 L122.47,657.19 L122.31,658.18 L122.15,659.17 L121.98,660.16 L121.82,661.16 L121.66,662.15 L121.5,663.14 L121.34,664.13 L121.18,665.13 L121.02,666.12 L120.86,667.11 L120.7,668.1 L120.54,669.09 L120.38,670.09 L120.22,671.08 L120.05,672.07 L119.89,673.06 L119.73,674.06 L119.57,675.05 L119.41,676.04 L119.25,677.03 L119.09,678.03 L118.93,679.02 L118.77,680.01 L118.61,681 L118.45,682 L118.29,682.99 L118.13,683.98 L117.96,684.98 L117.8,685.98 L117.64,686.98 L117.48,687.99 L117.32,688.99 L117.16,690 L117,691 L116,691 L115,691 L114,691 L113,691 L112,691 L111,691 L110.89,689.98 L110.78,688.95 L110.67,687.93 L110.56,686.91 L110.45,685.88 L110.34,684.86 L110.23,683.84 L110.12,682.81 L110.01,681.79 L109.9,680.77 L109.79,679.74 L109.68,678.72 L109.57,677.7 L109.46,676.67 L109.35,675.65 L109.24,674.63 L109.13,673.6 L109.02,672.58 L108.91,671.56 L108.8,670.53 L108.69,669.51 L108.58,668.49 L108.47,667.46 L108.36,666.44 L108.25,665.42 L108.14,664.39 L108.03,663.37 L107.92,662.35 L107.81,661.32 L107.7,660.3 L107.58,661.32 L107.45,662.35 L107.33,663.37 L107.21,664.39 L107.08,665.42 L106.96,666.44 L106.84,667.46 L106.71,668.49 L106.59,669.51 L106.47,670.53 L106.34,671.56 L106.22,672.58 L106.1,673.6 L105.97,674.63 L105.85,675.65 L105.73,676.67 L105.6,677.7 L105.48,678.72 L105.36,679.74 L105.23,680.77 L105.11,681.79 L104.99,682.81 L104.86,683.84 L104.74,684.86 L104.62,685.88 L104.49,686.91 L104.37,687.93 L104.25,688.95 L104.12,689.98 L104,691 L102.95,691 L101.9,691 L100.85,691 L99.8,691 L98.75,691 L97.7,691 L96.65,691 L95.6,691 L94.55,691 L93.5,691 L93.42,689.98 L93.34,688.96 L93.26,687.94 L93.17,686.93 L93.09,685.91 L93.01,684.89 L92.93,683.87 L92.85,682.85 L92.77,681.83 L92.68,680.82 L92.6,679.8 L92.52,678.78 L92.44,677.76 L92.36,676.74 L92.28,675.72 L92.19,674.71 L92.11,673.69 L92.03,672.67 L91.95,671.65 L91.87,670.63 L91.79,669.61 L91.71,668.59 L91.62,667.58 L91.54,666.56 L91.46,665.54 L91.38,664.52 L91.3,663.5 L91.22,662.48 L91.13,661.47 L91.05,660.45 L90.97,659.43 L90.89,658.41 L90.81,657.39 L90.73,656.37 L90.64,655.36 L90.56,654.34 L90.48,653.32 L90.4,652.3 L90.02,653.28 L89.65,654.25 L89.27,655.23 L88.89,656.21 L88.52,657.18 L88.14,658.16 L87.76,659.14 L87.38,660.12 L87.01,661.09 L86.63,662.07 L86.25,663.05 L85.88,664.02 L85.5,665 L85.19,665.96 L84.87,666.93 L84.56,667.89 L84.24,668.85 L83.93,669.81 L83.61,670.78 L83.3,671.74 L82.98,672.7 L82.67,673.67 L82.35,674.63 L82.04,675.59 L81.72,676.56 L81.41,677.52 L81.09,678.48 L80.78,679.44 L80.46,680.41 L80.15,681.37 L79.83,682.33 L79.52,683.3 L79.2,684.26 L78.89,685.22 L78.57,686.19 L78.26,687.15 L77.94,688.11 L77.63,689.07 L77.31,690.04 L77,691 L76.88,689.98 L76.76,688.96 L76.64,687.95 L76.52,686.93 L76.39,685.91 L76.27,684.89 L76.15,683.87 L76.03,682.85 L75.91,681.84 L75.79,680.82 L75.67,679.8 L75.55,678.78 L75.42,677.76 L75.3,676.75 L75.18,675.73 L75.06,674.71 L74.94,673.69 L74.82,672.67 L74.7,671.65 L74.58,670.64 L74.45,669.62 L74.33,668.6 L74.21,667.58 L74.09,666.56 L73.97,665.55 L73.85,664.53 L73.73,663.51 L73.61,662.49 L73.48,661.47 L73.36,660.45 L73.24,659.44 L73.12,658.42 L73,657.4 L71.98,657.59 L70.96,657.78 L69.95,657.97 L68.93,658.16 L67.91,658.35 L66.89,658.55 L65.87,658.74 L64.85,658.93 L63.84,659.12 L62.82,659.31 L61.8,659.5 L60.97,660.21 L60.14,660.93 L59.31,661.64 L58.49,662.36 L57.66,663.07 L56.83,663.79 L56,664.5 Z" fill="#f3b9ba"/>
<line x1="75.5" y1="631.25" x2="345.7" y2="631.25" stroke="#555" stroke-width="1.2" stroke-dasharray="1.3,1.3"/>
<path d="M104,690 L107.7,659.3 L111,690 L117,690 L125.2,636.6 L131.2,640.5 L142.3,621.2 L148.3,626.8 L159.8,629 L170,621.7 L176.8,619.1 L183.7,613.1 L194,617.4 L206,625.1 L217.9,619.1 L223.9,625.1 L235,625.1 L247,629.9 L252.2,631.1 L262.4,628.5 L276,628.3" fill="none" stroke="#1f77b4" stroke-width="1.5" stroke-dasharray="4.1,2.2"/>
<path d="M56,663.5 L61.8,658.5 L73,656.4 L77,690 L85.5,664 L90.4,651.3 L93.5,690 L104,690 L107.7,659.3 L111,690 L117,690 L125.2,638.8 L131.2,643.9 L142.3,626.8 L148.3,633.6 L159.8,638.4 L166.3,635.4 L176.8,631.1 L183.7,626 L194,628.5 L206,634.2 L217.9,625.1 L223.9,630.2 L235,628 L247,631.1 L252.2,631.6 L262.4,629.4 L276,628.3 L287.6,642.9 L293.6,633.9 L304.9,653.5 L311.1,625.9 L322.5,629.4 L331,570" fill="none" stroke="#d62728" stroke-width="1.3" stroke-linejoin="miter"/>
</g>
<g transform="translate(0,369.2)">
<line x1="72.9" y1="111.0" x2="72.9" y2="134.2" stroke="#000" stroke-width="1.7"/>
<line x1="334.3" y1="111.0" x2="334.3" y2="134.1" stroke="#000" stroke-width="1.7"/>
<line x1="172.8" y1="111.7" x2="172.8" y2="133" stroke="#000" stroke-opacity="0.40" stroke-width="1" stroke-dasharray="1,1"/>
<line x1="181.4" y1="111.7" x2="181.4" y2="133" stroke="#000" stroke-opacity="0.55" stroke-width="1" stroke-dasharray="1,1"/>
<line x1="188.9" y1="111.7" x2="188.9" y2="133" stroke="#000" stroke-opacity="0.55" stroke-width="1" stroke-dasharray="1,1"/>
<line x1="191.8" y1="111.7" x2="191.8" y2="133" stroke="#000" stroke-opacity="0.60" stroke-width="1" stroke-dasharray="1,1"/>
<line x1="194.1" y1="111.7" x2="194.1" y2="133" stroke="#000" stroke-opacity="0.45" stroke-width="1" stroke-dasharray="1,1"/>
<line x1="198.1" y1="111.7" x2="198.1" y2="133" stroke="#000" stroke-opacity="0.45" stroke-width="1" stroke-dasharray="1,1"/>
<line x1="200.9" y1="111.7" x2="200.9" y2="133" stroke="#000" stroke-opacity="0.60" stroke-width="1" stroke-dasharray="1,1"/>
<line x1="202.7" y1="111.7" x2="202.7" y2="133" stroke="#000" stroke-opacity="0.50" stroke-width="1" stroke-dasharray="1,1"/>
<line x1="205.3" y1="111.7" x2="205.3" y2="133" stroke="#000" stroke-opacity="0.45" stroke-width="1" stroke-dasharray="1,1"/>
<line x1="207" y1="111.7" x2="207" y2="133" stroke="#000" stroke-opacity="0.60" stroke-width="1" stroke-dasharray="1,1"/>
<line x1="208.8" y1="111.7" x2="208.8" y2="133" stroke="#000" stroke-opacity="0.65" stroke-width="1" stroke-dasharray="1,1"/>
<line x1="211.3" y1="111.7" x2="211.3" y2="133" stroke="#000" stroke-opacity="0.50" stroke-width="1" stroke-dasharray="1,1"/>
<line x1="213" y1="111.7" x2="213" y2="133" stroke="#000" stroke-opacity="0.55" stroke-width="1" stroke-dasharray="1,1"/>
<line x1="214.1" y1="111.7" x2="214.1" y2="133" stroke="#000" stroke-opacity="0.50" stroke-width="1" stroke-dasharray="1,1"/>
<line x1="183.8" y1="111.1" x2="183.8" y2="133.8" stroke="#000" stroke-width="1.6"/>
<g font-family="Liberation Serif" font-size="12.9" fill="#000">
<text transform="translate(82,105.5) rotate(-90)">Gd II</text>
<text transform="translate(339.9,105.5) rotate(-90)">Zr II</text>
<text transform="translate(186.8,104.1) rotate(-90)">U II</text>
<text transform="translate(209.6,104.1) rotate(-90)">La II</text>
</g>
<line x1="160.1" y1="218.3" x2="160.1" y2="198.7" stroke="#000" stroke-width="1.5"/>
<line x1="160.1" y1="294.0" x2="160.1" y2="274.8" stroke="#000" stroke-width="1.5"/>
<line x1="276.24" y1="218.3" x2="276.24" y2="198.7" stroke="#000" stroke-width="1.5"/>
<line x1="276.24" y1="294.0" x2="276.24" y2="274.8" stroke="#000" stroke-width="1.5"/>
<line x1="72.99" y1="218.3" x2="72.99" y2="208.7" stroke="#000" stroke-width="1.3"/>
<line x1="72.99" y1="294.0" x2="72.99" y2="284.6" stroke="#000" stroke-width="1.3"/>
<line x1="102.03" y1="218.3" x2="102.03" y2="208.7" stroke="#000" stroke-width="1.3"/>
<line x1="102.03" y1="294.0" x2="102.03" y2="284.6" stroke="#000" stroke-width="1.3"/>
<line x1="131.06" y1="218.3" x2="131.06" y2="208.7" stroke="#000" stroke-width="1.3"/>
<line x1="131.06" y1="294.0" x2="131.06" y2="284.6" stroke="#000" stroke-width="1.3"/>
<line x1="189.14" y1="218.3" x2="189.14" y2="208.7" stroke="#000" stroke-width="1.3"/>
<line x1="189.14" y1="294.0" x2="189.14" y2="284.6" stroke="#000" stroke-width="1.3"/>
<line x1="218.17" y1="218.3" x2="218.17" y2="208.7" stroke="#000" stroke-width="1.3"/>
<line x1="218.17" y1="294.0" x2="218.17" y2="284.6" stroke="#000" stroke-width="1.3"/>
<line x1="247.21" y1="218.3" x2="247.21" y2="208.7" stroke="#000" stroke-width="1.3"/>
<line x1="247.21" y1="294.0" x2="247.21" y2="284.6" stroke="#000" stroke-width="1.3"/>
<line x1="305.27" y1="218.3" x2="305.27" y2="208.7" stroke="#000" stroke-width="1.3"/>
<line x1="305.27" y1="294.0" x2="305.27" y2="284.6" stroke="#000" stroke-width="1.3"/>
<line x1="334.31" y1="218.3" x2="334.31" y2="208.7" stroke="#000" stroke-width="1.3"/>
<line x1="334.31" y1="294.0" x2="334.31" y2="284.6" stroke="#000" stroke-width="1.3"/>
<line x1="55.9" y1="73.3" x2="75.5" y2="73.3" stroke="#000" stroke-width="1.5"/>
<line x1="55.9" y1="189.3" x2="65.5" y2="189.3" stroke="#000" stroke-width="1.3"/>
<line x1="55.9" y1="160.3" x2="65.5" y2="160.3" stroke="#000" stroke-width="1.3"/>
<line x1="55.9" y1="131.3" x2="65.5" y2="131.3" stroke="#000" stroke-width="1.3"/>
<line x1="55.9" y1="102.3" x2="65.5" y2="102.3" stroke="#000" stroke-width="1.3"/>
<line x1="55.9" y1="44.3" x2="65.5" y2="44.3" stroke="#000" stroke-width="1.3"/>
<line x1="55.9" y1="15.3" x2="65.5" y2="15.3" stroke="#000" stroke-width="1.3"/>
<line x1="55.9" y1="262.05" x2="75.5" y2="262.05" stroke="#000" stroke-width="1.6"/>
<rect x="55.9" y="0.7" width="289.8" height="217.6" fill="none" stroke="#000" stroke-width="1.5"/>
<rect x="55.9" y="229.5" width="289.8" height="64.5" fill="none" stroke="#000" stroke-width="1.5"/>
<g font-family="Liberation Serif" font-size="15.3" fill="#000" text-anchor="end">
<text x="51.6" y="78.6">1.0</text>
<text x="51.6" y="222.2">0.9</text>
<text x="51.6" y="235.4">2.5</text>
<text x="51.6" y="267.25">0.0</text>
<text x="51.6" y="299.9">−2.5</text>
</g>
<g font-family="Liberation Serif" font-size="15.8" fill="#000" text-anchor="middle">
<text x="160.1" y="309.9">4050.0</text>
<text x="276.24" y="309.9">4050.2</text>
</g>
<text font-family="Liberation Serif" font-size="16.7" x="200.8" y="330.5" text-anchor="middle">Wavelength (Å)</text>
<text font-family="Liberation Serif" font-size="16.7" text-anchor="middle" transform="translate(25.6,109.5) rotate(-90)">Normalized Flux</text>
<text font-family="Liberation Serif" font-size="16.7" text-anchor="middle" transform="translate(12.4,261.75) rotate(-90)">Residual (%)</text>
<text font-family="Liberation Serif" font-size="12.5" x="276.4" y="18.9">(c) HE1523</text>
<rect x="61.4" y="6.4" width="159.6" height="57.8" rx="2.5" fill="#fff" fill-opacity="0.8" stroke="#d0d0d0" stroke-width="0.9"/>
<rect x="65.9" y="12.0" width="25.4" height="9.4" fill="#f3b9ba"/>
<line x1="65.9" y1="16.8" x2="91.3" y2="16.8" stroke="#d62728" stroke-width="1.5"/>
<line x1="65.9" y1="34.7" x2="91.3" y2="34.7" stroke="#1f77b4" stroke-width="1.5" stroke-dasharray="4.3,2.0"/>
<line x1="65.9" y1="52.7" x2="91.3" y2="52.7" stroke="#000" stroke-width="1.3" stroke-dasharray="1.3,1.84"/>
<g font-family="Liberation Serif" font-size="13" fill="#000">
<text x="100.1" y="21.4">log <tspan font-style="italic">ϵ</tspan>(U) = −2.00 ± 0.2</text>
<text x="100.1" y="39.3">log <tspan font-style="italic">ϵ</tspan>(U) = −<tspan font-size="16">∞</tspan></text>
<text x="100.1" y="57.3">log <tspan font-style="italic">ϵ</tspan>(U, La) = −<tspan font-size="16">∞</tspan></text>
</g>
</g>
<g clip-path="url(#cmd)">
<path d="M465.2,589.5 L465.27,589.36 L465.33,589.34 L465.42,589.29 L465.53,589.08 L465.69,588.56 L465.91,587.58 L466.2,586 L466.25,585.7 L466.3,585.39 L466.36,585.06 L466.42,584.71 L466.48,584.35 L466.54,583.97 L466.6,583.58 L466.66,583.17 L466.73,582.75 L466.8,582.32 L466.87,581.87 L466.94,581.42 L467.01,580.95 L467.09,580.47 L467.16,579.98 L467.24,579.48 L467.31,578.97 L467.39,578.46 L467.47,577.93 L467.55,577.4 L467.64,576.87 L467.72,576.32 L467.8,575.78 L467.89,575.22 L467.97,574.67 L468.06,574.1 L468.14,573.54 L468.23,572.97 L468.32,572.41 L468.4,571.84 L468.49,571.26 L468.58,570.69 L468.67,570.12 L468.76,569.55 L468.85,568.99 L468.94,568.42 L469.03,567.86 L469.11,567.3 L469.2,566.74 L469.29,566.19 L469.38,565.64 L469.47,565.1 L469.55,564.57 L469.64,564.04 L469.73,563.52 L469.81,563 L469.9,562.5 L469.99,562 L470.07,561.5 L470.16,561 L470.24,560.5 L470.33,560.01 L470.41,559.51 L470.5,559.01 L470.59,558.52 L470.67,558.02 L470.76,557.53 L470.85,557.03 L470.94,556.54 L471.02,556.04 L471.11,555.55 L471.2,555.05 L471.29,554.56 L471.38,554.06 L471.47,553.57 L471.56,553.07 L471.65,552.58 L471.74,552.08 L471.83,551.59 L471.92,551.09 L472.01,550.6 L472.1,550.1 L472.19,549.6 L472.28,549.11 L472.38,548.61 L472.47,548.11 L472.56,547.61 L472.65,547.11 L472.75,546.61 L472.84,546.11 L472.94,545.61 L473.03,545.11 L473.13,544.6 L473.22,544.1 L473.32,543.59 L473.41,543.09 L473.51,542.58 L473.61,542.07 L473.71,541.56 L473.8,541.05 L473.9,540.54 L474,540.03 L474.1,539.52 L474.2,539 L474.29,538.52 L474.39,538.04 L474.48,537.56 L474.58,537.07 L474.67,536.58 L474.77,536.08 L474.86,535.58 L474.96,535.08 L475.06,534.58 L475.16,534.08 L475.26,533.57 L475.36,533.06 L475.46,532.55 L475.56,532.04 L475.66,531.52 L475.76,531.01 L475.87,530.5 L475.97,529.98 L476.07,529.47 L476.17,528.95 L476.28,528.43 L476.38,527.92 L476.48,527.4 L476.59,526.89 L476.69,526.38 L476.8,525.86 L476.9,525.35 L477,524.84 L477.11,524.33 L477.21,523.83 L477.31,523.32 L477.42,522.82 L477.52,522.32 L477.62,521.83 L477.72,521.33 L477.83,520.84 L477.93,520.35 L478.03,519.87 L478.13,519.39 L478.23,518.92 L478.33,518.44 L478.43,517.98 L478.53,517.51 L478.63,517.06 L478.73,516.6 L478.82,516.15 L478.92,515.71 L479.02,515.28 L479.11,514.84 L479.21,514.42 L479.3,514 L479.44,513.4 L479.57,512.81 L479.7,512.22 L479.83,511.64 L479.96,511.07 L480.09,510.5 L480.22,509.94 L480.35,509.38 L480.48,508.83 L480.61,508.28 L480.73,507.74 L480.86,507.21 L480.98,506.69 L481.11,506.17 L481.23,505.65 L481.35,505.14 L481.48,504.64 L481.6,504.14 L481.72,503.65 L481.84,503.16 L481.97,502.68 L482.09,502.2 L482.21,501.73 L482.33,501.25 L482.46,500.79 L482.58,500.33 L482.7,499.87 L482.82,499.41 L482.95,498.96 L483.07,498.51 L483.2,498.06 L483.32,497.61 L483.45,497.17 L483.57,496.73 L483.7,496.29 L483.87,495.71 L484.04,495.13 L484.21,494.55 L484.39,493.98 L484.56,493.42 L484.73,492.87 L484.9,492.32 L485.07,491.78 L485.25,491.25 L485.42,490.72 L485.59,490.21 L485.76,489.7 L485.94,489.19 L486.11,488.68 L486.28,488.16 L486.46,487.66 L486.63,487.16 L486.8,486.66 L486.98,486.18 L487.15,485.71 L487.33,485.24 L487.5,484.78 L487.68,484.34 L487.85,483.9 L488.03,483.47 L488.2,483.05 L488.48,482.39 L488.77,481.76 L489.06,481.15 L489.35,480.57 L489.63,480.01 L489.92,479.48 L490.21,478.97 L490.5,478.48 L490.79,478 L491.08,477.54 L491.37,477.1 L491.65,476.68 L491.94,476.27 L492.23,475.87 L492.52,475.48 L492.8,475.1 L493.25,474.53 L493.69,474.01 L494.12,473.57 L494.55,473.23 L494.98,472.93 L495.42,472.66 L495.86,472.42 L496.32,472.19 L496.8,471.99 L497.3,471.79 L497.78,471.62 L498.27,471.47 L498.79,471.34 L499.31,471.22 L499.85,471.12 L500.39,471.04 L500.93,470.98 L501.46,470.95 L501.99,470.94 L502.5,470.96 L503,471 L503.53,471.07 L504.04,471.18 L504.55,471.34 L505.05,471.52 L505.54,471.73 L506.03,471.95 L506.52,472.18 L507.01,472.42 L507.5,472.64 L508,472.85 L508.44,473.02 L508.85,473.17 L509.26,473.31 L509.65,473.45 L510.05,473.6 L510.46,473.75 L510.89,473.93 L511.35,474.14 L511.85,474.38 L512.4,474.66 L513,475 L513.33,475.17 L513.67,475.35 L514.03,475.53 L514.4,475.71 L514.79,475.9 L515.18,476.1 L515.59,476.3 L516.01,476.51 L516.43,476.73 L516.86,476.96 L517.29,477.19 L517.73,477.44 L518.17,477.69 L518.61,477.95 L519.05,478.23 L519.49,478.52 L519.92,478.81 L520.35,479.12 L520.78,479.45 L521.19,479.78 L521.6,480.14 L522,480.5 L522.31,480.78 L522.62,481.08 L522.92,481.4 L523.23,481.74 L523.53,482.1 L523.84,482.47 L524.14,482.85 L524.45,483.25 L524.75,483.65 L525.05,484.06 L525.35,484.48 L525.65,484.9 L525.95,485.32 L526.24,485.75 L526.54,486.17 L526.84,486.59 L527.13,487 L527.42,487.41 L527.72,487.81 L528.01,488.2 L528.3,488.58 L528.59,488.94 L528.88,489.29 L529.16,489.62 L529.45,489.94 L529.73,490.23 L530.02,490.5 L530.3,490.77 L530.76,491.17 L531.23,491.54 L531.69,491.87 L532.15,492.17 L532.6,492.44 L533.06,492.68 L533.51,492.89 L533.96,493.08 L534.4,493.25 L534.84,493.41 L535.28,493.55 L535.71,493.67 L536.14,493.79 L536.56,493.9 L536.98,494.01 L537.39,494.11 L537.8,494.22 L538.36,494.37 L538.89,494.51 L539.4,494.62 L539.89,494.71 L540.38,494.78 L540.86,494.82 L541.35,494.84 L541.84,494.84 L542.35,494.82 L542.87,494.78 L543.42,494.73 L544,494.66 L544.45,494.6 L544.92,494.54 L545.39,494.49 L545.88,494.45 L546.37,494.4 L546.88,494.34 L547.39,494.27 L547.9,494.18 L548.42,494.08 L548.94,493.96 L549.47,493.81 L550,493.65 L550.52,493.45 L551.05,493.23 L551.58,492.98 L552.1,492.7 L552.46,492.47 L552.83,492.22 L553.2,491.96 L553.57,491.69 L553.94,491.4 L554.31,491.09 L554.68,490.78 L555.06,490.45 L555.43,490.11 L555.81,489.77 L556.19,489.41 L556.56,489.05 L556.94,488.67 L557.32,488.29 L557.7,487.91 L558.07,487.52 L558.45,487.12 L558.83,486.73 L559.2,486.33 L559.58,485.92 L559.95,485.52 L560.33,485.11 L560.7,484.71 L561.03,484.35 L561.36,484.01 L561.68,483.65 L562.01,483.3 L562.34,482.93 L562.67,482.56 L562.99,482.19 L563.32,481.81 L563.65,481.43 L563.97,481.04 L564.3,480.65 L564.62,480.26 L564.95,479.86 L565.28,479.46 L565.6,479.06 L565.93,478.66 L566.25,478.26 L566.58,477.86 L566.91,477.46 L567.23,477.06 L567.56,476.67 L567.89,476.27 L568.22,475.87 L568.54,475.48 L568.87,475.09 L569.2,474.74 L569.53,474.4 L569.86,474.07 L570.19,473.73 L570.52,473.39 L570.85,473.05 L571.18,472.71 L571.51,472.37 L571.84,472.03 L572.17,471.69 L572.5,471.35 L572.83,471 L573.16,470.66 L573.49,470.32 L573.83,469.98 L574.16,469.65 L574.49,469.31 L574.82,468.98 L575.15,468.64 L575.48,468.31 L575.81,467.98 L576.14,467.66 L576.48,467.33 L576.81,467.01 L577.14,466.69 L577.47,466.37 L577.8,466.06 L578.15,465.76 L578.5,465.47 L578.86,465.18 L579.23,464.89 L579.6,464.61 L579.97,464.32 L580.35,464.03 L580.73,463.74 L581.1,463.45 L581.48,463.17 L581.86,462.89 L582.23,462.61 L582.6,462.34 L582.96,462.07 L583.32,461.81 L583.67,461.55 L584.02,461.3 L584.35,461.06 L584.68,460.82 L585,460.6 L585.31,460.38 L585.6,460.18 L585.88,459.98 L586.15,459.78 L586.4,459.57 L586.98,459.09 L587.41,458.75 L587.73,458.5 L587.99,458.33 L588.24,458.18 L588.51,458.03 L588.87,457.83 L589.35,457.56 L590,457.17 L590.28,456.99 L590.58,456.81 L590.9,456.6 L591.24,456.39 L591.59,456.16 L591.96,455.93 L592.34,455.68 L592.73,455.43 L593.13,455.17 L593.54,454.91 L593.96,454.65 L594.38,454.38 L594.82,454.11 L595.25,453.83 L595.69,453.54 L596.13,453.25 L596.58,452.97 L597.02,452.7 L597.46,452.43 L597.9,452.17 L598.33,451.92 L598.76,451.68 L599.18,451.46 L599.6,451.25 L600,451.06 L600.48,450.84 L600.96,450.63 L601.45,450.43 L601.93,450.25 L602.42,450.07 L602.92,449.89 L603.41,449.73 L603.9,449.57 L604.39,449.4 L604.88,449.23 L605.37,449.07 L605.85,448.91 L606.34,448.76 L606.81,448.62 L607.29,448.49 L607.76,448.36 L608.22,448.23 L608.68,448.12 L609.13,448.01 L609.57,447.9 L610,447.8 L610.55,447.68 L611.1,447.57 L611.62,447.47 L612.14,447.38 L612.65,447.28 L613.15,447.2 L613.64,447.12 L614.12,447.06 L614.61,447.01 L615.09,446.97 L615.57,446.94 L616.05,446.91 L616.53,446.9 L617.01,446.9 L617.5,446.9 L618,446.91 L618.5,446.93 L619,446.96 L619.5,446.99 L620,447.04 L620.5,447.09 L621,447.15 L621.5,447.22 L622,447.3 L622.5,447.39 L623,447.5 L623.5,447.61 L624,447.75 L624.5,447.89 L625,448.06 L625.5,448.24 L626,448.43 L626.44,448.62 L626.89,448.81 L627.33,449.02 L627.78,449.23 L628.22,449.46 L628.67,449.7 L629.11,449.94 L629.56,450.2 L630,450.47 L630.44,450.75 L630.89,451.05 L631.33,451.35 L631.78,451.67 L632.22,452 L632.67,452.34 L633.11,452.7 L633.56,453.07 L634,453.45 L634.33,453.75 L634.67,454.05 L635.01,454.35 L635.34,454.66 L635.68,454.98 L636.02,455.31 L636.36,455.64 L636.7,455.97 L637.04,456.32 L637.38,456.67 L637.72,457.03 L638.06,457.4 L638.4,457.77 L638.74,458.15 L639.07,458.54 L639.41,458.94 L639.74,459.35 L640.07,459.77 L640.4,460.19 L640.72,460.63 L641.05,461.07 L641.37,461.53 L641.69,461.99 L642,462.47 L642.24,462.84 L642.48,463.23 L642.72,463.61 L642.96,464.01 L643.2,464.41 L643.44,464.82 L643.68,465.24 L643.91,465.66 L644.15,466.08 L644.38,466.51 L644.62,466.95 L644.85,467.39 L645.08,467.84 L645.31,468.29 L645.54,468.75 L645.77,469.21 L646,469.67 L646.22,470.14 L646.45,470.61 L646.67,471.09 L646.89,471.56 L647.11,472.05 L647.32,472.53 L647.54,473.02 L647.75,473.51 L647.97,474 L648.18,474.49 L648.39,474.99 L648.59,475.49 L648.8,475.98 L649,476.48 L649.18,476.92 L649.35,477.35 L649.51,477.78 L649.67,478.2 L649.83,478.61 L649.99,479.02 L650.14,479.43 L650.29,479.83 L650.43,480.24 L650.58,480.64 L650.72,481.04 L650.86,481.45 L651,481.86 L651.14,482.27 L651.27,482.69 L651.41,483.11 L651.55,483.54 L651.69,483.98 L651.83,484.42 L651.97,484.88 L652.11,485.34 L652.26,485.82 L652.41,486.31 L652.56,486.81 L652.71,487.33 L652.87,487.86 L653.03,488.41 L653.19,488.98 L653.36,489.56 L653.54,490.16 L653.72,490.79 L653.9,491.43 L654.1,492.1 L654.29,492.78 L654.5,493.5 L654.61,493.87 L654.72,494.25 L654.83,494.63 L654.94,495.03 L655.05,495.43 L655.17,495.84 L655.29,496.25 L655.41,496.67 L655.53,497.1 L655.65,497.54 L655.77,497.98 L655.9,498.42 L656.02,498.87 L656.15,499.33 L656.28,499.79 L656.41,500.26 L656.54,500.73 L656.67,501.21 L656.81,501.69 L656.94,502.17 L657.08,502.66 L657.21,503.15 L657.35,503.65 L657.49,504.15 L657.62,504.66 L657.76,505.16 L657.9,505.67 L658.04,506.18 L658.18,506.7 L658.32,507.22 L658.47,507.74 L658.61,508.26 L658.75,508.78 L658.89,509.31 L659.03,509.83 L659.18,510.36 L659.32,510.89 L659.46,511.42 L659.6,511.95 L659.75,512.48 L659.89,513.01 L660.03,513.54 L660.17,514.07 L660.31,514.6 L660.46,515.13 L660.6,515.66 L660.74,516.19 L660.88,516.72 L661.02,517.24 L661.15,517.77 L661.29,518.29 L661.43,518.81 L661.57,519.33 L661.7,519.85 L661.84,520.37 L661.97,520.88 L662.1,521.39 L662.23,521.89 L662.37,522.4 L662.49,522.9 L662.62,523.39 L662.75,523.89 L662.88,524.38 L663,524.86 L663.12,525.34 L663.24,525.82 L663.36,526.29 L663.48,526.76 L663.6,527.22 L663.73,527.74 L663.87,528.27 L664,528.79 L664.13,529.31 L664.26,529.83 L664.39,530.35 L664.52,530.86 L664.65,531.37 L664.78,531.88 L664.91,532.39 L665.04,532.9 L665.17,533.4 L665.29,533.91 L665.42,534.41 L665.55,534.91 L665.67,535.41 L665.8,535.91 L665.92,536.41 L666.05,536.9 L666.17,537.4 L666.29,537.89 L666.42,538.38 L666.54,538.87 L666.66,539.36 L666.78,539.85 L666.9,540.34 L667.02,540.83 L667.13,541.32 L667.25,541.8 L667.37,542.29 L667.48,542.77 L667.6,543.26 L667.71,543.74 L667.83,544.23 L667.94,544.71 L668.05,545.19 L668.17,545.67 L668.28,546.16 L668.39,546.64 L668.5,547.12 L668.6,547.6 L668.71,548.09 L668.82,548.57 L668.93,549.05 L669.03,549.53 L669.13,550.02 L669.24,550.5 L669.34,550.98 L669.44,551.47 L669.54,551.95 L669.64,552.44 L669.74,552.92 L669.84,553.41 L669.94,553.89 L670.03,554.38 L670.13,554.87 L670.22,555.36 L670.32,555.85 L670.41,556.34 L670.5,556.83 L670.59,557.34 L670.68,557.85 L670.77,558.37 L670.86,558.89 L670.95,559.42 L671.04,559.96 L671.13,560.5 L671.22,561.05 L671.3,561.6 L671.39,562.15 L671.47,562.71 L671.56,563.28 L671.64,563.84 L671.72,564.41 L671.81,564.98 L671.89,565.55 L671.97,566.12 L672.05,566.69 L672.13,567.27 L672.2,567.84 L672.28,568.42 L672.36,568.99 L672.43,569.56 L672.51,570.14 L672.58,570.71 L672.65,571.27 L672.72,571.84 L672.8,572.4 L672.87,572.96 L672.93,573.52 L673,574.07 L673.07,574.61 L673.14,575.16 L673.2,575.69 L673.27,576.23 L673.33,576.75 L673.39,577.27 L673.45,577.79 L673.51,578.29 L673.57,578.79 L673.63,579.28 L673.69,579.76 L673.75,580.24 L673.8,580.7 L673.85,581.16 L673.91,581.6 L673.96,582.04 L674.01,582.47 L674.06,582.88 L674.11,583.28 L674.16,583.67 L674.2,584.05 L674.25,584.42 L674.29,584.78 L674.34,585.12 L674.38,585.44 L674.42,585.76 L674.46,586.06 L674.5,586.34 L674.79,588.44 L674.94,589.48 L675,589.79 L675,589.69 L674.99,589.5 L675,589.54 L675,590.51 L674.99,590.47 L675,590.66 L675,590.76 L674.94,590.45 L674.79,589.41 L674.5,587.32 L674.46,587.03 L674.42,586.73 L674.38,586.42 L674.34,586.09 L674.29,585.75 L674.25,585.4 L674.2,585.03 L674.16,584.65 L674.11,584.26 L674.06,583.86 L674.01,583.44 L673.96,583.02 L673.91,582.58 L673.85,582.14 L673.8,581.68 L673.75,581.22 L673.69,580.74 L673.63,580.26 L673.57,579.77 L673.51,579.27 L673.45,578.77 L673.39,578.25 L673.33,577.73 L673.27,577.21 L673.2,576.68 L673.14,576.14 L673.07,575.6 L673,575.05 L672.93,574.5 L672.87,573.95 L672.8,573.39 L672.72,572.82 L672.65,572.26 L672.58,571.69 L672.51,571.12 L672.43,570.55 L672.36,569.98 L672.28,569.41 L672.2,568.83 L672.13,568.26 L672.05,567.68 L671.97,567.11 L671.89,566.54 L671.81,565.97 L671.72,565.4 L671.64,564.83 L671.56,564.27 L671.47,563.71 L671.39,563.15 L671.3,562.6 L671.22,562.04 L671.13,561.5 L671.04,560.96 L670.95,560.42 L670.86,559.89 L670.77,559.37 L670.68,558.85 L670.59,558.34 L670.5,557.83 L670.41,557.34 L670.32,556.85 L670.22,556.36 L670.13,555.87 L670.03,555.39 L669.94,554.9 L669.84,554.41 L669.74,553.93 L669.64,553.44 L669.54,552.96 L669.44,552.47 L669.34,551.99 L669.24,551.51 L669.13,551.03 L669.03,550.54 L668.93,550.06 L668.82,549.58 L668.71,549.1 L668.6,548.62 L668.5,548.14 L668.39,547.65 L668.28,547.17 L668.17,546.69 L668.05,546.21 L667.94,545.73 L667.83,545.24 L667.71,544.76 L667.6,544.28 L667.48,543.8 L667.37,543.31 L667.25,542.83 L667.13,542.34 L667.02,541.85 L666.9,541.37 L666.78,540.88 L666.66,540.39 L666.54,539.9 L666.42,539.41 L666.29,538.92 L666.17,538.43 L666.05,537.93 L665.92,537.44 L665.8,536.94 L665.67,536.45 L665.55,535.95 L665.42,535.45 L665.29,534.95 L665.17,534.44 L665.04,533.94 L664.91,533.43 L664.78,532.92 L664.65,532.41 L664.52,531.9 L664.39,531.39 L664.26,530.87 L664.13,530.36 L664,529.84 L663.87,529.31 L663.73,528.79 L663.6,528.27 L663.48,527.8 L663.36,527.34 L663.24,526.87 L663.12,526.39 L663,525.91 L662.88,525.43 L662.75,524.94 L662.62,524.45 L662.49,523.95 L662.37,523.45 L662.23,522.95 L662.1,522.45 L661.97,521.94 L661.84,521.43 L661.7,520.91 L661.57,520.4 L661.43,519.88 L661.29,519.36 L661.15,518.83 L661.02,518.31 L660.88,517.79 L660.74,517.26 L660.6,516.73 L660.46,516.2 L660.31,515.67 L660.17,515.14 L660.03,514.61 L659.89,514.08 L659.75,513.55 L659.6,513.02 L659.46,512.49 L659.32,511.97 L659.18,511.44 L659.03,510.91 L658.89,510.39 L658.75,509.86 L658.61,509.34 L658.47,508.82 L658.32,508.3 L658.18,507.78 L658.04,507.27 L657.9,506.76 L657.76,506.25 L657.62,505.74 L657.49,505.24 L657.35,504.74 L657.21,504.25 L657.08,503.75 L656.94,503.27 L656.81,502.78 L656.67,502.3 L656.54,501.83 L656.41,501.35 L656.28,500.89 L656.15,500.43 L656.02,499.97 L655.9,499.52 L655.77,499.08 L655.65,498.64 L655.53,498.2 L655.41,497.78 L655.29,497.36 L655.17,496.94 L655.05,496.54 L654.94,496.14 L654.83,495.74 L654.72,495.36 L654.61,494.98 L654.5,494.61 L654.29,493.9 L654.1,493.21 L653.9,492.54 L653.72,491.9 L653.54,491.28 L653.36,490.68 L653.19,490.1 L653.03,489.53 L652.87,488.98 L652.71,488.45 L652.56,487.94 L652.41,487.44 L652.26,486.95 L652.11,486.47 L651.97,486.01 L651.83,485.55 L651.69,485.11 L651.55,484.67 L651.41,484.24 L651.27,483.82 L651.14,483.4 L651,482.99 L650.86,482.58 L650.72,482.18 L650.58,481.78 L650.43,481.37 L650.29,480.97 L650.14,480.57 L649.99,480.16 L649.83,479.75 L649.67,479.34 L649.51,478.92 L649.35,478.5 L649.18,478.07 L649,477.63 L648.8,477.13 L648.59,476.64 L648.39,476.14 L648.18,475.65 L647.97,475.15 L647.75,474.66 L647.54,474.18 L647.32,473.69 L647.11,473.21 L646.89,472.73 L646.67,472.25 L646.45,471.78 L646.22,471.31 L646,470.84 L645.77,470.38 L645.54,469.92 L645.31,469.46 L645.08,469.01 L644.85,468.57 L644.62,468.13 L644.38,467.69 L644.15,467.26 L643.91,466.84 L643.68,466.42 L643.44,466.01 L643.2,465.6 L642.96,465.2 L642.72,464.81 L642.48,464.42 L642.24,464.04 L642,463.66 L641.69,463.19 L641.37,462.73 L641.05,462.28 L640.72,461.83 L640.4,461.4 L640.07,460.98 L639.74,460.56 L639.41,460.16 L639.07,459.76 L638.74,459.37 L638.4,458.99 L638.06,458.62 L637.72,458.25 L637.38,457.9 L637.04,457.55 L636.7,457.21 L636.36,456.87 L636.02,456.54 L635.68,456.22 L635.34,455.9 L635.01,455.59 L634.67,455.29 L634.33,454.99 L634,454.7 L633.56,454.32 L633.11,453.95 L632.67,453.6 L632.22,453.26 L631.78,452.93 L631.33,452.62 L630.89,452.32 L630.44,452.03 L630,451.75 L629.56,451.48 L629.11,451.23 L628.67,450.98 L628.22,450.75 L627.78,450.53 L627.33,450.31 L626.89,450.11 L626.44,449.92 L626,449.74 L625.5,449.54 L625,449.37 L624.5,449.21 L624,449.07 L623.5,448.94 L623,448.82 L622.5,448.72 L622,448.63 L621.5,448.55 L621,448.48 L620.5,448.43 L620,448.38 L619.5,448.34 L619,448.31 L618.5,448.29 L618,448.27 L617.5,448.26 L617.01,448.26 L616.53,448.27 L616.05,448.29 L615.57,448.31 L615.09,448.35 L614.61,448.39 L614.12,448.45 L613.64,448.51 L613.15,448.59 L612.65,448.68 L612.14,448.78 L611.62,448.95 L611.1,449.15 L610.55,449.37 L610,449.6 L609.57,449.79 L609.13,449.98 L608.68,450.18 L608.22,450.39 L607.76,450.61 L607.29,450.83 L606.81,451.06 L606.34,451.3 L605.85,451.54 L605.37,451.8 L604.88,452.06 L604.39,452.32 L603.9,452.61 L603.41,452.91 L602.92,453.23 L602.42,453.56 L601.93,453.89 L601.45,454.23 L600.96,454.58 L600.48,454.94 L600,455.3 L599.6,455.62 L599.18,455.96 L598.76,456.31 L598.33,456.68 L597.9,457.07 L597.46,457.46 L597.02,457.87 L596.58,458.28 L596.13,458.7 L595.69,459.13 L595.25,459.55 L594.82,459.99 L594.38,460.43 L593.96,460.88 L593.54,461.31 L593.13,461.74 L592.73,462.17 L592.34,462.58 L591.96,462.98 L591.59,463.37 L591.24,463.74 L590.9,464.09 L590.58,464.42 L590.28,464.73 L590,465.02 L589.35,465.68 L588.87,466.15 L588.51,466.49 L588.24,466.76 L587.99,467.01 L587.73,467.29 L587.41,467.66 L586.98,468.18 L586.4,468.9 L586.15,469.21 L585.88,469.53 L585.6,469.85 L585.31,470.18 L585,470.52 L584.68,470.88 L584.35,471.26 L584.02,471.64 L583.67,472.04 L583.32,472.44 L582.96,472.86 L582.6,473.28 L582.23,473.71 L581.86,474.15 L581.48,474.59 L581.1,475.03 L580.73,475.48 L580.35,475.93 L579.97,476.38 L579.6,476.83 L579.23,477.27 L578.86,477.72 L578.5,478.16 L578.15,478.59 L577.8,479.02 L577.47,479.42 L577.14,479.83 L576.81,480.24 L576.48,480.65 L576.14,481.07 L575.81,481.49 L575.48,481.91 L575.15,482.33 L574.82,482.76 L574.49,483.19 L574.16,483.61 L573.83,484.04 L573.49,484.48 L573.16,484.91 L572.83,485.34 L572.5,485.77 L572.17,486.21 L571.84,486.64 L571.51,487.07 L571.18,487.5 L570.85,487.94 L570.52,488.37 L570.19,488.8 L569.86,489.23 L569.53,489.66 L569.2,490.08 L568.87,490.49 L568.54,490.89 L568.22,491.28 L567.89,491.68 L567.56,492.08 L567.23,492.49 L566.91,492.89 L566.58,493.29 L566.25,493.7 L565.93,494.1 L565.6,494.51 L565.28,494.91 L564.95,495.31 L564.62,495.71 L564.3,496.11 L563.97,496.5 L563.65,496.89 L563.32,497.28 L562.99,497.66 L562.67,498.04 L562.34,498.42 L562.01,498.78 L561.68,499.15 L561.36,499.5 L561.03,499.85 L560.7,500.28 L560.33,500.78 L559.95,501.27 L559.58,501.77 L559.2,502.26 L558.83,502.76 L558.45,503.25 L558.07,503.73 L557.7,504.22 L557.32,504.69 L556.94,505.17 L556.56,505.63 L556.19,506.09 L555.81,506.54 L555.43,506.97 L555.06,507.4 L554.68,507.82 L554.31,508.23 L553.94,508.62 L553.57,509 L553.2,509.37 L552.83,509.72 L552.46,510.05 L552.1,510.37 L551.58,510.8 L551.05,511.2 L550.52,511.58 L550,511.92 L549.47,512.24 L548.94,512.53 L548.42,512.8 L547.9,513.05 L547.39,513.29 L546.88,513.5 L546.37,513.71 L545.88,513.9 L545.39,514.08 L544.92,514.21 L544.45,514.15 L544,514.09 L543.42,514 L542.87,513.91 L542.35,513.8 L541.84,513.68 L541.35,513.55 L540.86,513.39 L540.38,513.22 L539.89,513.02 L539.4,512.8 L538.89,512.55 L538.36,512.27 L537.8,511.96 L537.39,511.74 L536.98,511.52 L536.56,511.29 L536.14,511.06 L535.71,510.82 L535.28,510.57 L534.84,510.3 L534.4,510.02 L533.96,509.72 L533.51,509.4 L533.06,509.05 L532.6,508.68 L532.15,508.29 L531.69,507.86 L531.23,507.39 L530.76,506.89 L530.3,506.36 L530.02,506 L529.73,505.6 L529.45,505.16 L529.16,504.71 L528.88,504.23 L528.59,503.74 L528.3,503.23 L528.01,502.71 L527.72,502.17 L527.42,501.62 L527.13,501.07 L526.84,500.51 L526.54,499.94 L526.24,499.37 L525.95,498.8 L525.65,498.23 L525.35,497.65 L525.05,497.09 L524.75,496.53 L524.45,495.97 L524.14,495.43 L523.84,494.89 L523.53,494.37 L523.23,493.86 L522.92,493.37 L522.62,492.89 L522.31,492.43 L522,492 L521.6,491.5 L521.19,491.02 L520.78,490.54 L520.35,490.08 L519.92,489.62 L519.49,489.18 L519.05,488.75 L518.61,488.32 L518.17,487.91 L517.73,487.51 L517.29,487.12 L516.86,486.74 L516.43,486.37 L516.01,486.01 L515.59,485.67 L515.18,485.33 L514.79,485 L514.4,484.68 L514.03,484.37 L513.67,484.07 L513.33,483.78 L513,483.5 L512.4,483.03 L511.85,482.63 L511.35,482.27 L510.89,481.97 L510.46,481.69 L510.05,481.45 L509.65,481.22 L509.26,480.99 L508.85,480.76 L508.44,480.52 L508,480.25 L507.5,479.93 L507.01,479.6 L506.52,479.26 L506.03,478.92 L505.54,478.59 L505.05,478.27 L504.55,477.98 L504.04,477.71 L503.53,477.48 L503,477.3 L502.5,477.21 L501.99,477.15 L501.46,477.11 L500.93,477.1 L500.39,477.11 L499.85,477.14 L499.31,477.19 L498.79,477.26 L498.27,477.35 L497.78,477.46 L497.3,477.58 L496.8,477.73 L496.32,477.9 L495.86,478.08 L495.42,478.29 L494.98,478.52 L494.55,478.78 L494.12,479.08 L493.69,479.37 L493.25,479.7 L492.8,480.07 L492.52,480.33 L492.23,480.59 L491.94,480.87 L491.65,481.15 L491.37,481.45 L491.08,481.77 L490.79,482.1 L490.5,482.44 L490.21,482.81 L489.92,483.2 L489.63,483.6 L489.35,484.04 L489.06,484.49 L488.77,484.97 L488.48,485.48 L488.2,486.01 L488.03,486.36 L487.85,486.71 L487.68,487.07 L487.5,487.44 L487.33,487.82 L487.15,488.21 L486.98,488.61 L486.8,489.02 L486.63,489.43 L486.46,489.86 L486.28,490.29 L486.11,490.73 L485.94,491.18 L485.76,491.66 L485.59,492.14 L485.42,492.63 L485.25,493.12 L485.07,493.63 L484.9,494.14 L484.73,494.66 L484.56,495.18 L484.39,495.72 L484.21,496.25 L484.04,496.8 L483.87,497.35 L483.7,497.91 L483.57,498.33 L483.45,498.75 L483.32,499.17 L483.2,499.59 L483.07,500.02 L482.95,500.45 L482.82,500.88 L482.7,501.32 L482.58,501.75 L482.46,502.2 L482.33,502.64 L482.21,503.09 L482.09,503.55 L481.97,504.01 L481.84,504.47 L481.72,504.94 L481.6,505.41 L481.48,505.89 L481.35,506.37 L481.23,506.86 L481.11,507.35 L480.98,507.85 L480.86,508.35 L480.73,508.86 L480.61,509.38 L480.48,509.91 L480.35,510.44 L480.22,510.97 L480.09,511.52 L479.96,512.07 L479.83,512.64 L479.7,513.22 L479.57,513.81 L479.44,514.4 L479.3,515 L479.21,515.42 L479.11,515.84 L479.02,516.28 L478.92,516.71 L478.82,517.15 L478.73,517.6 L478.63,518.06 L478.53,518.51 L478.43,518.98 L478.33,519.44 L478.23,519.92 L478.13,520.39 L478.03,520.87 L477.93,521.35 L477.83,521.84 L477.72,522.33 L477.62,522.83 L477.52,523.32 L477.42,523.82 L477.31,524.32 L477.21,524.83 L477.11,525.33 L477,525.84 L476.9,526.35 L476.8,526.86 L476.69,527.38 L476.59,527.89 L476.48,528.4 L476.38,528.92 L476.28,529.43 L476.17,529.95 L476.07,530.47 L475.97,530.98 L475.87,531.5 L475.76,532.01 L475.66,532.52 L475.56,533.04 L475.46,533.55 L475.36,534.06 L475.26,534.57 L475.16,535.08 L475.06,535.58 L474.96,536.08 L474.86,536.58 L474.77,537.08 L474.67,537.58 L474.58,538.07 L474.48,538.56 L474.39,539.04 L474.29,539.52 L474.2,540 L474.1,540.52 L474,541.03 L473.9,541.54 L473.8,542.05 L473.71,542.56 L473.61,543.07 L473.51,543.58 L473.41,544.09 L473.32,544.59 L473.22,545.1 L473.13,545.6 L473.03,546.11 L472.94,546.61 L472.84,547.11 L472.75,547.61 L472.65,548.11 L472.56,548.61 L472.47,549.11 L472.38,549.61 L472.28,550.11 L472.19,550.6 L472.1,551.1 L472.01,551.6 L471.92,552.09 L471.83,552.59 L471.74,553.08 L471.65,553.58 L471.56,554.07 L471.47,554.57 L471.38,555.06 L471.29,555.56 L471.2,556.05 L471.11,556.55 L471.02,557.04 L470.94,557.54 L470.85,558.03 L470.76,558.53 L470.67,559.02 L470.59,559.52 L470.5,560.01 L470.41,560.51 L470.33,561.01 L470.24,561.5 L470.16,562 L470.07,562.5 L469.99,563 L469.9,563.5 L469.81,564 L469.73,564.52 L469.64,565.04 L469.55,565.57 L469.47,566.1 L469.38,566.64 L469.29,567.19 L469.2,567.74 L469.11,568.3 L469.03,568.86 L468.94,569.42 L468.85,569.99 L468.76,570.55 L468.67,571.12 L468.58,571.69 L468.49,572.26 L468.4,572.84 L468.32,573.41 L468.23,573.97 L468.14,574.54 L468.06,575.1 L467.97,575.67 L467.89,576.22 L467.8,576.78 L467.72,577.32 L467.64,577.87 L467.55,578.4 L467.47,578.93 L467.39,579.46 L467.31,579.97 L467.24,580.48 L467.16,580.98 L467.09,581.47 L467.01,581.95 L466.94,582.42 L466.87,582.87 L466.8,583.32 L466.73,583.75 L466.66,584.17 L466.6,584.58 L466.54,584.97 L466.48,585.35 L466.42,585.71 L466.36,586.06 L466.3,586.39 L466.25,586.7 L466.2,587 L465.91,588.58 L465.69,589.56 L465.53,590.08 L465.42,590.29 L465.33,590.34 L465.27,590.36 L465.2,590.5 Z" fill="#f3b9ba"/>
<path d="M466.3,590 C466.4,589.52 465.95,592.6 466.9,587.1 C467.85,581.6 470.1,568 472,557 C473.9,546 476.35,532.42 478.3,521.1 C480.25,509.78 481.67,497.27 483.7,489.1 C485.73,480.93 487.67,477.78 490.5,472.1 C493.33,466.42 497.28,459.13 500.7,455 C504.12,450.87 506.6,449.18 511,447.3 C515.4,445.42 521.57,444.5 527.1,443.7 C532.63,442.9 535.63,442.73 544.2,442.5 C552.77,442.27 568.52,442.28 578.5,442.3 C588.48,442.32 598.18,442.45 604.1,442.6 C610.02,442.75 611.35,442.88 614,443.2 C616.65,443.52 617.83,443.78 620,444.5 C622.17,445.22 625.17,446.42 627,447.5 C628.83,448.58 629.83,449.88 631,451 C632.17,452.12 632.17,452.2 634,454.2 C635.83,456.2 639.5,459.2 642,463 C644.5,466.8 646.92,471.83 649,477 C651.08,482.17 652.07,485.55 654.5,494 C656.93,502.45 660.93,517.15 663.6,527.7 C666.27,538.25 668.68,547.45 670.5,557.3 C672.32,567.15 673.75,581.35 674.5,586.8 C675.25,592.25 674.92,589.47 675,590" fill="none" stroke="#000" stroke-width="1.4" stroke-dasharray="1.3,1.84"/>
<path d="M465.2,590 C465.37,589.42 465.42,591 466.2,586.5 C466.98,582 468.57,570.83 469.9,563 C471.23,555.17 472.63,547.58 474.2,539.5 C475.77,531.42 477.53,522.9 479.3,514.5 C481.07,506.1 482.75,495.42 484.8,489.1 C486.85,482.78 489.33,480 491.6,476.6 C493.87,473.2 496.32,470.4 498.4,468.7 C500.48,467 502.17,466.75 504.1,466.4 C506.03,466.05 507.58,465.82 510,466.6 C512.42,467.38 515.75,469.5 518.6,471.1 C521.45,472.7 524.37,474.75 527.1,476.2 C529.83,477.65 531.85,478.75 535,479.8 C538.15,480.85 542.43,482.5 546,482.5 C549.57,482.5 552.53,481.38 556.4,479.8 C560.27,478.22 564.92,475.7 569.2,473 C573.48,470.3 578.63,466.27 582.1,463.6 C585.57,460.93 587.02,459.1 590,457 C592.98,454.9 596.67,452.62 600,451 C603.33,449.38 607,447.92 610,447.3 C613,446.68 615.33,447.02 618,447.3 C620.67,447.58 623.33,447.88 626,449 C628.67,450.12 631.33,451.67 634,454 C636.67,456.33 639.5,459.17 642,463 C644.5,466.83 646.92,471.83 649,477 C651.08,482.17 652.07,485.55 654.5,494 C656.93,502.45 660.93,517.15 663.6,527.7 C666.27,538.25 668.68,547.45 670.5,557.3 C672.32,567.15 673.75,581.35 674.5,586.8 C675.25,592.25 674.92,589.47 675,590" fill="none" stroke="#1f77b4" stroke-width="1.5" stroke-dasharray="4.1,2.2"/>
<path d="M465.2,590 C465.37,589.42 465.42,591 466.2,586.5 C466.98,582 468.57,570.83 469.9,563 C471.23,555.17 472.63,547.58 474.2,539.5 C475.77,531.42 477.72,521.57 479.3,514.5 C480.88,507.43 482.22,502.08 483.7,497.1 C485.18,492.12 486.68,487.82 488.2,484.6 C489.72,481.38 491.28,479.42 492.8,477.8 C494.32,476.18 495.6,475.48 497.3,474.9 C499,474.32 501.22,474.03 503,474.3 C504.78,474.57 506.33,475.72 508,476.5 C509.67,477.28 510.67,477.5 513,479 C515.33,480.5 519.12,482.45 522,485.5 C524.88,488.55 527.67,494.63 530.3,497.3 C532.93,499.97 535.52,500.67 537.8,501.5 C540.08,502.33 541.62,502.48 544,502.3 C546.38,502.12 549.32,502 552.1,500.4 C554.88,498.8 557.85,495.7 560.7,492.7 C563.55,489.7 566.35,485.83 569.2,482.4 C572.05,478.97 574.93,475.33 577.8,472.1 C580.67,468.87 584.37,465.02 586.4,463 C588.43,460.98 587.73,461.75 590,460 C592.27,458.25 596.67,454.42 600,452.5 C603.33,450.58 607,449.33 610,448.5 C613,447.67 615.33,447.42 618,447.5 C620.67,447.58 623.33,447.92 626,449 C628.67,450.08 631.33,451.67 634,454 C636.67,456.33 639.5,459.17 642,463 C644.5,466.83 646.92,471.83 649,477 C651.08,482.17 652.07,485.55 654.5,494 C656.93,502.45 660.93,517.15 663.6,527.7 C666.27,538.25 668.68,547.45 670.5,557.3 C672.32,567.15 673.75,581.35 674.5,586.8 C675.25,592.25 674.92,589.47 675,590" fill="none" stroke="#d62728" stroke-width="1.5"/>
<circle cx="469.7" cy="578.5" r="2.3" fill="#000"/>
<circle cx="478.3" cy="533.2" r="2.3" fill="#000"/>
<circle cx="487.4" cy="508.1" r="2.3" fill="#000"/>
<circle cx="495.8" cy="492.2" r="2.3" fill="#000"/>
<circle cx="504.5" cy="483.1" r="2.3" fill="#000"/>
<circle cx="513.2" cy="478" r="2.3" fill="#000"/>
<circle cx="522" cy="485" r="2.3" fill="#000"/>
<circle cx="530.2" cy="499.7" r="2.3" fill="#000"/>
<circle cx="539.1" cy="507.9" r="2.3" fill="#000"/>
<circle cx="548" cy="507.5" r="2.3" fill="#000"/>
<circle cx="556.6" cy="499.8" r="2.3" fill="#000"/>
<circle cx="565.1" cy="486.1" r="2.3" fill="#000"/>
<circle cx="573.7" cy="474.8" r="2.3" fill="#000"/>
<circle cx="582.2" cy="465.9" r="2.3" fill="#000"/>
<circle cx="591" cy="458.2" r="2.3" fill="#000"/>
<circle cx="599.5" cy="452.3" r="2.3" fill="#000"/>
<circle cx="608.1" cy="447.6" r="2.3" fill="#000"/>
<circle cx="616.8" cy="443.7" r="2.3" fill="#000"/>
<circle cx="625.7" cy="444.9" r="2.3" fill="#000"/>
<circle cx="634.1" cy="453.9" r="2.3" fill="#000"/>
<circle cx="642.8" cy="472.1" r="2.3" fill="#000"/>
<circle cx="651.4" cy="501.2" r="2.3" fill="#000"/>
<circle cx="660.1" cy="535.3" r="2.3" fill="#000"/>
<circle cx="668.7" cy="575.1" r="2.3" fill="#000"/>
</g>
<g clip-path="url(#crd)">
<path d="M411,640 L411.43,639.04 L411.85,638.08 L412.27,637.12 L412.7,636.17 L413.12,635.21 L413.55,634.25 L413.98,633.29 L414.4,632.33 L414.83,631.38 L415.25,630.42 L415.68,629.46 L416.1,628.5 L417.12,628.22 L418.14,627.94 L419.15,627.65 L420.17,627.37 L421.19,627.09 L422.21,626.81 L423.23,626.53 L424.25,626.25 L425.26,625.96 L426.28,625.68 L427.3,625.4 L428.48,625.48 L429.66,625.56 L430.84,625.64 L432.02,625.72 L433.2,625.8 L433.54,624.85 L433.87,623.89 L434.21,622.94 L434.55,621.98 L434.89,621.03 L435.22,620.07 L435.56,619.12 L435.9,618.17 L436.23,617.21 L436.57,616.26 L436.91,615.3 L437.25,614.35 L437.58,613.39 L437.92,612.44 L438.26,611.49 L438.59,610.53 L438.93,609.58 L439.27,608.62 L439.61,607.67 L439.94,606.71 L440.28,605.76 L440.62,604.81 L440.95,603.85 L441.29,602.9 L441.63,601.94 L441.97,600.99 L442.3,600.03 L442.64,599.08 L442.98,598.13 L443.31,597.17 L443.65,596.22 L443.99,595.26 L444.33,594.31 L444.66,593.35 L445,592.4 L445.27,593.4 L445.54,594.39 L445.8,595.39 L446.07,596.38 L446.34,597.38 L446.61,598.37 L446.88,599.37 L447.15,600.36 L447.41,601.36 L447.68,602.35 L447.95,603.35 L448.22,604.35 L448.49,605.34 L448.75,606.34 L449.02,607.33 L449.29,608.33 L449.56,609.32 L449.83,610.32 L450.1,611.31 L450.36,612.31 L450.63,613.3 L450.9,614.3 L451.43,613.42 L451.95,612.54 L452.48,611.65 L453.01,610.77 L453.54,609.89 L454.06,609.01 L454.59,608.13 L455.12,607.25 L455.65,606.36 L456.17,605.48 L456.7,604.6 L457.23,603.72 L457.75,602.84 L458.28,601.95 L458.81,601.07 L459.34,600.19 L459.86,599.31 L460.39,598.43 L460.92,597.55 L461.45,596.66 L461.97,595.78 L462.5,594.9 L462.69,595.91 L462.89,596.91 L463.08,597.92 L463.27,598.93 L463.47,599.93 L463.66,600.94 L463.85,601.95 L464.05,602.95 L464.24,603.96 L464.43,604.97 L464.63,605.97 L464.82,606.98 L465.01,607.99 L465.21,608.98 L465.4,609.98 L465.59,610.98 L465.79,611.97 L465.98,612.97 L466.17,613.97 L466.37,614.96 L466.56,615.96 L466.75,616.96 L466.95,617.96 L467.14,618.95 L467.33,619.95 L467.53,620.95 L467.72,621.94 L467.91,622.94 L468.11,623.94 L468.3,624.94 L468.89,624.1 L469.48,623.26 L470.07,622.42 L470.66,621.58 L471.25,620.74 L471.84,619.9 L472.43,619.06 L473.02,618.22 L473.61,617.38 L474.19,616.54 L474.78,615.7 L475.37,614.86 L475.96,614.01 L476.55,613.18 L477.14,612.34 L477.73,611.5 L478.32,610.65 L478.91,609.82 L479.5,608.98 L480.25,609.66 L481,610.35 L481.75,611.04 L482.5,611.73 L483.25,612.41 L484,613.1 L484.75,613.79 L485.5,614.48 L486.58,614.37 L487.66,614.26 L488.75,614.15 L489.83,614.04 L490.91,613.94 L491.99,613.83 L493.07,613.72 L494.15,613.61 L495.24,613.5 L496.32,613.39 L497.4,613.15 L498.05,613.8 L498.7,614.45 L499.35,615.1 L500,615.75 L500.65,616.4 L501.3,617.06 L501.95,617.71 L502.6,618.36 L503.35,618.8 L504.1,619.25 L504.85,619.69 L505.6,620.14 L506.35,620.58 L507.1,621.03 L507.85,621.47 L508.6,621.91 L509.35,622.36 L510.1,622.8 L510.85,623.25 L511.6,623.69 L512.35,624.14 L513.1,624.58 L513.85,625.03 L514.6,625.78 L515.68,625.65 L516.76,625.52 L517.84,625.38 L518.92,625.25 L520,625.12 L521,625.08 L522,625.04 L523,625 L524,624.96 L525,624.92 L526,624.75 L527,624.58 L528,624.4 L529,624.23 L530,624.05 L531,623.88 L532,623.7 L532.75,623 L533.5,622.3 L534.25,621.6 L535,620.9 L535.75,620.2 L536.5,619.5 L537.25,618.8 L538,618.1 L539,618.12 L540,618.15 L541,618.17 L542,618.2 L543,618.23 L544,618.25 L545,618.27 L546,618.3 L547,618.33 L548,618.35 L549,618.38 L550,618.4 L550.84,619.27 L551.69,620.14 L552.53,621.02 L553.37,621.89 L554.21,622.76 L555.06,623.63 L555.9,624.5 L556.93,624.68 L557.96,624.87 L558.99,625.05 L560.02,625.23 L561.05,625.41 L562.08,625.59 L563.11,625.77 L564.14,625.95 L565.17,626.13 L566.2,626.31 L567.06,627.15 L567.91,628 L568.77,628.85 L569.63,629.69 L570.49,630.54 L571.34,631.38 L572.2,632.23 L573.18,631.96 L574.17,631.69 L575.15,631.42 L576.14,631.14 L577.12,630.87 L578.11,630.6 L579.09,630.33 L580.08,630.06 L581.06,629.79 L582.05,629.51 L583.03,629.24 L584.02,628.97 L585,628.7 L586.04,629.13 L587.08,629.56 L588.12,629.99 L589.16,630.42 L590.2,630.85 L591.21,630.75 L592.22,630.65 L593.23,630.56 L594.24,630.46 L595.25,630.36 L596.25,630.27 L597.26,630.17 L598.27,630.08 L599.28,629.98 L600.29,629.87 L601.3,629.72 L602.28,629.93 L603.26,630.15 L604.25,630.37 L605.23,630.59 L606.21,630.81 L607.19,631.03 L608.18,631.24 L609.16,631.46 L610.14,631.68 L611.12,631.9 L612.11,632.12 L613.09,632.33 L614.07,632.55 L615.05,632.77 L616.04,632.99 L617.02,633.21 L618,633.43 L619.03,633.41 L620.06,633.4 L621.08,633.38 L622.11,633.37 L623.14,633.35 L624.17,633.34 L625.19,633.32 L626.22,633.31 L627.25,633.29 L628.28,633.28 L629.31,633.26 L630.33,633.25 L631.36,633.23 L632.39,633.22 L633.42,633.2 L634.44,633.19 L635.47,633.17 L636.5,633.16 L637.05,632.3 L637.59,631.44 L638.14,630.59 L638.68,629.73 L639.23,628.87 L639.77,628.02 L640.32,627.16 L640.86,626.29 L641.41,625.43 L641.95,624.57 L642.5,623.7 L643.54,623.69 L644.57,623.67 L645.61,623.65 L646.65,623.64 L647.68,623.62 L648.72,623.61 L649.75,623.59 L650.79,623.57 L651.83,623.56 L652.86,623.54 L653.9,623.52 L654.34,622.57 L654.78,621.62 L655.22,620.66 L655.65,619.71 L656.09,618.76 L656.53,617.8 L656.97,616.85 L657.41,615.9 L657.85,614.95 L658.28,613.99 L658.72,613.04 L659.16,612.09 L659.6,611.13 L660.29,611.93 L660.98,612.73 L661.66,613.54 L662.35,614.34 L663.04,615.14 L663.73,615.94 L664.42,616.74 L665.11,617.54 L665.79,618.34 L666.48,619.14 L667.17,619.95 L667.86,620.75 L668.55,621.55 L669.24,622.35 L669.92,623.15 L670.61,623.95 L671.3,624.75 L671.58,623.78 L671.86,622.8 L672.14,621.83 L672.42,620.85 L672.7,619.87 L672.99,618.9 L673.27,617.92 L673.55,616.95 L673.83,615.97 L674.11,614.99 L674.39,614.02 L674.67,613.04 L674.95,612.07 L675.23,611.09 L675.51,610.12 L675.8,609.14 L676.08,608.16 L676.36,607.19 L676.64,606.21 L676.92,605.24 L677.2,604.26 L678.23,604.1 L679.25,603.94 L680.28,603.78 L681.31,603.61 L682.34,603.45 L683.36,603.29 L684.39,603.13 L685.42,602.97 L686.45,602.8 L687.47,602.64 L688.5,602.48 L688.8,601.49 L689.1,600.5 L689.4,599.5 L689.7,598.51 L690,597.52 L690.3,596.52 L690.6,595.53 L690.9,594.54 L691.2,593.55 L691.5,592.55 L691.8,591.56 L692.1,590.57 L692.4,589.57 L692.7,588.58 L693,587.59 L693,588.41 L692.7,589.41 L692.4,590.4 L692.1,591.39 L691.8,592.39 L691.5,593.38 L691.2,594.37 L690.9,595.37 L690.6,596.36 L690.3,597.36 L690,598.35 L689.7,599.34 L689.4,600.34 L689.1,601.33 L688.8,602.33 L688.5,603.32 L687.47,603.48 L686.45,603.65 L685.42,603.82 L684.39,603.98 L683.36,604.15 L682.34,604.31 L681.31,604.48 L680.28,604.64 L679.25,604.81 L678.23,604.97 L677.2,605.14 L676.92,606.11 L676.64,607.09 L676.36,608.07 L676.08,609.04 L675.8,610.02 L675.51,611 L675.23,611.97 L674.95,612.95 L674.67,613.93 L674.39,614.9 L674.11,615.88 L673.83,616.86 L673.55,617.83 L673.27,618.81 L672.99,619.79 L672.7,620.76 L672.42,621.74 L672.14,622.72 L671.86,623.69 L671.58,624.67 L671.3,625.65 L670.61,624.85 L669.92,624.05 L669.24,623.25 L668.55,622.45 L667.86,621.65 L667.17,620.85 L666.48,620.06 L665.79,619.26 L665.11,618.46 L664.42,617.66 L663.73,616.86 L663.04,616.06 L662.35,615.26 L661.66,614.46 L660.98,613.67 L660.29,612.87 L659.6,612.07 L659.16,613.02 L658.72,613.98 L658.28,614.93 L657.85,615.89 L657.41,616.84 L656.97,617.79 L656.53,618.75 L656.09,619.7 L655.65,620.66 L655.22,621.61 L654.78,622.57 L654.34,623.52 L653.9,624.48 L652.86,624.5 L651.83,624.52 L650.79,624.54 L649.75,624.56 L648.72,624.58 L647.68,624.6 L646.65,624.62 L645.61,624.64 L644.57,624.66 L643.54,624.68 L642.5,624.7 L641.95,625.56 L641.41,626.42 L640.86,627.29 L640.32,628.15 L639.77,629.02 L639.23,629.89 L638.68,630.76 L638.14,631.63 L637.59,632.5 L637.05,633.37 L636.5,634.24 L635.47,634.28 L634.44,634.33 L633.42,634.37 L632.39,634.41 L631.36,634.45 L630.33,634.49 L629.31,634.53 L628.28,634.57 L627.25,634.61 L626.22,634.65 L625.19,634.69 L624.17,634.73 L623.14,634.77 L622.11,634.81 L621.08,634.85 L620.06,634.89 L619.03,634.93 L618,634.98 L617.02,634.78 L616.04,634.59 L615.05,634.39 L614.07,634.2 L613.09,634.01 L612.11,633.81 L611.12,633.62 L610.14,633.43 L609.16,633.23 L608.18,633.04 L607.19,632.85 L606.21,632.65 L605.23,632.46 L604.25,632.26 L603.26,632.07 L602.28,631.88 L601.3,631.68 L600.29,631.86 L599.28,632.08 L598.27,632.31 L597.26,632.54 L596.25,632.77 L595.25,633 L594.24,633.23 L593.23,633.46 L592.22,633.69 L591.21,633.92 L590.2,634.15 L589.16,633.86 L588.12,633.57 L587.08,633.28 L586.04,632.99 L585,632.7 L584.02,633.27 L583.03,633.85 L582.05,634.42 L581.06,635 L580.08,635.57 L579.09,636.15 L578.11,636.72 L577.12,637.3 L576.14,637.87 L575.15,638.45 L574.17,639.02 L573.18,639.59 L572.2,640.17 L571.34,639.56 L570.49,638.95 L569.63,638.34 L568.77,637.73 L567.91,637.11 L567.06,636.5 L566.2,635.89 L565.17,635.99 L564.14,636.09 L563.11,636.19 L562.08,636.29 L561.05,636.39 L560.02,636.49 L558.99,636.59 L557.96,636.69 L556.93,636.8 L555.9,636.9 L555.06,636.25 L554.21,635.61 L553.37,634.97 L552.53,634.33 L551.69,633.68 L550.84,633.04 L550,632.4 L549,632.38 L548,632.35 L547,632.33 L546,632.3 L545,632.27 L544,632.25 L543,632.23 L542,632.2 L541,632.17 L540,632.15 L539,632.12 L538,632.1 L537.25,632.8 L536.5,633.5 L535.75,634.2 L535,634.9 L534.25,635.6 L533.5,636.3 L532.75,637 L532,637.7 L531,637.88 L530,638.05 L529,638.23 L528,638.4 L527,638.58 L526,638.75 L525,638.92 L524,639.24 L523,639.55 L522,639.86 L521,640.17 L520,640.48 L518.92,640.91 L517.84,641.34 L516.76,641.76 L515.68,642.19 L514.6,642.62 L513.85,641.91 L513.1,640.89 L512.35,639.88 L511.6,638.86 L510.85,637.84 L510.1,636.82 L509.35,635.8 L508.6,634.79 L507.85,633.77 L507.1,632.75 L506.35,631.73 L505.6,630.71 L504.85,629.7 L504.1,628.68 L503.35,627.66 L502.6,626.64 L501.95,625.49 L501.3,624.34 L500.65,623.2 L500,622.05 L499.35,620.9 L498.7,619.75 L498.05,618.6 L497.4,617.45 L496.32,617.34 L495.24,617.35 L494.15,617.37 L493.07,617.39 L491.99,617.41 L490.91,617.43 L489.83,617.45 L488.75,617.47 L487.66,617.48 L486.58,617.5 L485.5,617.52 L484.75,616.76 L484,616 L483.25,615.24 L482.5,614.48 L481.75,613.71 L481,612.95 L480.25,612.19 L479.5,611.43 L478.91,612.21 L478.32,612.99 L477.73,613.77 L477.14,614.55 L476.55,615.33 L475.96,616.11 L475.37,616.89 L474.78,617.67 L474.19,618.45 L473.61,619.24 L473.02,620.02 L472.43,620.8 L471.84,621.58 L471.25,622.36 L470.66,623.14 L470.07,623.92 L469.48,624.7 L468.89,625.48 L468.3,626.26 L468.11,625.25 L467.91,624.23 L467.72,623.22 L467.53,622.2 L467.33,621.18 L467.14,620.17 L466.95,619.15 L466.75,618.13 L466.56,617.12 L466.37,616.1 L466.17,615.09 L465.98,614.07 L465.79,613.05 L465.59,612.04 L465.4,611.02 L465.21,610 L465.01,608.99 L464.82,607.98 L464.63,606.97 L464.43,605.97 L464.24,604.96 L464.05,603.95 L463.85,602.95 L463.66,601.94 L463.47,600.93 L463.27,599.93 L463.08,598.92 L462.89,597.91 L462.69,596.91 L462.5,595.9 L461.97,596.78 L461.45,597.66 L460.92,598.55 L460.39,599.43 L459.86,600.31 L459.34,601.19 L458.81,602.07 L458.28,602.95 L457.75,603.84 L457.23,604.72 L456.7,605.6 L456.17,606.48 L455.65,607.36 L455.12,608.25 L454.59,609.13 L454.06,610.01 L453.54,610.89 L453.01,611.77 L452.48,612.65 L451.95,613.54 L451.43,614.42 L450.9,615.3 L450.63,614.3 L450.36,613.31 L450.1,612.31 L449.83,611.32 L449.56,610.32 L449.29,609.33 L449.02,608.33 L448.75,607.34 L448.49,606.34 L448.22,605.35 L447.95,604.35 L447.68,603.35 L447.41,602.36 L447.15,601.36 L446.88,600.37 L446.61,599.37 L446.34,598.38 L446.07,597.38 L445.8,596.39 L445.54,595.39 L445.27,594.4 L445,593.4 L444.66,594.35 L444.33,595.31 L443.99,596.26 L443.65,597.22 L443.31,598.17 L442.98,599.13 L442.64,600.08 L442.3,601.03 L441.97,601.99 L441.63,602.94 L441.29,603.9 L440.95,604.85 L440.62,605.81 L440.28,606.76 L439.94,607.71 L439.61,608.67 L439.27,609.62 L438.93,610.58 L438.59,611.53 L438.26,612.49 L437.92,613.44 L437.58,614.39 L437.25,615.35 L436.91,616.3 L436.57,617.26 L436.23,618.21 L435.9,619.17 L435.56,620.12 L435.22,621.07 L434.89,622.03 L434.55,622.98 L434.21,623.94 L433.87,624.89 L433.54,625.85 L433.2,626.8 L432.02,626.72 L430.84,626.64 L429.66,626.56 L428.48,626.48 L427.3,626.4 L426.28,626.68 L425.26,626.96 L424.25,627.25 L423.23,627.53 L422.21,627.81 L421.19,628.09 L420.17,628.37 L419.15,628.65 L418.14,628.94 L417.12,629.22 L416.1,629.5 L415.68,630.46 L415.25,631.42 L414.83,632.38 L414.4,633.33 L413.98,634.29 L413.55,635.25 L413.12,636.21 L412.7,637.17 L412.27,638.12 L411.85,639.08 L411.43,640.04 L411,641 Z" fill="#f3b9ba"/>
<line x1="430.1" y1="631.25" x2="700.3" y2="631.25" stroke="#555" stroke-width="1.2" stroke-dasharray="1.3,1.3"/>
<path d="M462.5,595.4 L468.3,623.4 L479.5,608 L485.5,613.1 L497.4,609.2 L514.6,621.7 L520,619.1 L524.8,614.8 L532,612.3 L538,605.7 L550,607.1 L555.9,613.1 L566.2,619.1 L572.2,626.8 L585,626.3 L590.2,629.9 L601.3,629.7 L618,634.2" fill="none" stroke="#1f77b4" stroke-width="1.5" stroke-dasharray="4.1,2.2"/>
<path d="M411,640.5 L416.1,629 L427.3,625.9 L433.2,626.3 L445,592.9 L450.9,614.8 L462.5,595.4 L468.3,625.6 L479.5,610.2 L485.5,616 L497.4,615.3 L502.6,622.5 L514.6,634.2 L520,632.8 L532,630.7 L538,625.1 L550,625.4 L555.9,630.7 L566.2,631.1 L572.2,636.2 L585,630.7 L590.2,632.5 L601.3,630.7 L618,634.2 L636.5,633.7 L642.5,624.2 L653.9,624 L659.6,611.6 L671.3,625.2 L677.2,604.7 L688.5,602.9 L693,588" fill="none" stroke="#d62728" stroke-width="1.3" stroke-linejoin="miter"/>
</g>
<g transform="translate(354.6,369.2)">
<line x1="72.9" y1="117.8" x2="72.9" y2="140.5" stroke="#000" stroke-width="1.7"/>
<line x1="334.3" y1="117.7" x2="334.3" y2="140.4" stroke="#000" stroke-width="1.7"/>
<line x1="172.8" y1="148.6" x2="172.8" y2="170.6" stroke="#000" stroke-opacity="0.40" stroke-width="1" stroke-dasharray="1,1"/>
<line x1="181.4" y1="148.6" x2="181.4" y2="170.6" stroke="#000" stroke-opacity="0.55" stroke-width="1" stroke-dasharray="1,1"/>
<line x1="188.9" y1="148.6" x2="188.9" y2="170.6" stroke="#000" stroke-opacity="0.55" stroke-width="1" stroke-dasharray="1,1"/>
<line x1="191.8" y1="148.6" x2="191.8" y2="170.6" stroke="#000" stroke-opacity="0.60" stroke-width="1" stroke-dasharray="1,1"/>
<line x1="194.1" y1="148.6" x2="194.1" y2="170.6" stroke="#000" stroke-opacity="0.45" stroke-width="1" stroke-dasharray="1,1"/>
<line x1="198.1" y1="148.6" x2="198.1" y2="170.6" stroke="#000" stroke-opacity="0.45" stroke-width="1" stroke-dasharray="1,1"/>
<line x1="200.9" y1="148.6" x2="200.9" y2="170.6" stroke="#000" stroke-opacity="0.60" stroke-width="1" stroke-dasharray="1,1"/>
<line x1="202.7" y1="148.6" x2="202.7" y2="170.6" stroke="#000" stroke-opacity="0.50" stroke-width="1" stroke-dasharray="1,1"/>
<line x1="205.3" y1="148.6" x2="205.3" y2="170.6" stroke="#000" stroke-opacity="0.45" stroke-width="1" stroke-dasharray="1,1"/>
<line x1="207" y1="148.6" x2="207" y2="170.6" stroke="#000" stroke-opacity="0.60" stroke-width="1" stroke-dasharray="1,1"/>
<line x1="208.8" y1="148.6" x2="208.8" y2="170.6" stroke="#000" stroke-opacity="0.65" stroke-width="1" stroke-dasharray="1,1"/>
<line x1="211.3" y1="148.6" x2="211.3" y2="170.6" stroke="#000" stroke-opacity="0.50" stroke-width="1" stroke-dasharray="1,1"/>
<line x1="213" y1="148.6" x2="213" y2="170.6" stroke="#000" stroke-opacity="0.55" stroke-width="1" stroke-dasharray="1,1"/>
<line x1="214.1" y1="148.6" x2="214.1" y2="170.6" stroke="#000" stroke-opacity="0.50" stroke-width="1" stroke-dasharray="1,1"/>
<line x1="183.8" y1="148.0" x2="183.8" y2="171.4" stroke="#000" stroke-width="1.6"/>
<g font-family="Liberation Serif" font-size="12.9" fill="#000">
<text transform="translate(82,112.9) rotate(-90)">Gd II</text>
<text transform="translate(339.9,112.8) rotate(-90)">Zr II</text>
<text text-anchor="end" transform="translate(186.8,177.6) rotate(-90)">U II</text>
<text text-anchor="end" transform="translate(209.6,177.6) rotate(-90)">La II</text>
</g>
<line x1="160.1" y1="218.3" x2="160.1" y2="198.7" stroke="#000" stroke-width="1.5"/>
<line x1="160.1" y1="294.0" x2="160.1" y2="274.8" stroke="#000" stroke-width="1.5"/>
<line x1="276.24" y1="218.3" x2="276.24" y2="198.7" stroke="#000" stroke-width="1.5"/>
<line x1="276.24" y1="294.0" x2="276.24" y2="274.8" stroke="#000" stroke-width="1.5"/>
<line x1="72.99" y1="218.3" x2="72.99" y2="208.7" stroke="#000" stroke-width="1.3"/>
<line x1="72.99" y1="294.0" x2="72.99" y2="284.6" stroke="#000" stroke-width="1.3"/>
<line x1="102.03" y1="218.3" x2="102.03" y2="208.7" stroke="#000" stroke-width="1.3"/>
<line x1="102.03" y1="294.0" x2="102.03" y2="284.6" stroke="#000" stroke-width="1.3"/>
<line x1="131.06" y1="218.3" x2="131.06" y2="208.7" stroke="#000" stroke-width="1.3"/>
<line x1="131.06" y1="294.0" x2="131.06" y2="284.6" stroke="#000" stroke-width="1.3"/>
<line x1="189.14" y1="218.3" x2="189.14" y2="208.7" stroke="#000" stroke-width="1.3"/>
<line x1="189.14" y1="294.0" x2="189.14" y2="284.6" stroke="#000" stroke-width="1.3"/>
<line x1="218.17" y1="218.3" x2="218.17" y2="208.7" stroke="#000" stroke-width="1.3"/>
<line x1="218.17" y1="294.0" x2="218.17" y2="284.6" stroke="#000" stroke-width="1.3"/>
<line x1="247.21" y1="218.3" x2="247.21" y2="208.7" stroke="#000" stroke-width="1.3"/>
<line x1="247.21" y1="294.0" x2="247.21" y2="284.6" stroke="#000" stroke-width="1.3"/>
<line x1="305.27" y1="218.3" x2="305.27" y2="208.7" stroke="#000" stroke-width="1.3"/>
<line x1="305.27" y1="294.0" x2="305.27" y2="284.6" stroke="#000" stroke-width="1.3"/>
<line x1="334.31" y1="218.3" x2="334.31" y2="208.7" stroke="#000" stroke-width="1.3"/>
<line x1="334.31" y1="294.0" x2="334.31" y2="284.6" stroke="#000" stroke-width="1.3"/>
<line x1="55.9" y1="73.3" x2="75.5" y2="73.3" stroke="#000" stroke-width="1.5"/>
<line x1="55.9" y1="189.3" x2="65.5" y2="189.3" stroke="#000" stroke-width="1.3"/>
<line x1="55.9" y1="160.3" x2="65.5" y2="160.3" stroke="#000" stroke-width="1.3"/>
<line x1="55.9" y1="131.3" x2="65.5" y2="131.3" stroke="#000" stroke-width="1.3"/>
<line x1="55.9" y1="102.3" x2="65.5" y2="102.3" stroke="#000" stroke-width="1.3"/>
<line x1="55.9" y1="44.3" x2="65.5" y2="44.3" stroke="#000" stroke-width="1.3"/>
<line x1="55.9" y1="15.3" x2="65.5" y2="15.3" stroke="#000" stroke-width="1.3"/>
<line x1="55.9" y1="262.05" x2="75.5" y2="262.05" stroke="#000" stroke-width="1.6"/>
<rect x="55.9" y="0.7" width="289.8" height="217.6" fill="none" stroke="#000" stroke-width="1.5"/>
<rect x="55.9" y="229.5" width="289.8" height="64.5" fill="none" stroke="#000" stroke-width="1.5"/>
<g font-family="Liberation Serif" font-size="15.3" fill="#000" text-anchor="end">
<text x="51.6" y="78.6">1.0</text>
<text x="51.6" y="222.2">0.9</text>
<text x="51.6" y="235.4">2.5</text>
<text x="51.6" y="267.25">0.0</text>
<text x="51.6" y="299.9">−2.5</text>
</g>
<g font-family="Liberation Serif" font-size="15.8" fill="#000" text-anchor="middle">
<text x="160.1" y="309.9">4050.0</text>
<text x="276.24" y="309.9">4050.2</text>
</g>
<text font-family="Liberation Serif" font-size="16.7" x="200.8" y="330.5" text-anchor="middle">Wavelength (Å)</text>
<text font-family="Liberation Serif" font-size="16.7" text-anchor="middle" transform="translate(25.6,109.5) rotate(-90)">Normalized Flux</text>
<text font-family="Liberation Serif" font-size="16.7" text-anchor="middle" transform="translate(12.4,261.75) rotate(-90)">Residual (%)</text>
<text font-family="Liberation Serif" font-size="12.5" x="276.4" y="18.9">(d) CS31082</text>
<rect x="61.4" y="6.4" width="159.6" height="57.8" rx="2.5" fill="#fff" fill-opacity="0.8" stroke="#d0d0d0" stroke-width="0.9"/>
<rect x="65.9" y="12.0" width="25.4" height="9.4" fill="#f3b9ba"/>
<line x1="65.9" y1="16.8" x2="91.3" y2="16.8" stroke="#d62728" stroke-width="1.5"/>
<line x1="65.9" y1="34.7" x2="91.3" y2="34.7" stroke="#1f77b4" stroke-width="1.5" stroke-dasharray="4.3,2.0"/>
<line x1="65.9" y1="52.7" x2="91.3" y2="52.7" stroke="#000" stroke-width="1.3" stroke-dasharray="1.3,1.84"/>
<g font-family="Liberation Serif" font-size="13" fill="#000">
<text x="100.1" y="21.4">log <tspan font-style="italic">ϵ</tspan>(U) = −1.60 ± 0.2</text>
<text x="100.1" y="39.3">log <tspan font-style="italic">ϵ</tspan>(U) = −<tspan font-size="16">∞</tspan></text>
<text x="100.1" y="57.3">log <tspan font-style="italic">ϵ</tspan>(U, La) = −<tspan font-size="16">∞</tspan></text>
</g>
</g>
</svg></body></html>
